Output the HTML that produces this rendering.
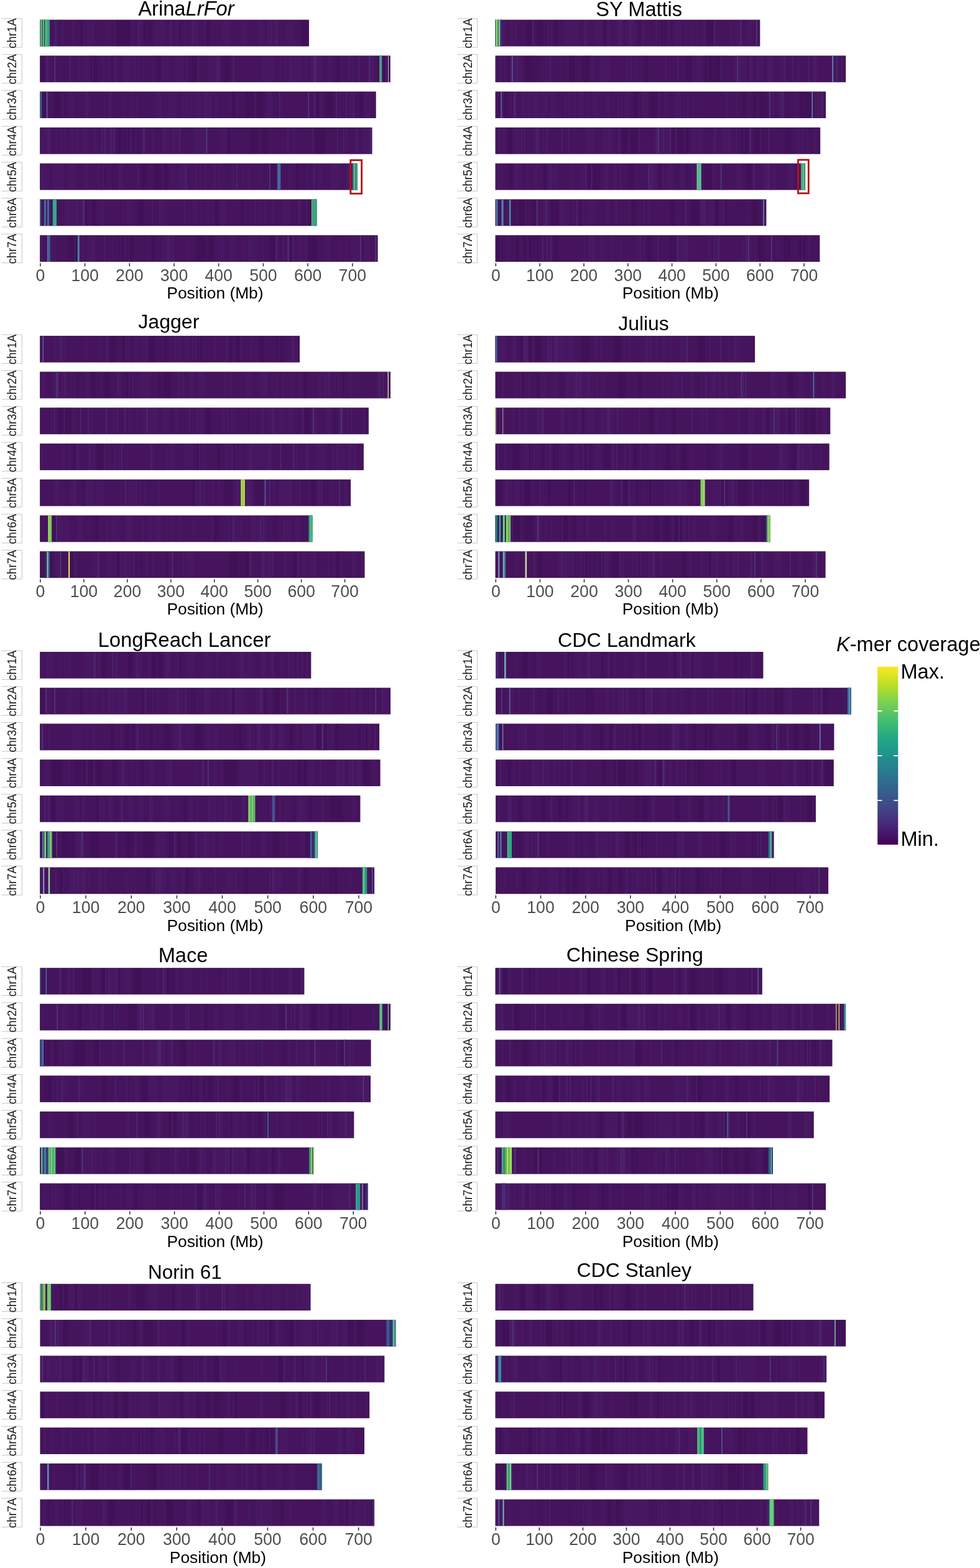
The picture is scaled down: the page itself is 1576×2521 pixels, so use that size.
<!DOCTYPE html>
<html lang="en">
<head>
<meta charset="utf-8">
<title>K-mer coverage across chromosomes</title>
<style>
html,body{margin:0;padding:0;background:#fff;}
body{width:1576px;height:2521px;overflow:hidden;}
svg{display:block;font-family:"Liberation Sans",sans-serif;}
.t{fill:#000;}
.ax{font-size:26.35px;fill:#000;text-anchor:middle;}
.tk{font-size:28.2px;fill:#4d4d4d;text-anchor:middle;}
.st{font-size:19.9px;fill:#1a1a1a;text-anchor:middle;}
.lg{font-size:32.6px;fill:#000;}
.sb{fill:none;stroke:#c4c4c4;stroke-width:1;}
.tm{stroke:#333;stroke-width:1.6;fill:none;}
</style>
</head>
<body>
<svg width="1576" height="2521" viewBox="0 0 1576 2521">
<defs>
<linearGradient id="vir" x1="0" y1="1" x2="0" y2="0">
<stop offset="0" stop-color="#440154"/><stop offset="0.1" stop-color="#482475"/><stop offset="0.2" stop-color="#414487"/>
<stop offset="0.3" stop-color="#355f8d"/><stop offset="0.4" stop-color="#2a788e"/><stop offset="0.5" stop-color="#21918c"/>
<stop offset="0.6" stop-color="#22a884"/><stop offset="0.7" stop-color="#44bf70"/><stop offset="0.8" stop-color="#7ad151"/>
<stop offset="0.9" stop-color="#bddf26"/><stop offset="1" stop-color="#fde725"/>
</linearGradient>
</defs>
<rect width="1576" height="2521" fill="#fff"/>

<g>
<text class="t" x="299.4" y="24.9" font-size="32.7" text-anchor="middle">Arina<tspan font-style="italic">LrFor</tspan></text>
<path class="sb" d="M2.6 29.8H35.2V76.2H2.6"/>
<text class="st" transform="translate(25.9 53.6) rotate(-90) scale(0.93 1)">chr1A</text>
<rect x="64.1" y="31.7" width="432.9" height="42.8" fill="#45145c"/>
<path d="M89.68 31.7h3.69v42.8h-3.69zM93.8 31.7h7.77v42.8h-7.77zM114.55 31.7h4.59v42.8h-4.59zM140.17 31.7h11.98v42.8h-11.98zM221.58 31.7h10.03v42.8h-10.03zM244.72 31.7h10.48v42.8h-10.48zM256 31.7h9.44v42.8h-9.44zM262.47 31.7h3.25v42.8h-3.25zM273.49 31.7h4.67v42.8h-4.67zM281.92 31.7h3.64v42.8h-3.64zM294.05 31.7h3.8v42.8h-3.8zM309.61 31.7h9.54v42.8h-9.54zM358.49 31.7h11.74v42.8h-11.74zM387.17 31.7h10.35v42.8h-10.35zM415.7 31.7h7.67v42.8h-7.67zM432.72 31.7h3.51v42.8h-3.51zM461.49 31.7h12.24v42.8h-12.24z" fill="#6a4aa0" fill-opacity="0.08"/>
<path d="M89.74 31.7h10.31v42.8h-10.31zM128.41 31.7h6.56v42.8h-6.56zM185.57 31.7h11.02v42.8h-11.02zM195.96 31.7h12.63v42.8h-12.63zM228.74 31.7h6.13v42.8h-6.13zM232.11 31.7h9.35v42.8h-9.35zM243.31 31.7h4.3v42.8h-4.3zM286.56 31.7h9.32v42.8h-9.32zM332.29 31.7h5.46v42.8h-5.46zM483.96 31.7h10.12v42.8h-10.12z" fill="#25003a" fill-opacity="0.1"/>
<path d="M64.7 31.7h1.06v42.8h-1.06zM66.36 31.7h1.32v42.8h-1.32zM76.23 31.7h1.65v42.8h-1.65zM90 31.7h1.14v42.8h-1.14zM91.38 31.7h1.76v42.8h-1.76zM99.24 31.7h2.05v42.8h-2.05zM134 31.7h1.99v42.8h-1.99zM134.5 31.7h1.25v42.8h-1.25zM140.5 31.7h1.18v42.8h-1.18zM171.26 31.7h1.16v42.8h-1.16zM184.28 31.7h2.04v42.8h-2.04zM212.2 31.7h1.12v42.8h-1.12zM214.18 31.7h1.3v42.8h-1.3zM221.24 31.7h1.12v42.8h-1.12zM222.5 31.7h1.31v42.8h-1.31zM236.33 31.7h1.47v42.8h-1.47zM272.81 31.7h1.56v42.8h-1.56zM273.43 31.7h1.28v42.8h-1.28zM286.3 31.7h1.83v42.8h-1.83zM291.62 31.7h2.14v42.8h-2.14zM328.56 31.7h2.05v42.8h-2.05zM435.59 31.7h2.17v42.8h-2.17zM440.61 31.7h1.94v42.8h-1.94z" fill="#6a52a8" fill-opacity="0.12"/>
<path d="M87.82 31.7h1.81v42.8h-1.81zM308.39 31.7h1.44v42.8h-1.44zM430.28 31.7h1.15v42.8h-1.15zM444.67 31.7h1.66v42.8h-1.66zM445.22 31.7h1.43v42.8h-1.43z" fill="#6f62b8" fill-opacity="0.18"/>
<rect x="64.1" y="31.7" width="1.5" height="42.8" fill="#3f9070"/>
<rect x="65.6" y="31.7" width="1.6" height="42.8" fill="#80d080"/>
<rect x="67.2" y="31.7" width="1.6" height="42.8" fill="#2f7a60"/>
<rect x="68.8" y="31.7" width="2.1" height="42.8" fill="#70b0a0"/>
<rect x="70.9" y="31.7" width="1.8" height="42.8" fill="#1f6a58"/>
<rect x="72.7" y="31.7" width="1.3" height="42.8" fill="#70c888"/>
<rect x="74" y="31.7" width="3.8" height="42.8" fill="#45b080"/>
<rect x="77.8" y="31.7" width="2.2" height="42.8" fill="#3a9a88"/>
<path class="sb" d="M2.6 87.54H35.2V133.94H2.6"/>
<text class="st" transform="translate(25.9 111.34) rotate(-90) scale(0.93 1)">chr2A</text>
<rect x="64.1" y="89.44" width="563.7" height="42.8" fill="#45145c"/>
<path d="M74.48 89.44h8.76v42.8h-8.76zM136.75 89.44h9.04v42.8h-9.04zM180.51 89.44h12.09v42.8h-12.09zM186.83 89.44h7.01v42.8h-7.01zM198.2 89.44h6.22v42.8h-6.22zM201.9 89.44h9.16v42.8h-9.16zM220.68 89.44h3.31v42.8h-3.31zM244.88 89.44h9.12v42.8h-9.12zM258.93 89.44h13.01v42.8h-13.01zM261.44 89.44h8.69v42.8h-8.69zM281.82 89.44h13.69v42.8h-13.69zM297.84 89.44h5.85v42.8h-5.85zM328.19 89.44h11.25v42.8h-11.25zM340.31 89.44h13.09v42.8h-13.09zM421.43 89.44h13.68v42.8h-13.68zM425.54 89.44h13.78v42.8h-13.78zM462.95 89.44h13.41v42.8h-13.41zM472.29 89.44h12v42.8h-12zM499.05 89.44h9.11v42.8h-9.11zM506.72 89.44h10.18v42.8h-10.18zM527.01 89.44h12.9v42.8h-12.9zM565.34 89.44h9.42v42.8h-9.42zM593.13 89.44h10.62v42.8h-10.62z" fill="#6a4aa0" fill-opacity="0.08"/>
<path d="M66.3 89.44h5.01v42.8h-5.01zM144.76 89.44h11.87v42.8h-11.87zM148.64 89.44h4.4v42.8h-4.4zM178.25 89.44h5.16v42.8h-5.16zM188.35 89.44h6.63v42.8h-6.63zM247.66 89.44h11.68v42.8h-11.68zM302.88 89.44h13.27v42.8h-13.27zM328.69 89.44h4.9v42.8h-4.9zM358.2 89.44h11.49v42.8h-11.49zM532.93 89.44h13.83v42.8h-13.83zM567.6 89.44h10.27v42.8h-10.27zM607.91 89.44h13.31v42.8h-13.31z" fill="#25003a" fill-opacity="0.1"/>
<path d="M74.75 89.44h1.53v42.8h-1.53zM75.53 89.44h1.87v42.8h-1.87zM126.05 89.44h1.29v42.8h-1.29zM132.9 89.44h1.16v42.8h-1.16zM137.14 89.44h1.32v42.8h-1.32zM164.42 89.44h1.6v42.8h-1.6zM174.47 89.44h1.41v42.8h-1.41zM177.92 89.44h1.06v42.8h-1.06zM199.75 89.44h1.09v42.8h-1.09zM205.27 89.44h1.02v42.8h-1.02zM213.73 89.44h1.13v42.8h-1.13zM216.26 89.44h1.93v42.8h-1.93zM306.9 89.44h1.19v42.8h-1.19zM318.31 89.44h1.83v42.8h-1.83zM348.2 89.44h1.74v42.8h-1.74zM349.31 89.44h1.93v42.8h-1.93zM351.95 89.44h1.75v42.8h-1.75zM373.64 89.44h1.88v42.8h-1.88zM451.12 89.44h1.07v42.8h-1.07zM457.54 89.44h1.68v42.8h-1.68zM466.71 89.44h1.19v42.8h-1.19zM490.93 89.44h1.37v42.8h-1.37zM549.15 89.44h1.08v42.8h-1.08zM576.31 89.44h1.91v42.8h-1.91zM591.59 89.44h1.09v42.8h-1.09zM592.83 89.44h2.05v42.8h-2.05zM592.9 89.44h1.57v42.8h-1.57zM599.37 89.44h1.26v42.8h-1.26z" fill="#6a52a8" fill-opacity="0.12"/>
<path d="M111.56 89.44h1.96v42.8h-1.96zM148.45 89.44h1.31v42.8h-1.31zM375.03 89.44h1.41v42.8h-1.41zM504.31 89.44h1.8v42.8h-1.8zM506.49 89.44h2.18v42.8h-2.18zM560.34 89.44h1.17v42.8h-1.17zM576.08 89.44h1.51v42.8h-1.51zM593.8 89.44h1.67v42.8h-1.67zM620.03 89.44h1.58v42.8h-1.58z" fill="#6f62b8" fill-opacity="0.18"/>
<rect x="87.5" y="89.44" width="1.5" height="42.8" fill="#503c7c"/>
<rect x="610" y="89.44" width="4.3" height="42.8" fill="#4f9a87"/>
<rect x="624" y="89.44" width="1.1" height="42.8" fill="#a8b8c8"/>
<path class="sb" d="M2.6 145.28H35.2V191.68H2.6"/>
<text class="st" transform="translate(25.9 169.08) rotate(-90) scale(0.93 1)">chr3A</text>
<rect x="64.1" y="147.18" width="540.6" height="42.8" fill="#45145c"/>
<path d="M76.18 147.18h3.46v42.8h-3.46zM112.09 147.18h5.91v42.8h-5.91zM135.61 147.18h3.34v42.8h-3.34zM137.75 147.18h11.93v42.8h-11.93zM147.99 147.18h8.05v42.8h-8.05zM151.4 147.18h5.81v42.8h-5.81zM193.56 147.18h6.1v42.8h-6.1zM249.4 147.18h7.45v42.8h-7.45zM254.59 147.18h6.41v42.8h-6.41zM269.74 147.18h12.67v42.8h-12.67zM271.81 147.18h12.18v42.8h-12.18zM292.55 147.18h12.01v42.8h-12.01zM317.28 147.18h7.2v42.8h-7.2zM330.36 147.18h11.23v42.8h-11.23zM334.33 147.18h5.21v42.8h-5.21zM377.41 147.18h5.56v42.8h-5.56zM431.62 147.18h10.51v42.8h-10.51zM512.47 147.18h4.15v42.8h-4.15zM561.68 147.18h8.22v42.8h-8.22zM584.83 147.18h10.57v42.8h-10.57z" fill="#6a4aa0" fill-opacity="0.08"/>
<path d="M65.86 147.18h8.38v42.8h-8.38zM87.33 147.18h10.08v42.8h-10.08zM102.02 147.18h4.43v42.8h-4.43zM142.83 147.18h13.83v42.8h-13.83zM194.04 147.18h9.02v42.8h-9.02zM372.78 147.18h12.09v42.8h-12.09zM395.2 147.18h12.81v42.8h-12.81zM396.43 147.18h9.91v42.8h-9.91zM412.17 147.18h11.26v42.8h-11.26zM437.57 147.18h12.16v42.8h-12.16zM508.33 147.18h8.55v42.8h-8.55zM524.05 147.18h12.25v42.8h-12.25zM578.37 147.18h5.9v42.8h-5.9z" fill="#25003a" fill-opacity="0.1"/>
<path d="M100.12 147.18h1.79v42.8h-1.79zM104.68 147.18h1.3v42.8h-1.3zM140.33 147.18h1.36v42.8h-1.36zM166.74 147.18h1.61v42.8h-1.61zM174.95 147.18h1.88v42.8h-1.88zM177.85 147.18h2.13v42.8h-2.13zM198.61 147.18h2.12v42.8h-2.12zM201.33 147.18h1.18v42.8h-1.18zM209.15 147.18h1.54v42.8h-1.54zM209.34 147.18h1.07v42.8h-1.07zM212.66 147.18h1.51v42.8h-1.51zM218.53 147.18h1.77v42.8h-1.77zM264.95 147.18h1.35v42.8h-1.35zM307.04 147.18h1.88v42.8h-1.88zM314.58 147.18h1.62v42.8h-1.62zM325.91 147.18h2.08v42.8h-2.08zM329.43 147.18h1v42.8h-1zM330.06 147.18h2.17v42.8h-2.17zM370.19 147.18h1.37v42.8h-1.37zM381.22 147.18h2.2v42.8h-2.2zM410.32 147.18h1.74v42.8h-1.74zM427.97 147.18h1.83v42.8h-1.83zM432.45 147.18h1.57v42.8h-1.57zM442.67 147.18h2.06v42.8h-2.06zM451.69 147.18h1.66v42.8h-1.66zM506.24 147.18h1.16v42.8h-1.16zM514.05 147.18h1.12v42.8h-1.12zM515.79 147.18h1.9v42.8h-1.9zM516.83 147.18h1.38v42.8h-1.38zM545.8 147.18h1.14v42.8h-1.14zM567.77 147.18h2.17v42.8h-2.17z" fill="#6a52a8" fill-opacity="0.12"/>
<path d="M346.77 147.18h1.17v42.8h-1.17zM447.84 147.18h2.11v42.8h-2.11zM505.75 147.18h1.55v42.8h-1.55zM539.85 147.18h2.15v42.8h-2.15zM555.88 147.18h1.76v42.8h-1.76z" fill="#6f62b8" fill-opacity="0.18"/>
<rect x="64.1" y="147.18" width="3.1" height="42.8" fill="#3e5a8e"/>
<rect x="75" y="147.18" width="1.2" height="42.8" fill="#6670a8"/>
<rect x="495.5" y="147.18" width="1.5" height="42.8" fill="#503c7c"/>
<path class="sb" d="M2.6 203.02H35.2V249.42H2.6"/>
<text class="st" transform="translate(25.9 226.82) rotate(-90) scale(0.93 1)">chr4A</text>
<rect x="64.1" y="204.92" width="534.4" height="42.8" fill="#45145c"/>
<path d="M69.59 204.92h9.61v42.8h-9.61zM101.4 204.92h4.23v42.8h-4.23zM112.16 204.92h6.76v42.8h-6.76zM121.75 204.92h5.73v42.8h-5.73zM130.46 204.92h13.19v42.8h-13.19zM149.71 204.92h4.84v42.8h-4.84zM166.05 204.92h4.54v42.8h-4.54zM176.81 204.92h12.49v42.8h-12.49zM223.37 204.92h10.1v42.8h-10.1zM262.19 204.92h8.77v42.8h-8.77zM267.84 204.92h9.41v42.8h-9.41zM275.44 204.92h5.73v42.8h-5.73zM280.05 204.92h11.25v42.8h-11.25zM310.93 204.92h12.85v42.8h-12.85zM312.06 204.92h12.72v42.8h-12.72zM323.29 204.92h12.97v42.8h-12.97zM354.39 204.92h8.03v42.8h-8.03zM358.42 204.92h6.31v42.8h-6.31zM583.69 204.92h12.97v42.8h-12.97z" fill="#6a4aa0" fill-opacity="0.08"/>
<path d="M81.23 204.92h3.24v42.8h-3.24zM185.69 204.92h11.61v42.8h-11.61zM199.56 204.92h13.74v42.8h-13.74zM211.38 204.92h3.68v42.8h-3.68zM221.21 204.92h6.78v42.8h-6.78zM272.15 204.92h3v42.8h-3zM330.91 204.92h4.38v42.8h-4.38zM365.18 204.92h5.84v42.8h-5.84zM400.46 204.92h5.77v42.8h-5.77zM402.96 204.92h10.94v42.8h-10.94zM422.64 204.92h8.75v42.8h-8.75zM506.18 204.92h13.49v42.8h-13.49zM510.92 204.92h12.08v42.8h-12.08zM568.82 204.92h8.07v42.8h-8.07z" fill="#25003a" fill-opacity="0.1"/>
<path d="M66.13 204.92h1.2v42.8h-1.2zM76.19 204.92h1.37v42.8h-1.37zM77.49 204.92h2.13v42.8h-2.13zM80.69 204.92h2.08v42.8h-2.08zM81.55 204.92h1.9v42.8h-1.9zM92.19 204.92h1.17v42.8h-1.17zM167.15 204.92h2.1v42.8h-2.1zM169.9 204.92h1.82v42.8h-1.82zM174.78 204.92h2.16v42.8h-2.16zM182.43 204.92h1.28v42.8h-1.28zM183.45 204.92h1.22v42.8h-1.22zM203.99 204.92h1.74v42.8h-1.74zM211.24 204.92h1.38v42.8h-1.38zM244.56 204.92h1.04v42.8h-1.04zM263.49 204.92h1.45v42.8h-1.45zM287.88 204.92h1.81v42.8h-1.81zM316.64 204.92h1.06v42.8h-1.06zM332.95 204.92h1.89v42.8h-1.89zM472.03 204.92h1.97v42.8h-1.97zM501.43 204.92h1.99v42.8h-1.99zM551.69 204.92h1.91v42.8h-1.91zM556.41 204.92h1.8v42.8h-1.8zM568.96 204.92h1.8v42.8h-1.8zM571.07 204.92h1.35v42.8h-1.35zM572.91 204.92h1.42v42.8h-1.42zM575.75 204.92h1.3v42.8h-1.3z" fill="#6a52a8" fill-opacity="0.12"/>
<path d="M97.91 204.92h1.04v42.8h-1.04zM163.29 204.92h1.4v42.8h-1.4zM177.87 204.92h1.47v42.8h-1.47zM209.47 204.92h1.41v42.8h-1.41zM230.19 204.92h2.16v42.8h-2.16zM462.23 204.92h1.31v42.8h-1.31zM542.36 204.92h1.47v42.8h-1.47zM573.44 204.92h1.57v42.8h-1.57zM594.81 204.92h1.88v42.8h-1.88z" fill="#6f62b8" fill-opacity="0.18"/>
<rect x="331.5" y="204.92" width="1.5" height="42.8" fill="#503c7c"/>
<path class="sb" d="M2.6 260.76H35.2V307.16H2.6"/>
<text class="st" transform="translate(25.9 284.56) rotate(-90) scale(0.93 1)">chr5A</text>
<rect x="64.1" y="262.66" width="511" height="42.8" fill="#45145c"/>
<path d="M69.86 262.66h5.24v42.8h-5.24zM84.2 262.66h13.06v42.8h-13.06zM96.81 262.66h5.72v42.8h-5.72zM112.99 262.66h3.92v42.8h-3.92zM135.34 262.66h7.06v42.8h-7.06zM156.77 262.66h10.46v42.8h-10.46zM189.25 262.66h5.19v42.8h-5.19zM190.56 262.66h7.25v42.8h-7.25zM287.67 262.66h10.81v42.8h-10.81zM287.97 262.66h12.53v42.8h-12.53zM367.42 262.66h11.5v42.8h-11.5zM374.97 262.66h9.56v42.8h-9.56zM490.14 262.66h4.33v42.8h-4.33zM511.77 262.66h4.69v42.8h-4.69zM530.54 262.66h8.43v42.8h-8.43zM530.66 262.66h9.42v42.8h-9.42zM536.43 262.66h11.56v42.8h-11.56zM556.31 262.66h12.72v42.8h-12.72zM560.38 262.66h10.19v42.8h-10.19z" fill="#6a4aa0" fill-opacity="0.08"/>
<path d="M160.15 262.66h4.31v42.8h-4.31zM164.16 262.66h3.87v42.8h-3.87zM180.35 262.66h8.58v42.8h-8.58zM227.61 262.66h9.08v42.8h-9.08zM246.65 262.66h6.52v42.8h-6.52zM251.24 262.66h9.24v42.8h-9.24zM263.88 262.66h6.59v42.8h-6.59zM366.93 262.66h5.8v42.8h-5.8zM376.37 262.66h7.59v42.8h-7.59zM432.73 262.66h11.83v42.8h-11.83zM475.93 262.66h8.22v42.8h-8.22zM487.4 262.66h11.23v42.8h-11.23z" fill="#25003a" fill-opacity="0.1"/>
<path d="M76.49 262.66h1.53v42.8h-1.53zM109.82 262.66h2.09v42.8h-2.09zM116.2 262.66h1.08v42.8h-1.08zM119.04 262.66h1.57v42.8h-1.57zM164.82 262.66h2.16v42.8h-2.16zM164.89 262.66h1.44v42.8h-1.44zM175.58 262.66h1.22v42.8h-1.22zM184.2 262.66h1.59v42.8h-1.59zM259.6 262.66h1.62v42.8h-1.62zM278.26 262.66h1.37v42.8h-1.37zM297.44 262.66h1.94v42.8h-1.94zM298.71 262.66h2.06v42.8h-2.06zM321.15 262.66h1.45v42.8h-1.45zM344.18 262.66h1.72v42.8h-1.72zM345.33 262.66h1.02v42.8h-1.02zM350.8 262.66h1.05v42.8h-1.05zM352.75 262.66h1.37v42.8h-1.37zM389.52 262.66h1.66v42.8h-1.66zM399.61 262.66h1.51v42.8h-1.51zM418.43 262.66h1.2v42.8h-1.2zM464.43 262.66h1.19v42.8h-1.19zM469.2 262.66h1.24v42.8h-1.24zM481.75 262.66h1.51v42.8h-1.51zM491.21 262.66h1.05v42.8h-1.05zM535.96 262.66h1.06v42.8h-1.06zM560.05 262.66h2.13v42.8h-2.13z" fill="#6a52a8" fill-opacity="0.12"/>
<path d="M67.59 262.66h1.24v42.8h-1.24zM221.06 262.66h1.34v42.8h-1.34zM314.21 262.66h1.13v42.8h-1.13zM329.69 262.66h1.34v42.8h-1.34zM379.68 262.66h2.09v42.8h-2.09zM433.35 262.66h1.3v42.8h-1.3zM494.98 262.66h1.49v42.8h-1.49zM504.07 262.66h1.5v42.8h-1.5z" fill="#6f62b8" fill-opacity="0.18"/>
<rect x="433" y="262.66" width="1.5" height="42.8" fill="#503c7c"/>
<rect x="446" y="262.66" width="5.3" height="42.8" fill="#3f6a9c"/>
<rect x="567.2" y="262.66" width="2" height="42.8" fill="#3a9088"/>
<rect x="569.2" y="262.66" width="1.8" height="42.8" fill="#70c080"/>
<rect x="571" y="262.66" width="1.5" height="42.8" fill="#2a8a78"/>
<rect x="572.5" y="262.66" width="2.6" height="42.8" fill="#45a880"/>
<path class="sb" d="M2.6 318.5H35.2V364.9H2.6"/>
<text class="st" transform="translate(25.9 342.3) rotate(-90) scale(0.93 1)">chr6A</text>
<rect x="64.1" y="320.4" width="445.4" height="42.8" fill="#45145c"/>
<path d="M79.05 320.4h3.02v42.8h-3.02zM87.8 320.4h8.63v42.8h-8.63zM104.24 320.4h7.74v42.8h-7.74zM114.02 320.4h11.63v42.8h-11.63zM126.33 320.4h11.97v42.8h-11.97zM154.15 320.4h13.12v42.8h-13.12zM203.48 320.4h8.57v42.8h-8.57zM256.05 320.4h11.41v42.8h-11.41zM313.23 320.4h13.9v42.8h-13.9zM353.44 320.4h9.44v42.8h-9.44zM413.53 320.4h7.34v42.8h-7.34zM453.54 320.4h10.48v42.8h-10.48zM459.16 320.4h4.75v42.8h-4.75zM480.81 320.4h7.16v42.8h-7.16z" fill="#6a4aa0" fill-opacity="0.08"/>
<path d="M81.91 320.4h8.61v42.8h-8.61zM85.07 320.4h11.18v42.8h-11.18zM135.1 320.4h5v42.8h-5zM148.06 320.4h11.96v42.8h-11.96zM219.08 320.4h3.72v42.8h-3.72zM220.75 320.4h10v42.8h-10zM317.17 320.4h9.11v42.8h-9.11zM345.12 320.4h5.79v42.8h-5.79zM387.93 320.4h3.9v42.8h-3.9zM411.45 320.4h4.82v42.8h-4.82zM482.14 320.4h8.41v42.8h-8.41zM495.39 320.4h12.43v42.8h-12.43zM502.24 320.4h4.15v42.8h-4.15z" fill="#25003a" fill-opacity="0.1"/>
<path d="M69.69 320.4h1.32v42.8h-1.32zM71.34 320.4h2.06v42.8h-2.06zM74.47 320.4h1.78v42.8h-1.78zM107.06 320.4h1.18v42.8h-1.18zM111.25 320.4h1.27v42.8h-1.27zM111.72 320.4h1.43v42.8h-1.43zM123 320.4h2.07v42.8h-2.07zM197.63 320.4h1.37v42.8h-1.37zM213.35 320.4h1.05v42.8h-1.05zM219.7 320.4h1.67v42.8h-1.67zM244.36 320.4h1.64v42.8h-1.64zM255.93 320.4h1.74v42.8h-1.74zM296.11 320.4h1.95v42.8h-1.95zM309.97 320.4h1.32v42.8h-1.32zM323.21 320.4h1.27v42.8h-1.27zM334.08 320.4h1.24v42.8h-1.24zM341.1 320.4h1.25v42.8h-1.25zM393.08 320.4h1.56v42.8h-1.56zM409.9 320.4h1.07v42.8h-1.07zM410.59 320.4h2.05v42.8h-2.05zM410.94 320.4h2.07v42.8h-2.07zM424.63 320.4h1.77v42.8h-1.77zM438.72 320.4h1.83v42.8h-1.83zM439.01 320.4h1.01v42.8h-1.01zM464.94 320.4h1.3v42.8h-1.3zM479.64 320.4h1.53v42.8h-1.53zM479.73 320.4h1.16v42.8h-1.16zM481.18 320.4h1.66v42.8h-1.66zM491.8 320.4h1.77v42.8h-1.77z" fill="#6a52a8" fill-opacity="0.12"/>
<rect x="64.1" y="320.4" width="2.1" height="42.8" fill="#3e5a8e"/>
<rect x="71" y="320.4" width="3" height="42.8" fill="#3f6a9c"/>
<rect x="76" y="320.4" width="3" height="42.8" fill="#3f6a9c"/>
<rect x="83.6" y="320.4" width="1.4" height="42.8" fill="#2a3a70"/>
<rect x="85" y="320.4" width="6" height="42.8" fill="#3aa787"/>
<rect x="501" y="320.4" width="1.3" height="42.8" fill="#8fd070"/>
<rect x="502.3" y="320.4" width="7.2" height="42.8" fill="#35a585"/>
<rect x="133.8" y="320.4" width="1.5" height="42.8" fill="#503c7c"/>
<path class="sb" d="M2.6 376.24H35.2V422.64H2.6"/>
<text class="st" transform="translate(25.9 400.04) rotate(-90) scale(0.93 1)">chr7A</text>
<rect x="64.1" y="378.14" width="543.5" height="42.8" fill="#45145c"/>
<path d="M64.8 378.14h4.87v42.8h-4.87zM79.59 378.14h4.56v42.8h-4.56zM80.63 378.14h9.8v42.8h-9.8zM99.11 378.14h11.1v42.8h-11.1zM124.37 378.14h5.26v42.8h-5.26zM140.8 378.14h13.02v42.8h-13.02zM202.79 378.14h3.23v42.8h-3.23zM235.87 378.14h5.25v42.8h-5.25zM260.12 378.14h10.87v42.8h-10.87zM330.42 378.14h5.03v42.8h-5.03zM350.66 378.14h10.75v42.8h-10.75zM367.82 378.14h10.97v42.8h-10.97zM399.18 378.14h5.33v42.8h-5.33zM399.71 378.14h12.08v42.8h-12.08zM478.21 378.14h7.8v42.8h-7.8zM521.01 378.14h10.67v42.8h-10.67zM565.01 378.14h13.06v42.8h-13.06zM565.11 378.14h4.17v42.8h-4.17zM584.44 378.14h11.38v42.8h-11.38z" fill="#6a4aa0" fill-opacity="0.08"/>
<path d="M99.1 378.14h12.8v42.8h-12.8zM112.36 378.14h12.48v42.8h-12.48zM116.89 378.14h4.1v42.8h-4.1zM192.51 378.14h6.61v42.8h-6.61zM202.56 378.14h12.15v42.8h-12.15zM238.09 378.14h11.21v42.8h-11.21zM312.8 378.14h13.77v42.8h-13.77zM327.09 378.14h8.4v42.8h-8.4zM331.03 378.14h13.6v42.8h-13.6zM401.88 378.14h10.62v42.8h-10.62zM433.77 378.14h9.94v42.8h-9.94zM464.23 378.14h5.6v42.8h-5.6zM495.42 378.14h12.32v42.8h-12.32zM502.72 378.14h7v42.8h-7z" fill="#25003a" fill-opacity="0.1"/>
<path d="M124.06 378.14h1.6v42.8h-1.6zM132.77 378.14h1.7v42.8h-1.7zM149.04 378.14h1.19v42.8h-1.19zM180.79 378.14h1.34v42.8h-1.34zM193.19 378.14h2.06v42.8h-2.06zM199.82 378.14h1.76v42.8h-1.76zM241.35 378.14h1.42v42.8h-1.42zM274.79 378.14h1.25v42.8h-1.25zM302.12 378.14h1.2v42.8h-1.2zM314.05 378.14h1.28v42.8h-1.28zM347.16 378.14h1.39v42.8h-1.39zM391.41 378.14h1.17v42.8h-1.17zM400.84 378.14h1.55v42.8h-1.55zM404.03 378.14h1.94v42.8h-1.94zM404.58 378.14h1.38v42.8h-1.38zM406.65 378.14h1.6v42.8h-1.6zM409.92 378.14h1.24v42.8h-1.24zM411.47 378.14h1.82v42.8h-1.82zM422.46 378.14h2.01v42.8h-2.01zM460.98 378.14h1.95v42.8h-1.95zM469.72 378.14h1.69v42.8h-1.69zM471.66 378.14h1.91v42.8h-1.91zM487.86 378.14h1.5v42.8h-1.5zM491.18 378.14h1.1v42.8h-1.1zM492.55 378.14h1.48v42.8h-1.48zM545.6 378.14h1.1v42.8h-1.1zM555.48 378.14h1.89v42.8h-1.89z" fill="#6a52a8" fill-opacity="0.12"/>
<path d="M119.64 378.14h1.87v42.8h-1.87zM167.02 378.14h1.39v42.8h-1.39zM207.06 378.14h1.25v42.8h-1.25zM269.77 378.14h1.6v42.8h-1.6zM272.62 378.14h1.12v42.8h-1.12zM278.09 378.14h1.48v42.8h-1.48zM443.04 378.14h1.93v42.8h-1.93zM445.11 378.14h1.36v42.8h-1.36zM455.48 378.14h1.27v42.8h-1.27z" fill="#6f62b8" fill-opacity="0.18"/>
<rect x="76.2" y="378.14" width="1.2" height="42.8" fill="#6a9ab8"/>
<rect x="77.4" y="378.14" width="3.2" height="42.8" fill="#41679a"/>
<rect x="125" y="378.14" width="2.7" height="42.8" fill="#4a88a8"/>
<rect x="463" y="378.14" width="1.5" height="42.8" fill="#503c7c"/>
<rect x="579" y="378.14" width="1.5" height="42.8" fill="#503c7c"/>
<rect x="603.5" y="378.14" width="1.5" height="42.8" fill="#503c7c"/>
<text class="tk" transform="translate(64.9 451.84) scale(0.945 1)">0</text>
<text class="tk" transform="translate(136.6 451.84) scale(0.945 1)">100</text>
<text class="tk" transform="translate(208.3 451.84) scale(0.945 1)">200</text>
<text class="tk" transform="translate(280 451.84) scale(0.945 1)">300</text>
<text class="tk" transform="translate(351.7 451.84) scale(0.945 1)">400</text>
<text class="tk" transform="translate(423.4 451.84) scale(0.945 1)">500</text>
<text class="tk" transform="translate(495.1 451.84) scale(0.945 1)">600</text>
<text class="tk" transform="translate(566.8 451.84) scale(0.945 1)">700</text>
<path class="tm" d="M64.9 423.14v5M136.6 423.14v5M208.3 423.14v5M280 423.14v5M351.7 423.14v5M423.4 423.14v5M495.1 423.14v5M566.8 423.14v5"/>
<text class="ax" x="345.95" y="480.24">Position (Mb)</text>
<rect x="563.8" y="257.5" width="17.8" height="53.8" fill="none" stroke="#b31218" stroke-width="2.8"/>
</g>
<g>
<text class="t" x="1027.75" y="26.4" font-size="32.6" text-anchor="middle">SY Mattis</text>
<path class="sb" d="M735.6 29.8H767.6V76.2H735.6"/>
<text class="st" transform="translate(758.9 53.6) rotate(-90) scale(0.93 1)">chr1A</text>
<rect x="796.5" y="31.7" width="425.8" height="42.8" fill="#45145c"/>
<path d="M802.07 31.7h7.4v42.8h-7.4zM820.22 31.7h6.91v42.8h-6.91zM907.06 31.7h12.36v42.8h-12.36zM919.43 31.7h8.15v42.8h-8.15zM923.3 31.7h5.69v42.8h-5.69zM958.77 31.7h11.82v42.8h-11.82zM975.47 31.7h5.79v42.8h-5.79zM991.59 31.7h9.98v42.8h-9.98zM1010.65 31.7h13.35v42.8h-13.35zM1013.9 31.7h13.34v42.8h-13.34zM1084.27 31.7h5.31v42.8h-5.31zM1088.49 31.7h7.63v42.8h-7.63zM1101.65 31.7h3.03v42.8h-3.03zM1119.91 31.7h10.2v42.8h-10.2zM1147.86 31.7h4.38v42.8h-4.38zM1182.88 31.7h10.43v42.8h-10.43zM1201.63 31.7h5.49v42.8h-5.49zM1203.32 31.7h8.39v42.8h-8.39z" fill="#6a4aa0" fill-opacity="0.08"/>
<path d="M847.22 31.7h11.39v42.8h-11.39zM863.54 31.7h8.98v42.8h-8.98zM890.73 31.7h5.92v42.8h-5.92zM967.64 31.7h8.74v42.8h-8.74zM1021.83 31.7h9.32v42.8h-9.32zM1063.18 31.7h8.63v42.8h-8.63zM1123.75 31.7h4.42v42.8h-4.42zM1136.91 31.7h10.03v42.8h-10.03z" fill="#25003a" fill-opacity="0.1"/>
<path d="M803.34 31.7h1.76v42.8h-1.76zM809.07 31.7h1.76v42.8h-1.76zM811.33 31.7h2.08v42.8h-2.08zM828.87 31.7h2.15v42.8h-2.15zM856.01 31.7h1.28v42.8h-1.28zM857.47 31.7h1.12v42.8h-1.12zM880.45 31.7h2.01v42.8h-2.01zM886.11 31.7h1.92v42.8h-1.92zM943.5 31.7h1.93v42.8h-1.93zM955.53 31.7h2.01v42.8h-2.01zM994.92 31.7h1.07v42.8h-1.07zM997.9 31.7h1.44v42.8h-1.44zM1007.83 31.7h1.59v42.8h-1.59zM1012.8 31.7h2.18v42.8h-2.18zM1031.65 31.7h2.06v42.8h-2.06zM1035.1 31.7h1.56v42.8h-1.56zM1054.18 31.7h2.07v42.8h-2.07zM1066.76 31.7h1.51v42.8h-1.51zM1074.25 31.7h2.14v42.8h-2.14zM1110.95 31.7h1.64v42.8h-1.64zM1131.65 31.7h2.08v42.8h-2.08zM1175.12 31.7h1.8v42.8h-1.8zM1191 31.7h1.82v42.8h-1.82z" fill="#6a52a8" fill-opacity="0.12"/>
<path d="M799.79 31.7h2.04v42.8h-2.04zM856.37 31.7h1.94v42.8h-1.94zM940.25 31.7h1.75v42.8h-1.75zM1147.81 31.7h1.07v42.8h-1.07zM1190.19 31.7h1.43v42.8h-1.43z" fill="#6f62b8" fill-opacity="0.18"/>
<rect x="796.5" y="31.7" width="1.4" height="42.8" fill="#3a9060"/>
<rect x="797.9" y="31.7" width="2.3" height="42.8" fill="#a0d870"/>
<rect x="800.2" y="31.7" width="1.7" height="42.8" fill="#2a8a68"/>
<rect x="801.9" y="31.7" width="2.3" height="42.8" fill="#88c890"/>
<rect x="804.2" y="31.7" width="1.3" height="42.8" fill="#3f5a90"/>
<rect x="805.5" y="31.7" width="1.3" height="42.8" fill="#45307a"/>
<rect x="1216" y="31.7" width="1.5" height="42.8" fill="#503c7c"/>
<path class="sb" d="M735.6 87.54H767.6V133.94H735.6"/>
<text class="st" transform="translate(758.9 111.34) rotate(-90) scale(0.93 1)">chr2A</text>
<rect x="796.5" y="89.44" width="563.7" height="42.8" fill="#45145c"/>
<path d="M802.8 89.44h10.89v42.8h-10.89zM824.07 89.44h9v42.8h-9zM826.56 89.44h13.27v42.8h-13.27zM881.24 89.44h5.34v42.8h-5.34zM947.34 89.44h8.54v42.8h-8.54zM965 89.44h5.84v42.8h-5.84zM973.14 89.44h6.64v42.8h-6.64zM1013.51 89.44h3.16v42.8h-3.16zM1157.57 89.44h13.05v42.8h-13.05zM1179.85 89.44h3.05v42.8h-3.05zM1182.17 89.44h9.89v42.8h-9.89zM1189.26 89.44h9.91v42.8h-9.91zM1198.79 89.44h12.41v42.8h-12.41zM1205.85 89.44h5.66v42.8h-5.66zM1220.29 89.44h8.04v42.8h-8.04zM1230.4 89.44h12.05v42.8h-12.05zM1257.94 89.44h6.22v42.8h-6.22zM1305.76 89.44h9.33v42.8h-9.33zM1336.31 89.44h13.31v42.8h-13.31z" fill="#6a4aa0" fill-opacity="0.08"/>
<path d="M806.44 89.44h4.42v42.8h-4.42zM817.16 89.44h4.99v42.8h-4.99zM844.98 89.44h13.63v42.8h-13.63zM853.25 89.44h7.54v42.8h-7.54zM863.09 89.44h3.43v42.8h-3.43zM902.99 89.44h3.07v42.8h-3.07zM914.06 89.44h10.49v42.8h-10.49zM936.34 89.44h13.26v42.8h-13.26zM1036.47 89.44h6.5v42.8h-6.5zM1104.57 89.44h7.65v42.8h-7.65zM1133.38 89.44h13.01v42.8h-13.01zM1148.35 89.44h9.45v42.8h-9.45zM1156.49 89.44h13.72v42.8h-13.72zM1161.04 89.44h9.7v42.8h-9.7zM1201.39 89.44h3.44v42.8h-3.44zM1230.07 89.44h3.55v42.8h-3.55z" fill="#25003a" fill-opacity="0.1"/>
<path d="M797.95 89.44h1.34v42.8h-1.34zM856.56 89.44h1.45v42.8h-1.45zM878.28 89.44h1.81v42.8h-1.81zM884.56 89.44h1.94v42.8h-1.94zM903.11 89.44h1.71v42.8h-1.71zM912.92 89.44h1.56v42.8h-1.56zM970.12 89.44h1.72v42.8h-1.72zM1008.18 89.44h2.07v42.8h-2.07zM1013.48 89.44h1.5v42.8h-1.5zM1022.81 89.44h1.68v42.8h-1.68zM1069.67 89.44h2.03v42.8h-2.03zM1088.56 89.44h1.41v42.8h-1.41zM1089.57 89.44h2.06v42.8h-2.06zM1107.94 89.44h1.1v42.8h-1.1zM1115.26 89.44h1.58v42.8h-1.58zM1119.7 89.44h1.44v42.8h-1.44zM1137.72 89.44h1.28v42.8h-1.28zM1158.95 89.44h1.44v42.8h-1.44zM1190.64 89.44h1.22v42.8h-1.22zM1206.46 89.44h1.37v42.8h-1.37zM1236.83 89.44h2.13v42.8h-2.13zM1240.96 89.44h1.9v42.8h-1.9zM1249.97 89.44h1.11v42.8h-1.11zM1255.46 89.44h1.78v42.8h-1.78zM1261.06 89.44h1.84v42.8h-1.84zM1283.26 89.44h1.97v42.8h-1.97zM1309.5 89.44h1.82v42.8h-1.82z" fill="#6a52a8" fill-opacity="0.12"/>
<path d="M820.71 89.44h2.06v42.8h-2.06zM822.04 89.44h1.18v42.8h-1.18zM831.04 89.44h1.35v42.8h-1.35zM1122.39 89.44h1.28v42.8h-1.28zM1126.22 89.44h1.51v42.8h-1.51zM1218.2 89.44h1.24v42.8h-1.24zM1274.83 89.44h1.33v42.8h-1.33zM1299.7 89.44h1.72v42.8h-1.72zM1345.32 89.44h1.73v42.8h-1.73zM1353.27 89.44h1.04v42.8h-1.04z" fill="#6f62b8" fill-opacity="0.18"/>
<rect x="823.2" y="89.44" width="1.8" height="42.8" fill="#564c9c"/>
<rect x="1338.5" y="89.44" width="1.5" height="42.8" fill="#5a9ab8"/>
<rect x="1185.5" y="89.44" width="1.5" height="42.8" fill="#503c7c"/>
<path class="sb" d="M735.6 145.28H767.6V191.68H735.6"/>
<text class="st" transform="translate(758.9 169.08) rotate(-90) scale(0.93 1)">chr3A</text>
<rect x="796.5" y="147.18" width="531.6" height="42.8" fill="#45145c"/>
<path d="M816.41 147.18h5.79v42.8h-5.79zM840.55 147.18h4.99v42.8h-4.99zM851.35 147.18h11.34v42.8h-11.34zM861.77 147.18h5.83v42.8h-5.83zM869.01 147.18h12.78v42.8h-12.78zM884.58 147.18h6.68v42.8h-6.68zM913.32 147.18h4.57v42.8h-4.57zM922.11 147.18h4.85v42.8h-4.85zM929.74 147.18h13.55v42.8h-13.55zM931.64 147.18h3.42v42.8h-3.42zM934.77 147.18h12.58v42.8h-12.58zM952.22 147.18h10.45v42.8h-10.45zM1003.95 147.18h9.58v42.8h-9.58zM1031.56 147.18h7.32v42.8h-7.32zM1032.48 147.18h9.91v42.8h-9.91zM1084.67 147.18h10.85v42.8h-10.85zM1251.4 147.18h9.13v42.8h-9.13zM1268 147.18h13.42v42.8h-13.42zM1270.75 147.18h6.5v42.8h-6.5zM1310.19 147.18h13.62v42.8h-13.62zM1310.39 147.18h10.11v42.8h-10.11z" fill="#6a4aa0" fill-opacity="0.08"/>
<path d="M803.07 147.18h10.45v42.8h-10.45zM815.46 147.18h5.15v42.8h-5.15zM939.34 147.18h4.71v42.8h-4.71zM1018.01 147.18h11.57v42.8h-11.57zM1044.6 147.18h12.05v42.8h-12.05zM1194.36 147.18h4.59v42.8h-4.59zM1211.77 147.18h3.52v42.8h-3.52zM1222.42 147.18h11.44v42.8h-11.44zM1265.67 147.18h12.93v42.8h-12.93zM1286.46 147.18h4.07v42.8h-4.07zM1287.93 147.18h5.43v42.8h-5.43zM1295.32 147.18h10.05v42.8h-10.05z" fill="#25003a" fill-opacity="0.1"/>
<path d="M827.38 147.18h2.08v42.8h-2.08zM838.96 147.18h1.24v42.8h-1.24zM848.56 147.18h2.11v42.8h-2.11zM860.89 147.18h1.62v42.8h-1.62zM893.55 147.18h1.27v42.8h-1.27zM908.66 147.18h1.8v42.8h-1.8zM933.44 147.18h1.34v42.8h-1.34zM977.21 147.18h1.97v42.8h-1.97zM993.5 147.18h1.2v42.8h-1.2zM998.66 147.18h1.85v42.8h-1.85zM1059.04 147.18h1.73v42.8h-1.73zM1068.55 147.18h1.59v42.8h-1.59zM1072.3 147.18h1.01v42.8h-1.01zM1099.43 147.18h1.26v42.8h-1.26zM1105.15 147.18h1.97v42.8h-1.97zM1114.43 147.18h1.02v42.8h-1.02zM1121.19 147.18h1.25v42.8h-1.25zM1167.09 147.18h1.12v42.8h-1.12zM1168.68 147.18h1.63v42.8h-1.63zM1184.99 147.18h1.08v42.8h-1.08zM1204.86 147.18h1.22v42.8h-1.22zM1229.52 147.18h1.3v42.8h-1.3zM1237.24 147.18h1.22v42.8h-1.22zM1237.75 147.18h1v42.8h-1zM1254.51 147.18h1.98v42.8h-1.98zM1258.32 147.18h1.57v42.8h-1.57zM1314.94 147.18h1.35v42.8h-1.35z" fill="#6a52a8" fill-opacity="0.12"/>
<path d="M805.17 147.18h1.59v42.8h-1.59zM807.94 147.18h1.64v42.8h-1.64zM826.28 147.18h1.87v42.8h-1.87zM827.04 147.18h2.17v42.8h-2.17zM1027.41 147.18h1.22v42.8h-1.22zM1242.54 147.18h1.4v42.8h-1.4zM1259.17 147.18h1.07v42.8h-1.07zM1321.41 147.18h1.44v42.8h-1.44z" fill="#6f62b8" fill-opacity="0.18"/>
<rect x="805.5" y="147.18" width="1.3" height="42.8" fill="#6a78b0"/>
<rect x="1305.5" y="147.18" width="1.5" height="42.8" fill="#5a8ab8"/>
<rect x="1237.2" y="147.18" width="1.5" height="42.8" fill="#503c7c"/>
<path class="sb" d="M735.6 203.02H767.6V249.42H735.6"/>
<text class="st" transform="translate(758.9 226.82) rotate(-90) scale(0.93 1)">chr4A</text>
<rect x="796.5" y="204.92" width="522.7" height="42.8" fill="#45145c"/>
<path d="M807.21 204.92h8.55v42.8h-8.55zM823.83 204.92h12.32v42.8h-12.32zM832.09 204.92h8.84v42.8h-8.84zM858.2 204.92h10.12v42.8h-10.12zM859.55 204.92h6.08v42.8h-6.08zM864.59 204.92h4.36v42.8h-4.36zM942.92 204.92h13.46v42.8h-13.46zM945.04 204.92h7.47v42.8h-7.47zM969.55 204.92h11.55v42.8h-11.55zM1052.35 204.92h4.35v42.8h-4.35zM1058.11 204.92h13.52v42.8h-13.52zM1065.47 204.92h5.76v42.8h-5.76zM1071.19 204.92h8.13v42.8h-8.13zM1111.28 204.92h9.03v42.8h-9.03zM1122.37 204.92h7.64v42.8h-7.64zM1147.1 204.92h5.92v42.8h-5.92zM1162.32 204.92h12.56v42.8h-12.56zM1164.1 204.92h5.21v42.8h-5.21zM1272.23 204.92h13.54v42.8h-13.54z" fill="#6a4aa0" fill-opacity="0.08"/>
<path d="M814.03 204.92h12.73v42.8h-12.73zM999.82 204.92h8.78v42.8h-8.78zM1013.23 204.92h7.28v42.8h-7.28zM1021.27 204.92h6.69v42.8h-6.69zM1079.89 204.92h3.97v42.8h-3.97zM1089 204.92h9.71v42.8h-9.71zM1093.28 204.92h4.62v42.8h-4.62zM1103.17 204.92h4.51v42.8h-4.51zM1191.8 204.92h13.67v42.8h-13.67zM1211.44 204.92h9.97v42.8h-9.97zM1224.29 204.92h4.81v42.8h-4.81zM1262.79 204.92h11.85v42.8h-11.85zM1271.39 204.92h8.96v42.8h-8.96z" fill="#25003a" fill-opacity="0.1"/>
<path d="M802.56 204.92h2.09v42.8h-2.09zM848.47 204.92h1.63v42.8h-1.63zM872.44 204.92h1.36v42.8h-1.36zM877.32 204.92h1.89v42.8h-1.89zM879.42 204.92h1.93v42.8h-1.93zM903.15 204.92h2.15v42.8h-2.15zM923.05 204.92h1.37v42.8h-1.37zM983.09 204.92h1.47v42.8h-1.47zM994.36 204.92h1.73v42.8h-1.73zM996.28 204.92h1.61v42.8h-1.61zM1025.64 204.92h2.05v42.8h-2.05zM1025.85 204.92h1.47v42.8h-1.47zM1027.94 204.92h1.6v42.8h-1.6zM1066.02 204.92h1.62v42.8h-1.62zM1085.91 204.92h1.47v42.8h-1.47zM1086.69 204.92h1.29v42.8h-1.29zM1148.37 204.92h1.42v42.8h-1.42zM1173.1 204.92h1.55v42.8h-1.55zM1183.37 204.92h1.89v42.8h-1.89zM1195.68 204.92h1.01v42.8h-1.01zM1205.27 204.92h1.57v42.8h-1.57zM1223.76 204.92h2.02v42.8h-2.02zM1290.17 204.92h1.42v42.8h-1.42zM1297.72 204.92h1.6v42.8h-1.6zM1310.86 204.92h1.34v42.8h-1.34z" fill="#6a52a8" fill-opacity="0.12"/>
<path d="M842.72 204.92h1.7v42.8h-1.7zM863.13 204.92h2.1v42.8h-2.1zM914.21 204.92h1.13v42.8h-1.13zM980.62 204.92h1.01v42.8h-1.01zM1055.63 204.92h1.68v42.8h-1.68zM1076.9 204.92h1.93v42.8h-1.93zM1204.67 204.92h1.5v42.8h-1.5zM1206.53 204.92h1.39v42.8h-1.39zM1235.83 204.92h1.39v42.8h-1.39z" fill="#6f62b8" fill-opacity="0.18"/>
<rect x="1058" y="204.92" width="1.5" height="42.8" fill="#503c7c"/>
<path class="sb" d="M735.6 260.76H767.6V307.16H735.6"/>
<text class="st" transform="translate(758.9 284.56) rotate(-90) scale(0.93 1)">chr5A</text>
<rect x="796.5" y="262.66" width="498.6" height="42.8" fill="#45145c"/>
<path d="M798.41 262.66h10.6v42.8h-10.6zM826.73 262.66h11.87v42.8h-11.87zM845.99 262.66h4.17v42.8h-4.17zM879.8 262.66h6.89v42.8h-6.89zM888.68 262.66h8.55v42.8h-8.55zM939.69 262.66h4.72v42.8h-4.72zM1017.71 262.66h6.84v42.8h-6.84zM1042.16 262.66h5.16v42.8h-5.16zM1045.88 262.66h12.09v42.8h-12.09zM1072.22 262.66h7.41v42.8h-7.41zM1074.91 262.66h13.97v42.8h-13.97zM1091.23 262.66h9.93v42.8h-9.93zM1105 262.66h13.93v42.8h-13.93zM1115.17 262.66h5.93v42.8h-5.93zM1183.29 262.66h7.53v42.8h-7.53zM1226.99 262.66h13.89v42.8h-13.89zM1237.32 262.66h3.6v42.8h-3.6zM1243.46 262.66h4.09v42.8h-4.09zM1265.16 262.66h12.68v42.8h-12.68z" fill="#6a4aa0" fill-opacity="0.08"/>
<path d="M818.18 262.66h5.74v42.8h-5.74zM873.99 262.66h4.34v42.8h-4.34zM944.28 262.66h11.97v42.8h-11.97zM949.55 262.66h12.4v42.8h-12.4zM953.54 262.66h4.88v42.8h-4.88zM953.75 262.66h11.48v42.8h-11.48zM1009.75 262.66h13.56v42.8h-13.56zM1057.23 262.66h6.78v42.8h-6.78zM1081.59 262.66h12.26v42.8h-12.26zM1103.03 262.66h7.84v42.8h-7.84zM1131.62 262.66h12.84v42.8h-12.84zM1199.72 262.66h8.75v42.8h-8.75z" fill="#25003a" fill-opacity="0.1"/>
<path d="M829.47 262.66h1.48v42.8h-1.48zM829.71 262.66h1.36v42.8h-1.36zM859.6 262.66h1.27v42.8h-1.27zM861.96 262.66h1.54v42.8h-1.54zM919.18 262.66h1.44v42.8h-1.44zM934.28 262.66h1.16v42.8h-1.16zM937.76 262.66h1.23v42.8h-1.23zM941.02 262.66h2.17v42.8h-2.17zM951.13 262.66h1.68v42.8h-1.68zM971.08 262.66h1.99v42.8h-1.99zM972.19 262.66h1.19v42.8h-1.19zM974.9 262.66h1.21v42.8h-1.21zM976.27 262.66h1.67v42.8h-1.67zM987.74 262.66h1.93v42.8h-1.93zM990.46 262.66h1.29v42.8h-1.29zM1047.12 262.66h2.14v42.8h-2.14zM1061.99 262.66h1.14v42.8h-1.14zM1066.12 262.66h1.62v42.8h-1.62zM1125.87 262.66h1.39v42.8h-1.39zM1126.01 262.66h1.82v42.8h-1.82zM1126.85 262.66h1.04v42.8h-1.04zM1147.4 262.66h1.19v42.8h-1.19zM1190.22 262.66h1.58v42.8h-1.58zM1211.39 262.66h1.32v42.8h-1.32zM1230.01 262.66h1.26v42.8h-1.26zM1243.47 262.66h1.31v42.8h-1.31zM1272.51 262.66h1.45v42.8h-1.45z" fill="#6a52a8" fill-opacity="0.12"/>
<path d="M884.9 262.66h1.1v42.8h-1.1zM950.45 262.66h1.27v42.8h-1.27zM997.18 262.66h1.34v42.8h-1.34zM1042.52 262.66h2.15v42.8h-2.15zM1211.87 262.66h1.53v42.8h-1.53zM1234.56 262.66h1.93v42.8h-1.93z" fill="#6f62b8" fill-opacity="0.18"/>
<rect x="1120.7" y="262.66" width="6.7" height="42.8" fill="#55b88a"/>
<rect x="1120.7" y="262.66" width="1.2" height="42.8" fill="#78cc98"/>
<rect x="1126.2" y="262.66" width="1.2" height="42.8" fill="#78cc98"/>
<rect x="1287.5" y="262.66" width="1.2" height="42.8" fill="#3a5a80"/>
<rect x="1288.7" y="262.66" width="1.8" height="42.8" fill="#6cc88a"/>
<rect x="1290.5" y="262.66" width="1.5" height="42.8" fill="#4fb47c"/>
<rect x="1292" y="262.66" width="1.5" height="42.8" fill="#6cc88a"/>
<rect x="1293.5" y="262.66" width="1.6" height="42.8" fill="#3f9a72"/>
<rect x="1159" y="262.66" width="1.5" height="42.8" fill="#503c7c"/>
<path class="sb" d="M735.6 318.5H767.6V364.9H735.6"/>
<text class="st" transform="translate(758.9 342.3) rotate(-90) scale(0.93 1)">chr6A</text>
<rect x="796.5" y="320.4" width="435.9" height="42.8" fill="#45145c"/>
<path d="M813.8 320.4h3.44v42.8h-3.44zM873.88 320.4h9.92v42.8h-9.92zM902.2 320.4h3.52v42.8h-3.52zM903.1 320.4h8.98v42.8h-8.98zM904.76 320.4h10.88v42.8h-10.88zM927.04 320.4h5.18v42.8h-5.18zM944.97 320.4h10.53v42.8h-10.53zM973.08 320.4h6.94v42.8h-6.94zM1125.27 320.4h4.4v42.8h-4.4zM1125.51 320.4h12.18v42.8h-12.18zM1139.07 320.4h10.73v42.8h-10.73zM1158.25 320.4h4.98v42.8h-4.98zM1160.73 320.4h5.73v42.8h-5.73z" fill="#6a4aa0" fill-opacity="0.08"/>
<path d="M819.74 320.4h7.98v42.8h-7.98zM833.08 320.4h11.24v42.8h-11.24zM835.15 320.4h6.09v42.8h-6.09zM855.15 320.4h6.42v42.8h-6.42zM885.64 320.4h11.71v42.8h-11.71zM930.96 320.4h3.43v42.8h-3.43zM1015.68 320.4h7.71v42.8h-7.71zM1078.82 320.4h7.54v42.8h-7.54zM1106.9 320.4h13.04v42.8h-13.04zM1116.88 320.4h7.33v42.8h-7.33zM1149.06 320.4h11.12v42.8h-11.12zM1165.86 320.4h3.47v42.8h-3.47zM1194.85 320.4h7.66v42.8h-7.66zM1210.33 320.4h9.01v42.8h-9.01z" fill="#25003a" fill-opacity="0.1"/>
<path d="M823.16 320.4h1.25v42.8h-1.25zM844.14 320.4h1.68v42.8h-1.68zM869.86 320.4h1.44v42.8h-1.44zM877.52 320.4h1.36v42.8h-1.36zM879.26 320.4h1.52v42.8h-1.52zM900.02 320.4h1.8v42.8h-1.8zM903.66 320.4h1.3v42.8h-1.3zM922.5 320.4h1.14v42.8h-1.14zM937.74 320.4h1.14v42.8h-1.14zM956.76 320.4h1.38v42.8h-1.38zM1010.95 320.4h2.13v42.8h-2.13zM1034.35 320.4h1.98v42.8h-1.98zM1041.31 320.4h1.17v42.8h-1.17zM1042.94 320.4h1.05v42.8h-1.05zM1086.07 320.4h1.2v42.8h-1.2zM1101.27 320.4h1.24v42.8h-1.24zM1156.53 320.4h1.94v42.8h-1.94zM1157.37 320.4h1.44v42.8h-1.44zM1195.99 320.4h1.01v42.8h-1.01zM1198.16 320.4h2.01v42.8h-2.01zM1202.1 320.4h1.75v42.8h-1.75zM1227.47 320.4h1.01v42.8h-1.01z" fill="#6a52a8" fill-opacity="0.12"/>
<path d="M877 320.4h1.39v42.8h-1.39zM926.77 320.4h1.42v42.8h-1.42zM989.82 320.4h1.62v42.8h-1.62zM1102.45 320.4h1.98v42.8h-1.98zM1108.1 320.4h1.1v42.8h-1.1zM1129.01 320.4h1.55v42.8h-1.55zM1133 320.4h1.03v42.8h-1.03z" fill="#6f62b8" fill-opacity="0.18"/>
<rect x="797.8" y="320.4" width="2.5" height="42.8" fill="#4a80b0"/>
<rect x="806.5" y="320.4" width="3.1" height="42.8" fill="#4a88b8"/>
<rect x="818.9" y="320.4" width="2.5" height="42.8" fill="#4a90a8"/>
<rect x="1227.3" y="320.4" width="1.5" height="42.8" fill="#5a9ab8"/>
<rect x="863" y="320.4" width="1.5" height="42.8" fill="#503c7c"/>
<path class="sb" d="M735.6 376.24H767.6V422.64H735.6"/>
<text class="st" transform="translate(758.9 400.04) rotate(-90) scale(0.93 1)">chr7A</text>
<rect x="796.5" y="378.14" width="521.9" height="42.8" fill="#45145c"/>
<path d="M834.3 378.14h7.49v42.8h-7.49zM845.51 378.14h5.79v42.8h-5.79zM948.64 378.14h9.7v42.8h-9.7zM949.42 378.14h4.81v42.8h-4.81zM951.43 378.14h4.73v42.8h-4.73zM964.16 378.14h3.94v42.8h-3.94zM970.67 378.14h7.63v42.8h-7.63zM974.97 378.14h9.2v42.8h-9.2zM1024.36 378.14h3.44v42.8h-3.44zM1049.03 378.14h5.77v42.8h-5.77zM1086.29 378.14h8.83v42.8h-8.83zM1092.25 378.14h5.49v42.8h-5.49zM1095.48 378.14h7.09v42.8h-7.09zM1098.53 378.14h8.65v42.8h-8.65zM1137.76 378.14h6.12v42.8h-6.12zM1152.89 378.14h3.88v42.8h-3.88zM1197.43 378.14h12.41v42.8h-12.41zM1295.01 378.14h7.88v42.8h-7.88z" fill="#6a4aa0" fill-opacity="0.08"/>
<path d="M797.93 378.14h10.95v42.8h-10.95zM827.1 378.14h11.92v42.8h-11.92zM840.29 378.14h7.92v42.8h-7.92zM848.67 378.14h10.94v42.8h-10.94zM854.08 378.14h9.03v42.8h-9.03zM855.02 378.14h11.33v42.8h-11.33zM889.94 378.14h4.26v42.8h-4.26zM894.43 378.14h3.31v42.8h-3.31zM973.56 378.14h6.29v42.8h-6.29zM1040.91 378.14h13.48v42.8h-13.48zM1076.96 378.14h12.5v42.8h-12.5zM1219.1 378.14h10.33v42.8h-10.33zM1258.32 378.14h13.68v42.8h-13.68zM1285.28 378.14h13.72v42.8h-13.72z" fill="#25003a" fill-opacity="0.1"/>
<path d="M804.16 378.14h2.14v42.8h-2.14zM804.88 378.14h1.45v42.8h-1.45zM815.4 378.14h1.96v42.8h-1.96zM826.87 378.14h1.93v42.8h-1.93zM855.97 378.14h1.7v42.8h-1.7zM860.68 378.14h1.99v42.8h-1.99zM872.81 378.14h1.05v42.8h-1.05zM884.17 378.14h2.04v42.8h-2.04zM939.02 378.14h1.33v42.8h-1.33zM947.6 378.14h1.67v42.8h-1.67zM952.86 378.14h1.26v42.8h-1.26zM968.16 378.14h1.09v42.8h-1.09zM984.6 378.14h1.2v42.8h-1.2zM998.39 378.14h1.69v42.8h-1.69zM1098.1 378.14h1.01v42.8h-1.01zM1102.71 378.14h2.07v42.8h-2.07zM1110.88 378.14h1.05v42.8h-1.05zM1147.3 378.14h2.11v42.8h-2.11zM1149.61 378.14h1.98v42.8h-1.98zM1193.69 378.14h1.41v42.8h-1.41zM1199.39 378.14h1.68v42.8h-1.68zM1213.17 378.14h1.13v42.8h-1.13zM1213.96 378.14h1.66v42.8h-1.66zM1250.47 378.14h1.47v42.8h-1.47zM1258.54 378.14h1.51v42.8h-1.51zM1289.04 378.14h1.88v42.8h-1.88z" fill="#6a52a8" fill-opacity="0.12"/>
<path d="M871.93 378.14h1.46v42.8h-1.46zM879.2 378.14h1.57v42.8h-1.57zM885.96 378.14h1.47v42.8h-1.47zM1029.17 378.14h1.23v42.8h-1.23zM1035.83 378.14h1.02v42.8h-1.02zM1057.78 378.14h1.18v42.8h-1.18zM1089.09 378.14h2.05v42.8h-2.05zM1155.04 378.14h1.65v42.8h-1.65z" fill="#6f62b8" fill-opacity="0.18"/>
<rect x="1203" y="378.14" width="1.5" height="42.8" fill="#503c7c"/>
<rect x="1240" y="378.14" width="1.5" height="42.8" fill="#503c7c"/>
<text class="tk" transform="translate(797.3 451.84) scale(0.945 1)">0</text>
<text class="tk" transform="translate(868.13 451.84) scale(0.945 1)">100</text>
<text class="tk" transform="translate(938.96 451.84) scale(0.945 1)">200</text>
<text class="tk" transform="translate(1009.79 451.84) scale(0.945 1)">300</text>
<text class="tk" transform="translate(1080.62 451.84) scale(0.945 1)">400</text>
<text class="tk" transform="translate(1151.45 451.84) scale(0.945 1)">500</text>
<text class="tk" transform="translate(1222.28 451.84) scale(0.945 1)">600</text>
<text class="tk" transform="translate(1293.11 451.84) scale(0.945 1)">700</text>
<path class="tm" d="M797.3 423.14v5M868.13 423.14v5M938.96 423.14v5M1009.79 423.14v5M1080.62 423.14v5M1151.45 423.14v5M1222.28 423.14v5M1293.11 423.14v5"/>
<text class="ax" x="1078.35" y="480.24">Position (Mb)</text>
<rect x="1283.5" y="257" width="16.8" height="53.8" fill="none" stroke="#b31218" stroke-width="2.8"/>
</g>
<g>
<text class="t" x="271.3" y="527.8" font-size="32.1" text-anchor="middle">Jagger</text>
<path class="sb" d="M2.6 538H35.2V584.4H2.6"/>
<text class="st" transform="translate(25.9 561.8) rotate(-90) scale(0.93 1)">chr1A</text>
<rect x="64.1" y="539.9" width="417.9" height="42.8" fill="#45145c"/>
<path d="M91.5 539.9h4.86v42.8h-4.86zM96.79 539.9h9.42v42.8h-9.42zM170.17 539.9h6.03v42.8h-6.03zM208.1 539.9h5.58v42.8h-5.58zM214.54 539.9h8.3v42.8h-8.3zM228.92 539.9h5.4v42.8h-5.4zM230.07 539.9h9.06v42.8h-9.06zM297.28 539.9h7.9v42.8h-7.9zM298.52 539.9h5.88v42.8h-5.88zM324.09 539.9h8.6v42.8h-8.6zM363.12 539.9h6.39v42.8h-6.39zM425.4 539.9h3.08v42.8h-3.08zM465.31 539.9h13.53v42.8h-13.53zM467.49 539.9h9.39v42.8h-9.39z" fill="#6a4aa0" fill-opacity="0.08"/>
<path d="M174.83 539.9h4.81v42.8h-4.81zM179.8 539.9h6.99v42.8h-6.99zM197 539.9h6.71v42.8h-6.71zM201.85 539.9h13.31v42.8h-13.31zM238.14 539.9h11.52v42.8h-11.52zM264.76 539.9h3.75v42.8h-3.75zM321.38 539.9h11.52v42.8h-11.52zM367 539.9h5.16v42.8h-5.16zM378.25 539.9h6.34v42.8h-6.34zM379.2 539.9h9.17v42.8h-9.17zM416.87 539.9h9.63v42.8h-9.63zM444.53 539.9h12.6v42.8h-12.6z" fill="#25003a" fill-opacity="0.1"/>
<path d="M68.36 539.9h1.16v42.8h-1.16zM76.22 539.9h1.11v42.8h-1.11zM87.83 539.9h2.19v42.8h-2.19zM123.9 539.9h1.19v42.8h-1.19zM138.36 539.9h1.18v42.8h-1.18zM159.22 539.9h2.19v42.8h-2.19zM171.31 539.9h1.72v42.8h-1.72zM171.6 539.9h1.89v42.8h-1.89zM201.21 539.9h1.87v42.8h-1.87zM203.48 539.9h1.75v42.8h-1.75zM206.13 539.9h2.05v42.8h-2.05zM236.87 539.9h1.07v42.8h-1.07zM273.28 539.9h1.07v42.8h-1.07zM308.97 539.9h1.65v42.8h-1.65zM314.32 539.9h1.79v42.8h-1.79zM346.65 539.9h1.49v42.8h-1.49zM375.95 539.9h1.39v42.8h-1.39zM385.97 539.9h1.79v42.8h-1.79zM386.62 539.9h1.92v42.8h-1.92zM403.06 539.9h1.11v42.8h-1.11zM447.72 539.9h1.77v42.8h-1.77zM449.41 539.9h1.02v42.8h-1.02zM455.24 539.9h1.22v42.8h-1.22zM470.19 539.9h1.93v42.8h-1.93z" fill="#6a52a8" fill-opacity="0.12"/>
<path d="M97.53 539.9h1.72v42.8h-1.72zM282.08 539.9h1.33v42.8h-1.33zM287.79 539.9h1.23v42.8h-1.23z" fill="#6f62b8" fill-opacity="0.18"/>
<rect x="68.6" y="539.9" width="1.5" height="42.8" fill="#5a60a0"/>
<path class="sb" d="M2.6 595.74H35.2V642.14H2.6"/>
<text class="st" transform="translate(25.9 619.54) rotate(-90) scale(0.93 1)">chr2A</text>
<rect x="64.1" y="597.64" width="563.9" height="42.8" fill="#45145c"/>
<path d="M85.06 597.64h10.58v42.8h-10.58zM97.18 597.64h12.5v42.8h-12.5zM126.51 597.64h8.51v42.8h-8.51zM130.5 597.64h12.66v42.8h-12.66zM153.37 597.64h13.14v42.8h-13.14zM188.24 597.64h9.9v42.8h-9.9zM220.03 597.64h12.05v42.8h-12.05zM227.77 597.64h13.94v42.8h-13.94zM303.79 597.64h4.49v42.8h-4.49zM304.47 597.64h5.55v42.8h-5.55zM306.16 597.64h5.89v42.8h-5.89zM318.12 597.64h11.81v42.8h-11.81zM394.8 597.64h10.51v42.8h-10.51zM417.41 597.64h8.49v42.8h-8.49zM425.67 597.64h3.72v42.8h-3.72zM553.67 597.64h9.37v42.8h-9.37zM559.09 597.64h8.34v42.8h-8.34zM574.38 597.64h8.46v42.8h-8.46zM609.41 597.64h4.23v42.8h-4.23zM618.54 597.64h6.28v42.8h-6.28zM619.61 597.64h3.22v42.8h-3.22z" fill="#6a4aa0" fill-opacity="0.08"/>
<path d="M123.5 597.64h12.94v42.8h-12.94zM145.96 597.64h10.54v42.8h-10.54zM147.17 597.64h13.03v42.8h-13.03zM151.02 597.64h9.26v42.8h-9.26zM158.57 597.64h4.07v42.8h-4.07zM164.62 597.64h12.5v42.8h-12.5zM195.61 597.64h3.36v42.8h-3.36zM198.09 597.64h11.56v42.8h-11.56zM211.46 597.64h12.56v42.8h-12.56zM254.21 597.64h3.99v42.8h-3.99zM262.73 597.64h12.72v42.8h-12.72zM488.22 597.64h5.24v42.8h-5.24zM551.84 597.64h10.88v42.8h-10.88zM575.5 597.64h7.51v42.8h-7.51z" fill="#25003a" fill-opacity="0.1"/>
<path d="M67.54 597.64h2.2v42.8h-2.2zM70.55 597.64h1.44v42.8h-1.44zM88.86 597.64h2.04v42.8h-2.04zM92.37 597.64h2.09v42.8h-2.09zM103.3 597.64h1.32v42.8h-1.32zM114 597.64h1.54v42.8h-1.54zM188.78 597.64h1.57v42.8h-1.57zM199.78 597.64h1.45v42.8h-1.45zM205.86 597.64h1.18v42.8h-1.18zM207.41 597.64h2.11v42.8h-2.11zM217.74 597.64h1.88v42.8h-1.88zM285.38 597.64h1.85v42.8h-1.85zM288.61 597.64h1.86v42.8h-1.86zM293.67 597.64h1.61v42.8h-1.61zM294.77 597.64h1.46v42.8h-1.46zM361.12 597.64h2.11v42.8h-2.11zM369.34 597.64h1.75v42.8h-1.75zM369.83 597.64h1.78v42.8h-1.78zM427.46 597.64h1.39v42.8h-1.39zM444.62 597.64h1.74v42.8h-1.74zM454.3 597.64h2.2v42.8h-2.2zM469.64 597.64h1.57v42.8h-1.57zM481.7 597.64h1.76v42.8h-1.76zM512.7 597.64h1.57v42.8h-1.57zM515.58 597.64h1.43v42.8h-1.43zM521.11 597.64h1.63v42.8h-1.63zM523.29 597.64h2v42.8h-2zM526.25 597.64h1.21v42.8h-1.21zM538.2 597.64h1.14v42.8h-1.14zM543.4 597.64h1.9v42.8h-1.9zM610.18 597.64h1.38v42.8h-1.38zM610.8 597.64h1.5v42.8h-1.5zM622.84 597.64h1.71v42.8h-1.71z" fill="#6a52a8" fill-opacity="0.12"/>
<path d="M213.27 597.64h1.74v42.8h-1.74zM528.9 597.64h1.77v42.8h-1.77zM607.99 597.64h1.26v42.8h-1.26zM615.78 597.64h1.83v42.8h-1.83z" fill="#6f62b8" fill-opacity="0.18"/>
<rect x="91" y="597.64" width="1.5" height="42.8" fill="#503c7c"/>
<rect x="623.6" y="597.64" width="1.4" height="42.8" fill="#e8d890"/>
<path class="sb" d="M2.6 653.48H35.2V699.88H2.6"/>
<text class="st" transform="translate(25.9 677.28) rotate(-90) scale(0.93 1)">chr3A</text>
<rect x="64.1" y="655.38" width="528.8" height="42.8" fill="#45145c"/>
<path d="M187.68 655.38h8.73v42.8h-8.73zM227.79 655.38h5.89v42.8h-5.89zM234.91 655.38h10.32v42.8h-10.32zM239.36 655.38h4.6v42.8h-4.6zM246.22 655.38h11.92v42.8h-11.92zM256.97 655.38h9.8v42.8h-9.8zM260.43 655.38h11.32v42.8h-11.32zM263.07 655.38h6.74v42.8h-6.74zM280.67 655.38h10.6v42.8h-10.6zM314.18 655.38h10.82v42.8h-10.82zM362.83 655.38h5.21v42.8h-5.21zM375.62 655.38h3.28v42.8h-3.28zM420.62 655.38h4.65v42.8h-4.65zM421.26 655.38h3.45v42.8h-3.45zM430.81 655.38h13.69v42.8h-13.69zM440.31 655.38h4.96v42.8h-4.96zM447.97 655.38h10.37v42.8h-10.37zM462.39 655.38h11.46v42.8h-11.46zM501.28 655.38h8.08v42.8h-8.08zM527.61 655.38h8.21v42.8h-8.21zM544.48 655.38h9.37v42.8h-9.37zM583.88 655.38h3.07v42.8h-3.07z" fill="#6a4aa0" fill-opacity="0.08"/>
<path d="M92.68 655.38h9.21v42.8h-9.21zM104.47 655.38h5.43v42.8h-5.43zM110.4 655.38h4.12v42.8h-4.12zM190.39 655.38h6.56v42.8h-6.56zM255.37 655.38h7.87v42.8h-7.87zM277.26 655.38h6.25v42.8h-6.25zM285.65 655.38h5.22v42.8h-5.22zM330.43 655.38h8.4v42.8h-8.4zM397.94 655.38h4v42.8h-4zM484.63 655.38h13.98v42.8h-13.98zM533.09 655.38h8.46v42.8h-8.46z" fill="#25003a" fill-opacity="0.1"/>
<path d="M81.94 655.38h1.47v42.8h-1.47zM91.52 655.38h1.67v42.8h-1.67zM91.52 655.38h1.5v42.8h-1.5zM102.42 655.38h2.04v42.8h-2.04zM117.71 655.38h1.25v42.8h-1.25zM146.04 655.38h1.82v42.8h-1.82zM170.96 655.38h1.31v42.8h-1.31zM182.1 655.38h1.77v42.8h-1.77zM187.09 655.38h1.35v42.8h-1.35zM208.6 655.38h1.39v42.8h-1.39zM219.71 655.38h1.81v42.8h-1.81zM247.78 655.38h1.35v42.8h-1.35zM261.28 655.38h1.64v42.8h-1.64zM279.76 655.38h1.64v42.8h-1.64zM309.22 655.38h1.11v42.8h-1.11zM326.58 655.38h1.96v42.8h-1.96zM356.77 655.38h2.03v42.8h-2.03zM359.7 655.38h1.38v42.8h-1.38zM371.79 655.38h1.59v42.8h-1.59zM401.04 655.38h1.52v42.8h-1.52zM421.9 655.38h1.52v42.8h-1.52zM526.69 655.38h1.53v42.8h-1.53zM550.32 655.38h1.22v42.8h-1.22zM558.37 655.38h2.2v42.8h-2.2zM564.62 655.38h1.94v42.8h-1.94z" fill="#6a52a8" fill-opacity="0.12"/>
<path d="M86.56 655.38h1.83v42.8h-1.83zM128.82 655.38h1.99v42.8h-1.99zM141.25 655.38h2.01v42.8h-2.01zM169.91 655.38h1.96v42.8h-1.96zM200.09 655.38h1.79v42.8h-1.79zM235.13 655.38h2.09v42.8h-2.09zM303.77 655.38h1.71v42.8h-1.71zM438.67 655.38h1.35v42.8h-1.35zM485.56 655.38h1.18v42.8h-1.18zM486.24 655.38h2.04v42.8h-2.04z" fill="#6f62b8" fill-opacity="0.18"/>
<rect x="503" y="655.38" width="1.5" height="42.8" fill="#503c7c"/>
<rect x="548" y="655.38" width="1.5" height="42.8" fill="#503c7c"/>
<path class="sb" d="M2.6 711.22H35.2V757.62H2.6"/>
<text class="st" transform="translate(25.9 735.02) rotate(-90) scale(0.93 1)">chr4A</text>
<rect x="64.1" y="713.12" width="520.8" height="42.8" fill="#45145c"/>
<path d="M99.82 713.12h6.28v42.8h-6.28zM109.37 713.12h8.95v42.8h-8.95zM142.4 713.12h11.25v42.8h-11.25zM183.73 713.12h9.36v42.8h-9.36zM267.6 713.12h3.34v42.8h-3.34zM272.27 713.12h5.17v42.8h-5.17zM295.27 713.12h6.66v42.8h-6.66zM299.99 713.12h9.55v42.8h-9.55zM305.73 713.12h4.29v42.8h-4.29zM320.36 713.12h4.29v42.8h-4.29zM323.53 713.12h8.89v42.8h-8.89zM362.54 713.12h4.45v42.8h-4.45zM397.23 713.12h13.39v42.8h-13.39zM404.74 713.12h7.12v42.8h-7.12zM416.52 713.12h9.27v42.8h-9.27zM426.02 713.12h11.62v42.8h-11.62zM506.87 713.12h8.33v42.8h-8.33zM508.27 713.12h12.27v42.8h-12.27zM520.34 713.12h8.52v42.8h-8.52zM522.34 713.12h6.21v42.8h-6.21zM540.49 713.12h8.46v42.8h-8.46zM540.55 713.12h5.5v42.8h-5.5zM549.87 713.12h4.87v42.8h-4.87zM558.62 713.12h9.59v42.8h-9.59z" fill="#6a4aa0" fill-opacity="0.08"/>
<path d="M112.63 713.12h4.64v42.8h-4.64zM113.89 713.12h8.65v42.8h-8.65zM155.25 713.12h11.17v42.8h-11.17zM187.98 713.12h4.4v42.8h-4.4zM311.93 713.12h13.38v42.8h-13.38zM349.12 713.12h4.05v42.8h-4.05zM372.73 713.12h5.7v42.8h-5.7zM523.86 713.12h5.98v42.8h-5.98z" fill="#25003a" fill-opacity="0.1"/>
<path d="M66.93 713.12h1.95v42.8h-1.95zM142.94 713.12h1.81v42.8h-1.81zM167.27 713.12h1.28v42.8h-1.28zM167.39 713.12h1.17v42.8h-1.17zM167.71 713.12h1.76v42.8h-1.76zM175.36 713.12h1.4v42.8h-1.4zM191.6 713.12h1.11v42.8h-1.11zM205.17 713.12h1.11v42.8h-1.11zM245.46 713.12h1.86v42.8h-1.86zM277.87 713.12h2.13v42.8h-2.13zM313.03 713.12h1.95v42.8h-1.95zM370.32 713.12h1.96v42.8h-1.96zM378.04 713.12h1.5v42.8h-1.5zM385.25 713.12h2.01v42.8h-2.01zM385.32 713.12h1.05v42.8h-1.05zM412.83 713.12h2.16v42.8h-2.16zM432.57 713.12h1.82v42.8h-1.82zM471.9 713.12h2.01v42.8h-2.01zM475.6 713.12h1.94v42.8h-1.94zM492.08 713.12h2.13v42.8h-2.13zM534.87 713.12h1.94v42.8h-1.94zM541.82 713.12h1.55v42.8h-1.55zM562.79 713.12h1.36v42.8h-1.36z" fill="#6a52a8" fill-opacity="0.12"/>
<path d="M121.98 713.12h1.02v42.8h-1.02zM124.57 713.12h2.14v42.8h-2.14zM195.1 713.12h1.94v42.8h-1.94zM241.73 713.12h1.98v42.8h-1.98zM320.03 713.12h1.28v42.8h-1.28zM372.97 713.12h1.41v42.8h-1.41zM403.04 713.12h1.1v42.8h-1.1zM450.28 713.12h2.09v42.8h-2.09zM470.79 713.12h1.99v42.8h-1.99zM494.25 713.12h1.16v42.8h-1.16zM570.55 713.12h1.4v42.8h-1.4z" fill="#6f62b8" fill-opacity="0.18"/>
<path class="sb" d="M2.6 768.96H35.2V815.36H2.6"/>
<text class="st" transform="translate(25.9 792.76) rotate(-90) scale(0.93 1)">chr5A</text>
<rect x="64.1" y="770.86" width="499.9" height="42.8" fill="#45145c"/>
<path d="M87 770.86h9.34v42.8h-9.34zM113.85 770.86h6.88v42.8h-6.88zM134.5 770.86h12.81v42.8h-12.81zM143.22 770.86h12.14v42.8h-12.14zM144.04 770.86h6.05v42.8h-6.05zM153.92 770.86h12.05v42.8h-12.05zM206.34 770.86h11.39v42.8h-11.39zM240.35 770.86h13.53v42.8h-13.53zM248.25 770.86h9.95v42.8h-9.95zM314.57 770.86h12.48v42.8h-12.48zM373.65 770.86h3.83v42.8h-3.83zM377.59 770.86h11.22v42.8h-11.22zM394.26 770.86h11.85v42.8h-11.85zM397.47 770.86h12.18v42.8h-12.18zM402.55 770.86h4.33v42.8h-4.33zM430.67 770.86h11.02v42.8h-11.02zM451.26 770.86h12.08v42.8h-12.08zM462.24 770.86h8v42.8h-8zM508.13 770.86h10.44v42.8h-10.44zM545.27 770.86h7v42.8h-7zM549.8 770.86h8.57v42.8h-8.57z" fill="#6a4aa0" fill-opacity="0.08"/>
<path d="M131.68 770.86h6.58v42.8h-6.58zM151.23 770.86h3v42.8h-3zM240.08 770.86h13.54v42.8h-13.54zM310.22 770.86h7.34v42.8h-7.34zM361.36 770.86h12.79v42.8h-12.79zM389.34 770.86h7.86v42.8h-7.86zM409.23 770.86h13.59v42.8h-13.59zM433.61 770.86h7.93v42.8h-7.93zM499.1 770.86h13.21v42.8h-13.21zM545.62 770.86h7.63v42.8h-7.63z" fill="#25003a" fill-opacity="0.1"/>
<path d="M91.22 770.86h1.37v42.8h-1.37zM99.37 770.86h1.29v42.8h-1.29zM119.9 770.86h1.97v42.8h-1.97zM140.26 770.86h1.38v42.8h-1.38zM193.72 770.86h1.76v42.8h-1.76zM194.12 770.86h1.13v42.8h-1.13zM201.47 770.86h1.9v42.8h-1.9zM224.3 770.86h1.24v42.8h-1.24zM233.2 770.86h1.16v42.8h-1.16zM327.58 770.86h2.1v42.8h-2.1zM342.48 770.86h1.56v42.8h-1.56zM351.84 770.86h1.8v42.8h-1.8zM381.18 770.86h2v42.8h-2zM401.6 770.86h1.9v42.8h-1.9zM432.08 770.86h1.19v42.8h-1.19zM433.43 770.86h2.13v42.8h-2.13zM439.47 770.86h1.81v42.8h-1.81zM449.64 770.86h1.83v42.8h-1.83zM465.39 770.86h1.47v42.8h-1.47zM476.15 770.86h1.05v42.8h-1.05zM481.25 770.86h1.95v42.8h-1.95zM498.39 770.86h1.22v42.8h-1.22zM511.15 770.86h2.08v42.8h-2.08zM516.86 770.86h1.24v42.8h-1.24zM532.19 770.86h1.42v42.8h-1.42zM543.93 770.86h1.46v42.8h-1.46zM545.47 770.86h1.77v42.8h-1.77z" fill="#6a52a8" fill-opacity="0.12"/>
<path d="M200.74 770.86h1.69v42.8h-1.69zM218.58 770.86h1.22v42.8h-1.22zM314.36 770.86h1.5v42.8h-1.5zM321.43 770.86h1.17v42.8h-1.17zM397.48 770.86h1.63v42.8h-1.63zM545.59 770.86h1.46v42.8h-1.46z" fill="#6f62b8" fill-opacity="0.18"/>
<rect x="387.3" y="770.86" width="6.6" height="42.8" fill="#b8dd40"/>
<rect x="389.3" y="770.86" width="2.5" height="42.8" fill="#98c848"/>
<rect x="425.5" y="770.86" width="2" height="42.8" fill="#4a5a98"/>
<path class="sb" d="M2.6 826.7H35.2V873.1H2.6"/>
<text class="st" transform="translate(25.9 850.5) rotate(-90) scale(0.93 1)">chr6A</text>
<rect x="64.1" y="828.6" width="438.5" height="42.8" fill="#45145c"/>
<path d="M94.41 828.6h13.85v42.8h-13.85zM123.57 828.6h9.92v42.8h-9.92zM161.07 828.6h5.34v42.8h-5.34zM182.04 828.6h9.74v42.8h-9.74zM202.7 828.6h12.22v42.8h-12.22zM207.03 828.6h6.74v42.8h-6.74zM238.71 828.6h5.09v42.8h-5.09zM246.36 828.6h8.55v42.8h-8.55zM257.91 828.6h3.65v42.8h-3.65zM258.56 828.6h10.79v42.8h-10.79zM284.86 828.6h7.4v42.8h-7.4zM365.94 828.6h6.96v42.8h-6.96zM374.61 828.6h9.93v42.8h-9.93zM383.05 828.6h5.14v42.8h-5.14zM402.7 828.6h3.34v42.8h-3.34zM407.75 828.6h5.4v42.8h-5.4zM408.83 828.6h12.23v42.8h-12.23zM417.59 828.6h9.64v42.8h-9.64zM474.26 828.6h11.85v42.8h-11.85z" fill="#6a4aa0" fill-opacity="0.08"/>
<path d="M81 828.6h11.88v42.8h-11.88zM149.25 828.6h7.82v42.8h-7.82zM161.58 828.6h4.22v42.8h-4.22zM261.14 828.6h4.47v42.8h-4.47zM340.81 828.6h12.03v42.8h-12.03zM369.72 828.6h4.44v42.8h-4.44zM439.8 828.6h5.49v42.8h-5.49zM481.39 828.6h10.44v42.8h-10.44z" fill="#25003a" fill-opacity="0.1"/>
<path d="M70.22 828.6h1.16v42.8h-1.16zM83.9 828.6h1.37v42.8h-1.37zM91.93 828.6h1.86v42.8h-1.86zM94.05 828.6h1.53v42.8h-1.53zM109.13 828.6h1.55v42.8h-1.55zM109.96 828.6h1.46v42.8h-1.46zM151.83 828.6h1.15v42.8h-1.15zM174.51 828.6h1.25v42.8h-1.25zM179.55 828.6h1.76v42.8h-1.76zM180.47 828.6h1.24v42.8h-1.24zM205.72 828.6h1.09v42.8h-1.09zM229.73 828.6h1.7v42.8h-1.7zM254.73 828.6h2.18v42.8h-2.18zM275.58 828.6h2.06v42.8h-2.06zM310.46 828.6h1.13v42.8h-1.13zM341.93 828.6h1.7v42.8h-1.7zM403.82 828.6h1.18v42.8h-1.18zM406.92 828.6h2v42.8h-2zM422.89 828.6h1.57v42.8h-1.57zM441.53 828.6h1.02v42.8h-1.02zM452.61 828.6h1.05v42.8h-1.05zM461.48 828.6h2.19v42.8h-2.19zM465.11 828.6h2.14v42.8h-2.14zM488.5 828.6h1.84v42.8h-1.84z" fill="#6a52a8" fill-opacity="0.12"/>
<path d="M170.79 828.6h1.25v42.8h-1.25zM340.44 828.6h1.2v42.8h-1.2zM373.83 828.6h2.09v42.8h-2.09zM418.61 828.6h1.46v42.8h-1.46zM456.62 828.6h1.43v42.8h-1.43z" fill="#6f62b8" fill-opacity="0.18"/>
<rect x="77.5" y="828.6" width="5.6" height="42.8" fill="#78cc60"/>
<rect x="77.5" y="828.6" width="1.3" height="42.8" fill="#c0e050"/>
<rect x="496.3" y="828.6" width="1.5" height="42.8" fill="#3a8a90"/>
<rect x="497.8" y="828.6" width="4.8" height="42.8" fill="#45b880"/>
<rect x="90" y="828.6" width="1.5" height="42.8" fill="#503c7c"/>
<path class="sb" d="M2.6 884.44H35.2V930.84H2.6"/>
<text class="st" transform="translate(25.9 908.24) rotate(-90) scale(0.93 1)">chr7A</text>
<rect x="64.1" y="886.34" width="522.4" height="42.8" fill="#45145c"/>
<path d="M67.65 886.34h11.46v42.8h-11.46zM83.54 886.34h11.83v42.8h-11.83zM92.22 886.34h3.85v42.8h-3.85zM147.22 886.34h11.88v42.8h-11.88zM170.2 886.34h10.15v42.8h-10.15zM198.02 886.34h13.11v42.8h-13.11zM269.01 886.34h6.2v42.8h-6.2zM297.89 886.34h11.93v42.8h-11.93zM298.14 886.34h8.72v42.8h-8.72zM308.28 886.34h3.59v42.8h-3.59zM418.6 886.34h10.14v42.8h-10.14zM422.9 886.34h4.25v42.8h-4.25zM425.26 886.34h13.7v42.8h-13.7zM429.53 886.34h10.4v42.8h-10.4zM457.2 886.34h3.2v42.8h-3.2zM485.69 886.34h9.11v42.8h-9.11zM496.79 886.34h12.35v42.8h-12.35zM534.83 886.34h4.56v42.8h-4.56zM545.04 886.34h5.64v42.8h-5.64zM570.09 886.34h4.21v42.8h-4.21z" fill="#6a4aa0" fill-opacity="0.08"/>
<path d="M65.25 886.34h13.08v42.8h-13.08zM76.41 886.34h11.19v42.8h-11.19zM112.58 886.34h6.88v42.8h-6.88zM112.78 886.34h3.42v42.8h-3.42zM187.86 886.34h3.69v42.8h-3.69zM220.11 886.34h7.04v42.8h-7.04zM266.88 886.34h5.52v42.8h-5.52zM368.86 886.34h9.82v42.8h-9.82zM378.09 886.34h4.63v42.8h-4.63zM387.6 886.34h12.06v42.8h-12.06zM471.93 886.34h4.16v42.8h-4.16zM540.45 886.34h10.39v42.8h-10.39z" fill="#25003a" fill-opacity="0.1"/>
<path d="M72.16 886.34h1.08v42.8h-1.08zM123.31 886.34h1.17v42.8h-1.17zM156.13 886.34h2.19v42.8h-2.19zM157.01 886.34h1.92v42.8h-1.92zM193.69 886.34h1.9v42.8h-1.9zM194.49 886.34h1.33v42.8h-1.33zM200 886.34h1.02v42.8h-1.02zM222.5 886.34h1.83v42.8h-1.83zM235.3 886.34h2.11v42.8h-2.11zM245.83 886.34h1.36v42.8h-1.36zM277.27 886.34h1.36v42.8h-1.36zM390.64 886.34h1.38v42.8h-1.38zM402.41 886.34h1.64v42.8h-1.64zM405.58 886.34h1.71v42.8h-1.71zM421.6 886.34h2.16v42.8h-2.16zM423.44 886.34h1.82v42.8h-1.82zM424.25 886.34h1.03v42.8h-1.03zM431.88 886.34h1.53v42.8h-1.53zM436.84 886.34h2v42.8h-2zM506.23 886.34h1.82v42.8h-1.82zM526.83 886.34h1.93v42.8h-1.93zM548.99 886.34h1.78v42.8h-1.78zM566.13 886.34h1.31v42.8h-1.31zM566.5 886.34h1.64v42.8h-1.64zM567.25 886.34h1.83v42.8h-1.83zM581.02 886.34h2v42.8h-2z" fill="#6a52a8" fill-opacity="0.12"/>
<path d="M119.1 886.34h1.64v42.8h-1.64zM157.98 886.34h2.05v42.8h-2.05zM184.69 886.34h1.03v42.8h-1.03zM214.08 886.34h1.25v42.8h-1.25zM276.21 886.34h2.13v42.8h-2.13zM295.02 886.34h1.11v42.8h-1.11zM401.64 886.34h1.73v42.8h-1.73zM478.43 886.34h1.88v42.8h-1.88z" fill="#6f62b8" fill-opacity="0.18"/>
<rect x="74.8" y="886.34" width="4.8" height="42.8" fill="#3a7a90"/>
<rect x="75.8" y="886.34" width="1.2" height="42.8" fill="#90d0b0"/>
<rect x="110" y="886.34" width="2.2" height="42.8" fill="#d4e060"/>
<rect x="96.6" y="886.34" width="1.5" height="42.8" fill="#503c7c"/>
<text class="tk" transform="translate(64.9 960.04) scale(0.945 1)">0</text>
<text class="tk" transform="translate(134.85 960.04) scale(0.945 1)">100</text>
<text class="tk" transform="translate(204.8 960.04) scale(0.945 1)">200</text>
<text class="tk" transform="translate(274.75 960.04) scale(0.945 1)">300</text>
<text class="tk" transform="translate(344.7 960.04) scale(0.945 1)">400</text>
<text class="tk" transform="translate(414.65 960.04) scale(0.945 1)">500</text>
<text class="tk" transform="translate(484.6 960.04) scale(0.945 1)">600</text>
<text class="tk" transform="translate(554.55 960.04) scale(0.945 1)">700</text>
<path class="tm" d="M64.9 931.34v5M134.85 931.34v5M204.8 931.34v5M274.75 931.34v5M344.7 931.34v5M414.65 931.34v5M484.6 931.34v5M554.55 931.34v5"/>
<text class="ax" x="346.05" y="988.44">Position (Mb)</text>
</g>
<g>
<text class="t" x="1035" y="531.2" font-size="31.9" text-anchor="middle">Julius</text>
<path class="sb" d="M735.6 538H767.6V584.4H735.6"/>
<text class="st" transform="translate(758.9 561.8) rotate(-90) scale(0.93 1)">chr1A</text>
<rect x="796.5" y="539.9" width="417.6" height="42.8" fill="#45145c"/>
<path d="M800.54 539.9h6.05v42.8h-6.05zM808.61 539.9h5.58v42.8h-5.58zM823.21 539.9h5.46v42.8h-5.46zM824.57 539.9h4.3v42.8h-4.3zM842.08 539.9h8.75v42.8h-8.75zM845.21 539.9h4.03v42.8h-4.03zM887.48 539.9h11.41v42.8h-11.41zM891.73 539.9h4.91v42.8h-4.91zM898.65 539.9h11.67v42.8h-11.67zM912.28 539.9h11.76v42.8h-11.76zM954.86 539.9h5.41v42.8h-5.41zM1064.17 539.9h7.21v42.8h-7.21zM1066.37 539.9h9.46v42.8h-9.46zM1093.22 539.9h7v42.8h-7zM1094.89 539.9h7.89v42.8h-7.89zM1139.82 539.9h3.34v42.8h-3.34zM1179.98 539.9h8.16v42.8h-8.16z" fill="#6a4aa0" fill-opacity="0.08"/>
<path d="M836.61 539.9h4.58v42.8h-4.58zM849.21 539.9h12.38v42.8h-12.38zM860.45 539.9h12.95v42.8h-12.95zM888.53 539.9h3.79v42.8h-3.79zM934.93 539.9h13.26v42.8h-13.26zM986.61 539.9h4.27v42.8h-4.27zM988.78 539.9h10.06v42.8h-10.06zM1071.27 539.9h3.56v42.8h-3.56zM1121.82 539.9h12.41v42.8h-12.41z" fill="#25003a" fill-opacity="0.1"/>
<path d="M806.52 539.9h1.8v42.8h-1.8zM827.87 539.9h1.88v42.8h-1.88zM855.31 539.9h1.53v42.8h-1.53zM871.69 539.9h1.58v42.8h-1.58zM882.26 539.9h1.38v42.8h-1.38zM885.05 539.9h2.04v42.8h-2.04zM887.15 539.9h1.1v42.8h-1.1zM893.61 539.9h2.14v42.8h-2.14zM896.48 539.9h1.63v42.8h-1.63zM965.98 539.9h1.39v42.8h-1.39zM1004.24 539.9h1.28v42.8h-1.28zM1010.49 539.9h1.78v42.8h-1.78zM1054.44 539.9h2.19v42.8h-2.19zM1078.91 539.9h1.48v42.8h-1.48zM1104.32 539.9h1.56v42.8h-1.56zM1171.77 539.9h1.44v42.8h-1.44zM1180.76 539.9h1.32v42.8h-1.32zM1190.54 539.9h1.61v42.8h-1.61z" fill="#6a52a8" fill-opacity="0.12"/>
<path d="M842.62 539.9h2.03v42.8h-2.03zM846.7 539.9h1.43v42.8h-1.43zM857.16 539.9h1.78v42.8h-1.78zM880.71 539.9h2v42.8h-2zM890.92 539.9h1.55v42.8h-1.55zM1038.9 539.9h1.9v42.8h-1.9zM1045.35 539.9h1.27v42.8h-1.27zM1103.86 539.9h2.13v42.8h-2.13zM1158.07 539.9h1.68v42.8h-1.68z" fill="#6f62b8" fill-opacity="0.18"/>
<rect x="796.5" y="539.9" width="2.7" height="42.8" fill="#3a4a88"/>
<rect x="798.3" y="539.9" width="1" height="42.8" fill="#5a80b0"/>
<path class="sb" d="M735.6 595.74H767.6V642.14H735.6"/>
<text class="st" transform="translate(758.9 619.54) rotate(-90) scale(0.93 1)">chr2A</text>
<rect x="796.5" y="597.64" width="563.7" height="42.8" fill="#45145c"/>
<path d="M866.95 597.64h11.44v42.8h-11.44zM873.14 597.64h4.64v42.8h-4.64zM889.99 597.64h5.58v42.8h-5.58zM894.01 597.64h7.81v42.8h-7.81zM910.47 597.64h13.54v42.8h-13.54zM925.08 597.64h11.64v42.8h-11.64zM928.47 597.64h5.81v42.8h-5.81zM939.35 597.64h9.68v42.8h-9.68zM945.03 597.64h5.36v42.8h-5.36zM958.84 597.64h3.19v42.8h-3.19zM1023.61 597.64h4.5v42.8h-4.5zM1080.34 597.64h10.19v42.8h-10.19zM1141.43 597.64h11.15v42.8h-11.15zM1163.74 597.64h5.68v42.8h-5.68zM1172.41 597.64h8.76v42.8h-8.76zM1191.17 597.64h9.18v42.8h-9.18zM1238.92 597.64h10.39v42.8h-10.39zM1259.3 597.64h4.78v42.8h-4.78zM1275.3 597.64h13.64v42.8h-13.64zM1287.91 597.64h9.4v42.8h-9.4zM1291.66 597.64h13.58v42.8h-13.58zM1308.9 597.64h3.57v42.8h-3.57zM1321.9 597.64h5.96v42.8h-5.96z" fill="#6a4aa0" fill-opacity="0.08"/>
<path d="M838.96 597.64h5.12v42.8h-5.12zM863.77 597.64h5.64v42.8h-5.64zM896.28 597.64h10.12v42.8h-10.12zM897.14 597.64h9.27v42.8h-9.27zM993.67 597.64h9.35v42.8h-9.35zM995.26 597.64h11.09v42.8h-11.09zM1023.75 597.64h7.98v42.8h-7.98zM1122.53 597.64h3.86v42.8h-3.86zM1173.08 597.64h8.23v42.8h-8.23zM1267.49 597.64h8.82v42.8h-8.82zM1272.56 597.64h10.28v42.8h-10.28zM1292.52 597.64h11.81v42.8h-11.81z" fill="#25003a" fill-opacity="0.1"/>
<path d="M807.83 597.64h2.18v42.8h-2.18zM828.21 597.64h1.87v42.8h-1.87zM836.32 597.64h1.33v42.8h-1.33zM844.14 597.64h1.07v42.8h-1.07zM849.83 597.64h1.96v42.8h-1.96zM924.08 597.64h1.19v42.8h-1.19zM925.66 597.64h1.86v42.8h-1.86zM926.67 597.64h1.95v42.8h-1.95zM932.14 597.64h1.76v42.8h-1.76zM945.85 597.64h1.28v42.8h-1.28zM965.71 597.64h1.92v42.8h-1.92zM970.65 597.64h1.95v42.8h-1.95zM1065.73 597.64h1.5v42.8h-1.5zM1073.04 597.64h1.41v42.8h-1.41zM1090.18 597.64h1.4v42.8h-1.4zM1096.2 597.64h1.51v42.8h-1.51zM1097.42 597.64h1.02v42.8h-1.02zM1111.14 597.64h2.11v42.8h-2.11zM1113.93 597.64h1.8v42.8h-1.8zM1124.05 597.64h1.23v42.8h-1.23zM1127.11 597.64h2.05v42.8h-2.05zM1147.46 597.64h1.11v42.8h-1.11zM1156.15 597.64h1.35v42.8h-1.35zM1157.02 597.64h2v42.8h-2zM1168.89 597.64h1.37v42.8h-1.37zM1176.67 597.64h1.02v42.8h-1.02zM1185.92 597.64h1.18v42.8h-1.18zM1187.73 597.64h1.21v42.8h-1.21zM1203.85 597.64h1.04v42.8h-1.04zM1241.47 597.64h1.32v42.8h-1.32zM1302.89 597.64h1.74v42.8h-1.74zM1337.2 597.64h1.44v42.8h-1.44zM1338.97 597.64h1.85v42.8h-1.85zM1340.74 597.64h2.12v42.8h-2.12z" fill="#6a52a8" fill-opacity="0.12"/>
<path d="M1134.06 597.64h1.99v42.8h-1.99zM1194.39 597.64h1.23v42.8h-1.23zM1198.62 597.64h1.99v42.8h-1.99z" fill="#6f62b8" fill-opacity="0.18"/>
<rect x="1191.4" y="597.64" width="1.5" height="42.8" fill="#503c7c"/>
<rect x="1307.6" y="597.64" width="1.6" height="42.8" fill="#4a78b0"/>
<path class="sb" d="M735.6 653.48H767.6V699.88H735.6"/>
<text class="st" transform="translate(758.9 677.28) rotate(-90) scale(0.93 1)">chr3A</text>
<rect x="796.5" y="655.38" width="538.8" height="42.8" fill="#45145c"/>
<path d="M822.75 655.38h3.98v42.8h-3.98zM833.95 655.38h4.17v42.8h-4.17zM834.27 655.38h4.17v42.8h-4.17zM842.01 655.38h7.81v42.8h-7.81zM852.02 655.38h9.81v42.8h-9.81zM857.93 655.38h13.69v42.8h-13.69zM862.09 655.38h6.72v42.8h-6.72zM864.91 655.38h11.07v42.8h-11.07zM901.43 655.38h8.08v42.8h-8.08zM928.41 655.38h6.73v42.8h-6.73zM943.82 655.38h10v42.8h-10zM965.6 655.38h12.4v42.8h-12.4zM966.24 655.38h5.44v42.8h-5.44zM976.73 655.38h11.19v42.8h-11.19zM1072.9 655.38h8.57v42.8h-8.57zM1125.17 655.38h8.12v42.8h-8.12zM1203.2 655.38h10.84v42.8h-10.84zM1204.91 655.38h4.91v42.8h-4.91zM1205.52 655.38h6.17v42.8h-6.17zM1238 655.38h8.85v42.8h-8.85zM1274.08 655.38h13.79v42.8h-13.79zM1311.76 655.38h4.03v42.8h-4.03zM1322.13 655.38h8.16v42.8h-8.16z" fill="#6a4aa0" fill-opacity="0.08"/>
<path d="M852.7 655.38h13.54v42.8h-13.54zM930.5 655.38h8.32v42.8h-8.32zM1044.29 655.38h6.18v42.8h-6.18zM1075.91 655.38h10.88v42.8h-10.88zM1198.15 655.38h3.75v42.8h-3.75zM1232.97 655.38h7.6v42.8h-7.6zM1267.03 655.38h11.15v42.8h-11.15zM1288.93 655.38h7.92v42.8h-7.92zM1294.14 655.38h4.66v42.8h-4.66zM1303.96 655.38h8.2v42.8h-8.2z" fill="#25003a" fill-opacity="0.1"/>
<path d="M802.58 655.38h1.69v42.8h-1.69zM810.94 655.38h1.39v42.8h-1.39zM834.91 655.38h1.27v42.8h-1.27zM903.35 655.38h1.89v42.8h-1.89zM916.25 655.38h1.43v42.8h-1.43zM930.75 655.38h1.41v42.8h-1.41zM932.68 655.38h1.98v42.8h-1.98zM978.96 655.38h1.55v42.8h-1.55zM993.27 655.38h1.32v42.8h-1.32zM999.88 655.38h1.42v42.8h-1.42zM1027.09 655.38h1.86v42.8h-1.86zM1056.52 655.38h1.62v42.8h-1.62zM1114.15 655.38h1.04v42.8h-1.04zM1153.56 655.38h2.06v42.8h-2.06zM1159.77 655.38h1.89v42.8h-1.89zM1186.96 655.38h2.19v42.8h-2.19zM1236.88 655.38h1.63v42.8h-1.63zM1247.37 655.38h1.46v42.8h-1.46zM1263.12 655.38h1.94v42.8h-1.94zM1264.05 655.38h1.06v42.8h-1.06zM1265.81 655.38h1.37v42.8h-1.37zM1272.62 655.38h1.76v42.8h-1.76zM1279.43 655.38h1.56v42.8h-1.56zM1284.99 655.38h1.27v42.8h-1.27z" fill="#6a52a8" fill-opacity="0.12"/>
<path d="M863.92 655.38h1.84v42.8h-1.84zM871.52 655.38h2.05v42.8h-2.05zM977.37 655.38h1.65v42.8h-1.65zM991.85 655.38h1.43v42.8h-1.43zM1112.29 655.38h1.13v42.8h-1.13zM1136.18 655.38h1.37v42.8h-1.37zM1227.34 655.38h1.48v42.8h-1.48zM1249.64 655.38h1.41v42.8h-1.41zM1252.14 655.38h1.39v42.8h-1.39zM1279.14 655.38h1.73v42.8h-1.73zM1290.36 655.38h1.29v42.8h-1.29z" fill="#6f62b8" fill-opacity="0.18"/>
<rect x="796.5" y="655.38" width="1.3" height="42.8" fill="#a0d860"/>
<rect x="808" y="655.38" width="1.2" height="42.8" fill="#9a98a8"/>
<rect x="1244.2" y="655.38" width="1.5" height="42.8" fill="#503c7c"/>
<path class="sb" d="M735.6 711.22H767.6V757.62H735.6"/>
<text class="st" transform="translate(758.9 735.02) rotate(-90) scale(0.93 1)">chr4A</text>
<rect x="796.5" y="713.12" width="537.2" height="42.8" fill="#45145c"/>
<path d="M841.69 713.12h5.4v42.8h-5.4zM842.2 713.12h7.87v42.8h-7.87zM882.27 713.12h5.19v42.8h-5.19zM902.4 713.12h12.95v42.8h-12.95zM905.18 713.12h13.16v42.8h-13.16zM921.18 713.12h11.23v42.8h-11.23zM943.16 713.12h5.85v42.8h-5.85zM956.4 713.12h9.8v42.8h-9.8zM1023.33 713.12h13.92v42.8h-13.92zM1044.02 713.12h8.65v42.8h-8.65zM1064.28 713.12h6.47v42.8h-6.47zM1087.51 713.12h5.05v42.8h-5.05zM1152.55 713.12h11.77v42.8h-11.77zM1203.18 713.12h6.7v42.8h-6.7zM1253.18 713.12h11.35v42.8h-11.35zM1280.89 713.12h5.02v42.8h-5.02zM1285.92 713.12h10.81v42.8h-10.81zM1296.17 713.12h8.35v42.8h-8.35z" fill="#6a4aa0" fill-opacity="0.08"/>
<path d="M824.04 713.12h13.18v42.8h-13.18zM871.97 713.12h10.35v42.8h-10.35zM872.37 713.12h9.16v42.8h-9.16zM889.23 713.12h8.68v42.8h-8.68zM911.56 713.12h11.82v42.8h-11.82zM939.96 713.12h10.82v42.8h-10.82zM971.18 713.12h6.32v42.8h-6.32zM978.22 713.12h3.06v42.8h-3.06zM1019.18 713.12h11.84v42.8h-11.84zM1029.13 713.12h8.28v42.8h-8.28zM1064 713.12h13.5v42.8h-13.5zM1090.07 713.12h14v42.8h-14zM1134.47 713.12h8.06v42.8h-8.06zM1190.79 713.12h10.93v42.8h-10.93zM1271.6 713.12h8.53v42.8h-8.53z" fill="#25003a" fill-opacity="0.1"/>
<path d="M811.29 713.12h1.96v42.8h-1.96zM836.21 713.12h1.2v42.8h-1.2zM863.48 713.12h1.07v42.8h-1.07zM875.47 713.12h1.97v42.8h-1.97zM882.59 713.12h1.99v42.8h-1.99zM893.8 713.12h1.19v42.8h-1.19zM900.37 713.12h1.03v42.8h-1.03zM936.23 713.12h1.94v42.8h-1.94zM938.19 713.12h1.07v42.8h-1.07zM944.44 713.12h1.65v42.8h-1.65zM983.86 713.12h2.07v42.8h-2.07zM985.21 713.12h1.51v42.8h-1.51zM986.4 713.12h1.87v42.8h-1.87zM1004.03 713.12h1.4v42.8h-1.4zM1011.52 713.12h2.1v42.8h-2.1zM1012.43 713.12h2.16v42.8h-2.16zM1028.81 713.12h2.11v42.8h-2.11zM1062.01 713.12h1.58v42.8h-1.58zM1090.41 713.12h2.13v42.8h-2.13zM1093.42 713.12h1.36v42.8h-1.36zM1113.68 713.12h1.24v42.8h-1.24zM1133.7 713.12h1.85v42.8h-1.85zM1138.37 713.12h2.12v42.8h-2.12zM1158.98 713.12h1.71v42.8h-1.71zM1252.39 713.12h1.44v42.8h-1.44zM1255.76 713.12h1.9v42.8h-1.9zM1264.09 713.12h1.11v42.8h-1.11zM1289.82 713.12h1.66v42.8h-1.66zM1304.23 713.12h1.88v42.8h-1.88zM1319.08 713.12h1.72v42.8h-1.72z" fill="#6a52a8" fill-opacity="0.12"/>
<path d="M800.43 713.12h1.69v42.8h-1.69zM858.75 713.12h1.22v42.8h-1.22zM878.45 713.12h1.47v42.8h-1.47zM991.03 713.12h1.47v42.8h-1.47zM1283.42 713.12h1.86v42.8h-1.86z" fill="#6f62b8" fill-opacity="0.18"/>
<path class="sb" d="M735.6 768.96H767.6V815.36H735.6"/>
<text class="st" transform="translate(758.9 792.76) rotate(-90) scale(0.93 1)">chr5A</text>
<rect x="796.5" y="770.86" width="504.7" height="42.8" fill="#45145c"/>
<path d="M813.08 770.86h10.49v42.8h-10.49zM825.59 770.86h11.11v42.8h-11.11zM872.58 770.86h4.98v42.8h-4.98zM934.98 770.86h4.13v42.8h-4.13zM984.13 770.86h6.48v42.8h-6.48zM1009.79 770.86h13.77v42.8h-13.77zM1072.22 770.86h13.06v42.8h-13.06zM1080.31 770.86h11.7v42.8h-11.7zM1084.91 770.86h12.98v42.8h-12.98zM1092.2 770.86h12.7v42.8h-12.7zM1129.25 770.86h7.56v42.8h-7.56zM1142.91 770.86h13.94v42.8h-13.94zM1173.91 770.86h6.5v42.8h-6.5zM1177.07 770.86h4.64v42.8h-4.64zM1275.75 770.86h10.4v42.8h-10.4z" fill="#6a4aa0" fill-opacity="0.08"/>
<path d="M799.28 770.86h8.66v42.8h-8.66zM839.39 770.86h13.27v42.8h-13.27zM874.93 770.86h9.72v42.8h-9.72zM912.57 770.86h5.79v42.8h-5.79zM933.04 770.86h8.38v42.8h-8.38zM988.07 770.86h4.93v42.8h-4.93zM998.31 770.86h11.01v42.8h-11.01zM1013.92 770.86h12.58v42.8h-12.58zM1043.74 770.86h4.07v42.8h-4.07zM1160.84 770.86h5.82v42.8h-5.82zM1186.07 770.86h12.94v42.8h-12.94zM1198.85 770.86h3.05v42.8h-3.05zM1252.79 770.86h13.51v42.8h-13.51zM1262.34 770.86h3.91v42.8h-3.91zM1265.67 770.86h7.36v42.8h-7.36zM1284.63 770.86h12.03v42.8h-12.03z" fill="#25003a" fill-opacity="0.1"/>
<path d="M811.4 770.86h1.38v42.8h-1.38zM814.26 770.86h2.07v42.8h-2.07zM856.56 770.86h1.57v42.8h-1.57zM867.38 770.86h2.18v42.8h-2.18zM877.5 770.86h2.11v42.8h-2.11zM981.7 770.86h1.32v42.8h-1.32zM990.11 770.86h2.16v42.8h-2.16zM1000.4 770.86h1.66v42.8h-1.66zM1011.02 770.86h2.2v42.8h-2.2zM1033.33 770.86h1.16v42.8h-1.16zM1048.31 770.86h1.22v42.8h-1.22zM1068.29 770.86h2.19v42.8h-2.19zM1092.74 770.86h1.91v42.8h-1.91zM1117.05 770.86h1.16v42.8h-1.16zM1125.76 770.86h1.26v42.8h-1.26zM1138.49 770.86h1.17v42.8h-1.17zM1157.88 770.86h1.56v42.8h-1.56zM1170.76 770.86h1.82v42.8h-1.82zM1177.58 770.86h1.97v42.8h-1.97zM1183.77 770.86h2.17v42.8h-2.17zM1206.41 770.86h1.16v42.8h-1.16zM1206.42 770.86h1.3v42.8h-1.3zM1226.18 770.86h1.64v42.8h-1.64zM1252.43 770.86h1.27v42.8h-1.27zM1264.28 770.86h1.2v42.8h-1.2zM1265.53 770.86h1.41v42.8h-1.41z" fill="#6a52a8" fill-opacity="0.12"/>
<path d="M840.63 770.86h1.57v42.8h-1.57zM922.53 770.86h1.94v42.8h-1.94zM981.44 770.86h2.06v42.8h-2.06zM998.3 770.86h2.04v42.8h-2.04zM1210.22 770.86h1.56v42.8h-1.56zM1256.23 770.86h1.12v42.8h-1.12zM1259.05 770.86h1.44v42.8h-1.44z" fill="#6f62b8" fill-opacity="0.18"/>
<rect x="1126.6" y="770.86" width="7.1" height="42.8" fill="#80d060"/>
<rect x="1131.5" y="770.86" width="1" height="42.8" fill="#d8e050"/>
<rect x="1164.3" y="770.86" width="1.5" height="42.8" fill="#503c7c"/>
<path class="sb" d="M735.6 826.7H767.6V873.1H735.6"/>
<text class="st" transform="translate(758.9 850.5) rotate(-90) scale(0.93 1)">chr6A</text>
<rect x="796.5" y="828.6" width="442.2" height="42.8" fill="#45145c"/>
<path d="M797.27 828.6h10.85v42.8h-10.85zM800.33 828.6h9.25v42.8h-9.25zM800.82 828.6h3.71v42.8h-3.71zM861.03 828.6h5.97v42.8h-5.97zM865.72 828.6h4.56v42.8h-4.56zM885.51 828.6h3.14v42.8h-3.14zM1018.23 828.6h5.26v42.8h-5.26zM1059.74 828.6h6.96v42.8h-6.96zM1114.1 828.6h4.77v42.8h-4.77zM1143.06 828.6h9.47v42.8h-9.47zM1180.62 828.6h5.94v42.8h-5.94zM1188.26 828.6h6.95v42.8h-6.95zM1217.51 828.6h6.56v42.8h-6.56zM1217.57 828.6h7.69v42.8h-7.69z" fill="#6a4aa0" fill-opacity="0.08"/>
<path d="M825.53 828.6h10.67v42.8h-10.67zM840.22 828.6h12.16v42.8h-12.16zM843.84 828.6h13.79v42.8h-13.79zM901.16 828.6h13.66v42.8h-13.66zM920.95 828.6h4.36v42.8h-4.36zM1049.56 828.6h12.93v42.8h-12.93zM1063.44 828.6h13.93v42.8h-13.93zM1084.19 828.6h12.21v42.8h-12.21zM1170.18 828.6h8.98v42.8h-8.98zM1207.09 828.6h9.19v42.8h-9.19zM1208.36 828.6h10.28v42.8h-10.28zM1209.69 828.6h6.99v42.8h-6.99zM1222.13 828.6h13.19v42.8h-13.19z" fill="#25003a" fill-opacity="0.1"/>
<path d="M816.98 828.6h1.2v42.8h-1.2zM822.66 828.6h1.75v42.8h-1.75zM837.73 828.6h1.29v42.8h-1.29zM842.06 828.6h1.4v42.8h-1.4zM865.47 828.6h1.52v42.8h-1.52zM876.51 828.6h1.72v42.8h-1.72zM914.08 828.6h1.4v42.8h-1.4zM931.36 828.6h1.19v42.8h-1.19zM942.95 828.6h1.1v42.8h-1.1zM944.54 828.6h1.47v42.8h-1.47zM972.26 828.6h1.27v42.8h-1.27zM973.31 828.6h1.27v42.8h-1.27zM983.03 828.6h1.07v42.8h-1.07zM983.13 828.6h1.78v42.8h-1.78zM987.39 828.6h1.8v42.8h-1.8zM1018.05 828.6h1.12v42.8h-1.12zM1021.34 828.6h1.86v42.8h-1.86zM1036.02 828.6h1.5v42.8h-1.5zM1049.52 828.6h1.6v42.8h-1.6zM1081.6 828.6h2.02v42.8h-2.02zM1091.7 828.6h1.23v42.8h-1.23zM1107.1 828.6h2.09v42.8h-2.09zM1194.23 828.6h1.11v42.8h-1.11zM1208.73 828.6h1.61v42.8h-1.61z" fill="#6a52a8" fill-opacity="0.12"/>
<path d="M903.27 828.6h1.91v42.8h-1.91zM1018.19 828.6h1.54v42.8h-1.54zM1091.76 828.6h1.27v42.8h-1.27zM1099.54 828.6h1.11v42.8h-1.11zM1232.42 828.6h1.65v42.8h-1.65z" fill="#6f62b8" fill-opacity="0.18"/>
<rect x="796.5" y="828.6" width="3.4" height="42.8" fill="#2a7a78"/>
<rect x="799.9" y="828.6" width="3" height="42.8" fill="#2a2a60"/>
<rect x="802.9" y="828.6" width="2.3" height="42.8" fill="#6a98a8"/>
<rect x="805.2" y="828.6" width="3.6" height="42.8" fill="#1f2a5a"/>
<rect x="808.8" y="828.6" width="3" height="42.8" fill="#88cc88"/>
<rect x="811.8" y="828.6" width="2.3" height="42.8" fill="#1a4a40"/>
<rect x="814.1" y="828.6" width="2" height="42.8" fill="#b0e070"/>
<rect x="816.1" y="828.6" width="3.3" height="42.8" fill="#60c060"/>
<rect x="819.4" y="828.6" width="1.7" height="42.8" fill="#90d080"/>
<rect x="1231.6" y="828.6" width="2.1" height="42.8" fill="#3a4a8a"/>
<rect x="1233.7" y="828.6" width="5" height="42.8" fill="#80d060"/>
<rect x="864.2" y="828.6" width="1.5" height="42.8" fill="#503c7c"/>
<path class="sb" d="M735.6 884.44H767.6V930.84H735.6"/>
<text class="st" transform="translate(758.9 908.24) rotate(-90) scale(0.93 1)">chr7A</text>
<rect x="796.5" y="886.34" width="531.1" height="42.8" fill="#45145c"/>
<path d="M828.46 886.34h6v42.8h-6zM899.07 886.34h9.22v42.8h-9.22zM907.23 886.34h11.04v42.8h-11.04zM948.66 886.34h7.13v42.8h-7.13zM957.1 886.34h6.94v42.8h-6.94zM966.17 886.34h4.24v42.8h-4.24zM972.88 886.34h8.31v42.8h-8.31zM1042.32 886.34h11.96v42.8h-11.96zM1060.54 886.34h6.05v42.8h-6.05zM1103.74 886.34h8.62v42.8h-8.62zM1126.7 886.34h12.51v42.8h-12.51zM1144.18 886.34h7.61v42.8h-7.61zM1148.31 886.34h7.19v42.8h-7.19zM1168.19 886.34h12.59v42.8h-12.59zM1173.68 886.34h9.41v42.8h-9.41zM1177.7 886.34h11.3v42.8h-11.3zM1202.92 886.34h10.74v42.8h-10.74zM1222.4 886.34h10.8v42.8h-10.8zM1245.88 886.34h11.65v42.8h-11.65zM1282.78 886.34h5.74v42.8h-5.74zM1310.09 886.34h6.05v42.8h-6.05z" fill="#6a4aa0" fill-opacity="0.08"/>
<path d="M844.8 886.34h3.04v42.8h-3.04zM862.92 886.34h8.32v42.8h-8.32zM940.53 886.34h8.85v42.8h-8.85zM948.08 886.34h11.9v42.8h-11.9zM961.11 886.34h13.96v42.8h-13.96zM983.09 886.34h3.47v42.8h-3.47zM987.36 886.34h10.65v42.8h-10.65zM1097.38 886.34h10.67v42.8h-10.67zM1127.24 886.34h10.44v42.8h-10.44zM1129.78 886.34h13.66v42.8h-13.66zM1173.88 886.34h3.5v42.8h-3.5zM1208.72 886.34h5.57v42.8h-5.57z" fill="#25003a" fill-opacity="0.1"/>
<path d="M861.66 886.34h1.61v42.8h-1.61zM909.32 886.34h1.55v42.8h-1.55zM920.21 886.34h2.09v42.8h-2.09zM931.88 886.34h1.71v42.8h-1.71zM934.53 886.34h1.13v42.8h-1.13zM939.66 886.34h1.44v42.8h-1.44zM967.15 886.34h1.69v42.8h-1.69zM975.17 886.34h1.28v42.8h-1.28zM994.88 886.34h1.93v42.8h-1.93zM996.31 886.34h1.7v42.8h-1.7zM997.5 886.34h1.47v42.8h-1.47zM998.2 886.34h1.07v42.8h-1.07zM1001.63 886.34h1.66v42.8h-1.66zM1017.18 886.34h1.37v42.8h-1.37zM1022.59 886.34h2.07v42.8h-2.07zM1028.95 886.34h2.04v42.8h-2.04zM1029.08 886.34h2.08v42.8h-2.08zM1126.95 886.34h1.82v42.8h-1.82zM1137.7 886.34h1.39v42.8h-1.39zM1153.78 886.34h1.02v42.8h-1.02zM1186.3 886.34h1.95v42.8h-1.95zM1199.44 886.34h1.45v42.8h-1.45zM1225.04 886.34h1.96v42.8h-1.96zM1249.97 886.34h1.29v42.8h-1.29zM1305.95 886.34h1.04v42.8h-1.04zM1312.08 886.34h1.38v42.8h-1.38zM1321.87 886.34h1.53v42.8h-1.53z" fill="#6a52a8" fill-opacity="0.12"/>
<path d="M858.25 886.34h2.08v42.8h-2.08zM902.85 886.34h1.35v42.8h-1.35zM945.59 886.34h1.19v42.8h-1.19zM972.06 886.34h2.02v42.8h-2.02zM1050.07 886.34h1.93v42.8h-1.93zM1208.02 886.34h1.75v42.8h-1.75zM1269.98 886.34h1.85v42.8h-1.85zM1307.61 886.34h1.8v42.8h-1.8z" fill="#6f62b8" fill-opacity="0.18"/>
<rect x="801.2" y="886.34" width="2" height="42.8" fill="#7a9ac8"/>
<rect x="808.8" y="886.34" width="2" height="42.8" fill="#80c0c0"/>
<rect x="810.8" y="886.34" width="2.3" height="42.8" fill="#3a8090"/>
<rect x="844.5" y="886.34" width="2.7" height="42.8" fill="#c0d8a0"/>
<rect x="1213.4" y="886.34" width="1.5" height="42.8" fill="#503c7c"/>
<rect x="1312" y="886.34" width="1.5" height="42.8" fill="#503c7c"/>
<text class="tk" transform="translate(797.3 960.04) scale(0.945 1)">0</text>
<text class="tk" transform="translate(868.4 960.04) scale(0.945 1)">100</text>
<text class="tk" transform="translate(939.5 960.04) scale(0.945 1)">200</text>
<text class="tk" transform="translate(1010.6 960.04) scale(0.945 1)">300</text>
<text class="tk" transform="translate(1081.7 960.04) scale(0.945 1)">400</text>
<text class="tk" transform="translate(1152.8 960.04) scale(0.945 1)">500</text>
<text class="tk" transform="translate(1223.9 960.04) scale(0.945 1)">600</text>
<text class="tk" transform="translate(1295 960.04) scale(0.945 1)">700</text>
<path class="tm" d="M797.3 931.34v5M868.4 931.34v5M939.5 931.34v5M1010.6 931.34v5M1081.7 931.34v5M1152.8 931.34v5M1223.9 931.34v5M1295 931.34v5"/>
<text class="ax" x="1078.35" y="988.44">Position (Mb)</text>
</g>
<g>
<text class="t" x="296.4" y="1040.1" font-size="32.9" text-anchor="middle">LongReach Lancer</text>
<path class="sb" d="M2.6 1046.1H35.2V1092.5H2.6"/>
<text class="st" transform="translate(25.9 1069.9) rotate(-90) scale(0.93 1)">chr1A</text>
<rect x="64.1" y="1048" width="436.2" height="42.8" fill="#45145c"/>
<path d="M76.33 1048h11.07v42.8h-11.07zM103.42 1048h4.03v42.8h-4.03zM137.3 1048h9.74v42.8h-9.74zM215.63 1048h12.65v42.8h-12.65zM236.66 1048h6.97v42.8h-6.97zM266.14 1048h8.47v42.8h-8.47zM281.66 1048h7.76v42.8h-7.76zM284.34 1048h4.86v42.8h-4.86zM300.74 1048h6.45v42.8h-6.45zM304.33 1048h9.76v42.8h-9.76zM327.93 1048h8.32v42.8h-8.32zM341.49 1048h5.85v42.8h-5.85zM347.24 1048h10.29v42.8h-10.29zM347.67 1048h4.26v42.8h-4.26zM355.78 1048h6.4v42.8h-6.4zM385.66 1048h9.23v42.8h-9.23zM396.67 1048h9.78v42.8h-9.78zM420.3 1048h8.03v42.8h-8.03zM433.65 1048h7.09v42.8h-7.09zM477.01 1048h3.93v42.8h-3.93z" fill="#6a4aa0" fill-opacity="0.08"/>
<path d="M163.88 1048h7.46v42.8h-7.46zM205.2 1048h6.6v42.8h-6.6zM243.37 1048h6.72v42.8h-6.72zM254.72 1048h5.44v42.8h-5.44zM283.69 1048h10.72v42.8h-10.72zM342.39 1048h4.9v42.8h-4.9zM352.47 1048h13.57v42.8h-13.57z" fill="#25003a" fill-opacity="0.1"/>
<path d="M75.89 1048h1.41v42.8h-1.41zM95.92 1048h1.08v42.8h-1.08zM110.76 1048h1.78v42.8h-1.78zM133.91 1048h1.14v42.8h-1.14zM150.32 1048h1.94v42.8h-1.94zM219.21 1048h2.05v42.8h-2.05zM265.68 1048h1.84v42.8h-1.84zM268.95 1048h2.1v42.8h-2.1zM285.75 1048h1.44v42.8h-1.44zM292.15 1048h1.49v42.8h-1.49zM362.85 1048h2v42.8h-2zM366.18 1048h1.3v42.8h-1.3zM381.79 1048h1.97v42.8h-1.97zM382.21 1048h1.42v42.8h-1.42zM391.77 1048h1.03v42.8h-1.03zM423.89 1048h1.21v42.8h-1.21zM438.24 1048h1.73v42.8h-1.73zM451.14 1048h1.02v42.8h-1.02zM466.16 1048h1.11v42.8h-1.11zM493.34 1048h2.04v42.8h-2.04z" fill="#6a52a8" fill-opacity="0.12"/>
<path d="M149.9 1048h1.55v42.8h-1.55zM152.55 1048h2.03v42.8h-2.03zM158.88 1048h1.27v42.8h-1.27zM180.55 1048h1.87v42.8h-1.87zM186.31 1048h1.95v42.8h-1.95zM387.76 1048h1.34v42.8h-1.34zM463.8 1048h1.33v42.8h-1.33zM470.07 1048h1.04v42.8h-1.04zM485.16 1048h1.54v42.8h-1.54z" fill="#6f62b8" fill-opacity="0.18"/>
<path class="sb" d="M2.6 1103.84H35.2V1150.24H2.6"/>
<text class="st" transform="translate(25.9 1127.64) rotate(-90) scale(0.93 1)">chr2A</text>
<rect x="64.1" y="1105.74" width="563.9" height="42.8" fill="#45145c"/>
<path d="M112.26 1105.74h5.78v42.8h-5.78zM120.39 1105.74h5.08v42.8h-5.08zM146.9 1105.74h8.61v42.8h-8.61zM173.81 1105.74h13.23v42.8h-13.23zM189.16 1105.74h4.25v42.8h-4.25zM190.31 1105.74h11v42.8h-11zM203.3 1105.74h3.56v42.8h-3.56zM231.61 1105.74h5.75v42.8h-5.75zM269.91 1105.74h10.13v42.8h-10.13zM278.03 1105.74h12.53v42.8h-12.53zM280.21 1105.74h13.24v42.8h-13.24zM326.73 1105.74h12.14v42.8h-12.14zM362.9 1105.74h8.23v42.8h-8.23zM378.97 1105.74h11.44v42.8h-11.44zM386.26 1105.74h7.15v42.8h-7.15zM386.85 1105.74h5.01v42.8h-5.01zM411.1 1105.74h9.62v42.8h-9.62zM418.68 1105.74h6.04v42.8h-6.04zM488.35 1105.74h3.4v42.8h-3.4zM500.34 1105.74h5.39v42.8h-5.39zM516.64 1105.74h6.89v42.8h-6.89zM527.73 1105.74h5.79v42.8h-5.79zM528.83 1105.74h8.54v42.8h-8.54zM595.02 1105.74h3.8v42.8h-3.8zM614.1 1105.74h11.58v42.8h-11.58z" fill="#6a4aa0" fill-opacity="0.08"/>
<path d="M65.16 1105.74h7.81v42.8h-7.81zM124.36 1105.74h6.62v42.8h-6.62zM225.42 1105.74h11.55v42.8h-11.55zM307.14 1105.74h7.85v42.8h-7.85zM372.05 1105.74h4.69v42.8h-4.69zM424.49 1105.74h3.72v42.8h-3.72zM438.55 1105.74h7.8v42.8h-7.8zM438.61 1105.74h11.65v42.8h-11.65zM503.14 1105.74h7.09v42.8h-7.09zM533.72 1105.74h4.11v42.8h-4.11z" fill="#25003a" fill-opacity="0.1"/>
<path d="M75.45 1105.74h1.86v42.8h-1.86zM78.71 1105.74h2.12v42.8h-2.12zM109.39 1105.74h2.04v42.8h-2.04zM125.83 1105.74h2.11v42.8h-2.11zM126.11 1105.74h1.33v42.8h-1.33zM138.12 1105.74h1.56v42.8h-1.56zM165.48 1105.74h1.44v42.8h-1.44zM173.86 1105.74h1.11v42.8h-1.11zM189.56 1105.74h1.18v42.8h-1.18zM202.16 1105.74h1.69v42.8h-1.69zM225.59 1105.74h1.8v42.8h-1.8zM245.03 1105.74h2.16v42.8h-2.16zM253.56 1105.74h1.72v42.8h-1.72zM285.14 1105.74h2v42.8h-2zM297.5 1105.74h1.6v42.8h-1.6zM298.2 1105.74h1.67v42.8h-1.67zM309.01 1105.74h1.46v42.8h-1.46zM312.74 1105.74h1.03v42.8h-1.03zM330.51 1105.74h1.15v42.8h-1.15zM356.27 1105.74h1.18v42.8h-1.18zM378.66 1105.74h1.79v42.8h-1.79zM433.12 1105.74h1.77v42.8h-1.77zM463.24 1105.74h1.7v42.8h-1.7zM473.22 1105.74h1.86v42.8h-1.86zM475.32 1105.74h1.14v42.8h-1.14zM481.6 1105.74h1.06v42.8h-1.06zM492.83 1105.74h1.53v42.8h-1.53zM525.86 1105.74h1.16v42.8h-1.16zM555.2 1105.74h1.54v42.8h-1.54zM564.99 1105.74h1.49v42.8h-1.49zM567.83 1105.74h2.13v42.8h-2.13zM578.6 1105.74h1.53v42.8h-1.53zM613.24 1105.74h2.06v42.8h-2.06z" fill="#6a52a8" fill-opacity="0.12"/>
<path d="M199.93 1105.74h1.3v42.8h-1.3zM233.04 1105.74h1.63v42.8h-1.63zM371.11 1105.74h1.37v42.8h-1.37zM419.27 1105.74h1.75v42.8h-1.75z" fill="#6f62b8" fill-opacity="0.18"/>
<rect x="73" y="1105.74" width="1.5" height="42.8" fill="#503c7c"/>
<rect x="87.3" y="1105.74" width="1.5" height="42.8" fill="#503c7c"/>
<rect x="461.4" y="1105.74" width="1.5" height="42.8" fill="#503c7c"/>
<rect x="603.6" y="1105.74" width="1.5" height="42.8" fill="#503c7c"/>
<path class="sb" d="M2.6 1161.58H35.2V1207.98H2.6"/>
<text class="st" transform="translate(25.9 1185.38) rotate(-90) scale(0.93 1)">chr3A</text>
<rect x="64.1" y="1163.48" width="546" height="42.8" fill="#45145c"/>
<path d="M117.68 1163.48h12.5v42.8h-12.5zM120.08 1163.48h10.27v42.8h-10.27zM126.22 1163.48h5.52v42.8h-5.52zM148.34 1163.48h4.87v42.8h-4.87zM215.68 1163.48h7.81v42.8h-7.81zM246.07 1163.48h5.33v42.8h-5.33zM281.52 1163.48h13.39v42.8h-13.39zM332.39 1163.48h6.06v42.8h-6.06zM340.74 1163.48h9.26v42.8h-9.26zM396.95 1163.48h5.85v42.8h-5.85zM411.87 1163.48h11.14v42.8h-11.14zM432.41 1163.48h10.14v42.8h-10.14zM447.94 1163.48h8.09v42.8h-8.09zM450.8 1163.48h8.54v42.8h-8.54zM452.23 1163.48h4.7v42.8h-4.7zM489.36 1163.48h5.94v42.8h-5.94zM497.99 1163.48h10.12v42.8h-10.12zM498.39 1163.48h3.94v42.8h-3.94zM532.12 1163.48h3.87v42.8h-3.87zM544.72 1163.48h7.53v42.8h-7.53zM583.45 1163.48h5.1v42.8h-5.1z" fill="#6a4aa0" fill-opacity="0.08"/>
<path d="M173.5 1163.48h9.73v42.8h-9.73zM201.08 1163.48h13.38v42.8h-13.38zM212.42 1163.48h6.29v42.8h-6.29zM239.73 1163.48h12.33v42.8h-12.33zM262.9 1163.48h6.44v42.8h-6.44zM265.76 1163.48h7.67v42.8h-7.67zM311.83 1163.48h13.92v42.8h-13.92zM378.69 1163.48h10.63v42.8h-10.63zM465.43 1163.48h5.65v42.8h-5.65zM508.02 1163.48h13.32v42.8h-13.32zM514.91 1163.48h12.27v42.8h-12.27zM539.12 1163.48h13.79v42.8h-13.79zM577.95 1163.48h13.44v42.8h-13.44z" fill="#25003a" fill-opacity="0.1"/>
<path d="M77.81 1163.48h1.3v42.8h-1.3zM115.61 1163.48h1.01v42.8h-1.01zM138.42 1163.48h1.15v42.8h-1.15zM174.55 1163.48h2.2v42.8h-2.2zM193.8 1163.48h1.7v42.8h-1.7zM209.05 1163.48h1.65v42.8h-1.65zM210.02 1163.48h1.36v42.8h-1.36zM240.12 1163.48h1.61v42.8h-1.61zM245.87 1163.48h1.12v42.8h-1.12zM279.29 1163.48h1.59v42.8h-1.59zM301.53 1163.48h1.01v42.8h-1.01zM310.75 1163.48h1.09v42.8h-1.09zM380.71 1163.48h1.85v42.8h-1.85zM405.77 1163.48h1.94v42.8h-1.94zM415.13 1163.48h2.12v42.8h-2.12zM449.75 1163.48h1.23v42.8h-1.23zM477.42 1163.48h1.55v42.8h-1.55zM486.89 1163.48h2.12v42.8h-2.12zM495.63 1163.48h1.53v42.8h-1.53zM504.33 1163.48h1.85v42.8h-1.85zM505.68 1163.48h2.11v42.8h-2.11zM506.26 1163.48h1.66v42.8h-1.66zM518.93 1163.48h2.16v42.8h-2.16zM519.24 1163.48h1.51v42.8h-1.51zM525.87 1163.48h1.15v42.8h-1.15zM526.45 1163.48h1.5v42.8h-1.5zM533.26 1163.48h1.02v42.8h-1.02zM568.98 1163.48h1.39v42.8h-1.39zM587.04 1163.48h1v42.8h-1zM593.06 1163.48h1.21v42.8h-1.21z" fill="#6a52a8" fill-opacity="0.12"/>
<path d="M220.5 1163.48h1.3v42.8h-1.3zM288.52 1163.48h1.58v42.8h-1.58zM401.61 1163.48h1.13v42.8h-1.13zM436.32 1163.48h1.3v42.8h-1.3zM580.7 1163.48h1.4v42.8h-1.4zM602.42 1163.48h1.45v42.8h-1.45z" fill="#6f62b8" fill-opacity="0.18"/>
<rect x="67.6" y="1163.48" width="1.5" height="42.8" fill="#503c7c"/>
<rect x="517.8" y="1163.48" width="1.5" height="42.8" fill="#503c7c"/>
<path class="sb" d="M2.6 1219.32H35.2V1265.72H2.6"/>
<text class="st" transform="translate(25.9 1243.12) rotate(-90) scale(0.93 1)">chr4A</text>
<rect x="64.1" y="1221.22" width="547.5" height="42.8" fill="#45145c"/>
<path d="M70.84 1221.22h9.38v42.8h-9.38zM191.64 1221.22h11.8v42.8h-11.8zM211.45 1221.22h3.2v42.8h-3.2zM239.16 1221.22h9.66v42.8h-9.66zM243.29 1221.22h3.71v42.8h-3.71zM266.36 1221.22h8.97v42.8h-8.97zM268 1221.22h9.35v42.8h-9.35zM314.41 1221.22h3.32v42.8h-3.32zM343.67 1221.22h5.72v42.8h-5.72zM384.54 1221.22h11.8v42.8h-11.8zM394.63 1221.22h11.37v42.8h-11.37zM400.29 1221.22h5.88v42.8h-5.88zM406.12 1221.22h8.26v42.8h-8.26zM446.09 1221.22h5.49v42.8h-5.49zM498.5 1221.22h6.81v42.8h-6.81zM538.19 1221.22h6.52v42.8h-6.52zM543.36 1221.22h12.09v42.8h-12.09zM564.04 1221.22h8.97v42.8h-8.97zM572.37 1221.22h10.75v42.8h-10.75z" fill="#6a4aa0" fill-opacity="0.08"/>
<path d="M80.65 1221.22h11.69v42.8h-11.69zM88.64 1221.22h11.34v42.8h-11.34zM119.28 1221.22h7.45v42.8h-7.45zM129.64 1221.22h9.38v42.8h-9.38zM141.25 1221.22h8.58v42.8h-8.58zM151.27 1221.22h13.3v42.8h-13.3zM180.17 1221.22h12.03v42.8h-12.03zM212.66 1221.22h10.32v42.8h-10.32zM228.97 1221.22h4.47v42.8h-4.47zM359.99 1221.22h7.37v42.8h-7.37zM366.62 1221.22h13.05v42.8h-13.05zM480.19 1221.22h13.5v42.8h-13.5zM480.82 1221.22h9.14v42.8h-9.14zM532.62 1221.22h9.59v42.8h-9.59zM583.83 1221.22h10.99v42.8h-10.99z" fill="#25003a" fill-opacity="0.1"/>
<path d="M81.54 1221.22h1.54v42.8h-1.54zM110.06 1221.22h1.8v42.8h-1.8zM120.82 1221.22h1.31v42.8h-1.31zM130.97 1221.22h1.81v42.8h-1.81zM149.85 1221.22h1.92v42.8h-1.92zM151.51 1221.22h1.98v42.8h-1.98zM189.36 1221.22h1.97v42.8h-1.97zM196.51 1221.22h2.07v42.8h-2.07zM214.77 1221.22h1.68v42.8h-1.68zM221.4 1221.22h1.62v42.8h-1.62zM231.42 1221.22h1.92v42.8h-1.92zM274.59 1221.22h1.15v42.8h-1.15zM326.41 1221.22h1.77v42.8h-1.77zM326.51 1221.22h2.19v42.8h-2.19zM354.16 1221.22h1.94v42.8h-1.94zM411.75 1221.22h1.15v42.8h-1.15zM423.94 1221.22h2.11v42.8h-2.11zM467.58 1221.22h1.34v42.8h-1.34zM475.22 1221.22h1.09v42.8h-1.09zM485.25 1221.22h1.34v42.8h-1.34zM485.64 1221.22h1.92v42.8h-1.92zM494.6 1221.22h1.29v42.8h-1.29zM514.35 1221.22h2.04v42.8h-2.04zM534.51 1221.22h1.68v42.8h-1.68zM540.44 1221.22h1.8v42.8h-1.8zM544.2 1221.22h1.42v42.8h-1.42zM550.34 1221.22h2.01v42.8h-2.01zM566.07 1221.22h2v42.8h-2zM566.9 1221.22h1.17v42.8h-1.17zM576 1221.22h2.11v42.8h-2.11zM600.82 1221.22h2v42.8h-2z" fill="#6a52a8" fill-opacity="0.12"/>
<path d="M138.34 1221.22h1.65v42.8h-1.65zM218.55 1221.22h1.39v42.8h-1.39zM324.83 1221.22h2.11v42.8h-2.11zM437.36 1221.22h1.82v42.8h-1.82zM561.7 1221.22h1.56v42.8h-1.56z" fill="#6f62b8" fill-opacity="0.18"/>
<rect x="334" y="1221.22" width="1.5" height="42.8" fill="#503c7c"/>
<path class="sb" d="M2.6 1277.06H35.2V1323.46H2.6"/>
<text class="st" transform="translate(25.9 1300.86) rotate(-90) scale(0.93 1)">chr5A</text>
<rect x="64.1" y="1278.96" width="515.3" height="42.8" fill="#45145c"/>
<path d="M91.48 1278.96h5.28v42.8h-5.28zM98.17 1278.96h6.32v42.8h-6.32zM118.71 1278.96h7.02v42.8h-7.02zM158.88 1278.96h5.56v42.8h-5.56zM177.44 1278.96h10.2v42.8h-10.2zM205.2 1278.96h9.88v42.8h-9.88zM224.82 1278.96h5.75v42.8h-5.75zM262.47 1278.96h10.19v42.8h-10.19zM271.53 1278.96h13.81v42.8h-13.81zM274.83 1278.96h7.13v42.8h-7.13zM300.21 1278.96h11.28v42.8h-11.28zM333.96 1278.96h8.91v42.8h-8.91zM338.62 1278.96h9.5v42.8h-9.5zM359.56 1278.96h8.71v42.8h-8.71zM387.58 1278.96h8.86v42.8h-8.86zM461.81 1278.96h5.6v42.8h-5.6zM474.36 1278.96h6.82v42.8h-6.82zM485.23 1278.96h7.12v42.8h-7.12zM560.99 1278.96h7.91v42.8h-7.91zM564.18 1278.96h3.98v42.8h-3.98z" fill="#6a4aa0" fill-opacity="0.08"/>
<path d="M81.43 1278.96h8.36v42.8h-8.36zM151.3 1278.96h7.6v42.8h-7.6zM181.42 1278.96h6.68v42.8h-6.68zM271.89 1278.96h12.6v42.8h-12.6zM292.26 1278.96h11.97v42.8h-11.97zM405.6 1278.96h3.73v42.8h-3.73zM461.98 1278.96h6.8v42.8h-6.8zM472.25 1278.96h5.16v42.8h-5.16zM498.21 1278.96h3.28v42.8h-3.28zM531.08 1278.96h7.18v42.8h-7.18zM539.04 1278.96h12.79v42.8h-12.79zM560.92 1278.96h5.1v42.8h-5.1z" fill="#25003a" fill-opacity="0.1"/>
<path d="M71.33 1278.96h2.15v42.8h-2.15zM79.86 1278.96h2.05v42.8h-2.05zM125.92 1278.96h1.44v42.8h-1.44zM153.26 1278.96h1.69v42.8h-1.69zM166.39 1278.96h1.39v42.8h-1.39zM173.41 1278.96h1.33v42.8h-1.33zM176.36 1278.96h1.93v42.8h-1.93zM193.78 1278.96h1.12v42.8h-1.12zM197.54 1278.96h1v42.8h-1zM224.03 1278.96h1.24v42.8h-1.24zM243.43 1278.96h1.12v42.8h-1.12zM243.95 1278.96h1.87v42.8h-1.87zM315.33 1278.96h1.91v42.8h-1.91zM334.37 1278.96h1.37v42.8h-1.37zM352.42 1278.96h1.95v42.8h-1.95zM361.28 1278.96h1.3v42.8h-1.3zM371.1 1278.96h1.64v42.8h-1.64zM390.7 1278.96h1.92v42.8h-1.92zM407.35 1278.96h1.88v42.8h-1.88zM425.93 1278.96h1.28v42.8h-1.28zM432.89 1278.96h1.94v42.8h-1.94zM449.27 1278.96h1.34v42.8h-1.34zM450.1 1278.96h1.14v42.8h-1.14zM459.42 1278.96h1.47v42.8h-1.47zM466.87 1278.96h1.25v42.8h-1.25zM570.53 1278.96h1.45v42.8h-1.45z" fill="#6a52a8" fill-opacity="0.12"/>
<path d="M71.55 1278.96h1.37v42.8h-1.37zM76.83 1278.96h2.08v42.8h-2.08zM133.39 1278.96h1.4v42.8h-1.4zM195.28 1278.96h1.67v42.8h-1.67zM240.63 1278.96h1.87v42.8h-1.87zM292.83 1278.96h1.02v42.8h-1.02zM482.6 1278.96h1.69v42.8h-1.69zM518.11 1278.96h1.32v42.8h-1.32z" fill="#6f62b8" fill-opacity="0.18"/>
<rect x="399.2" y="1278.96" width="11.1" height="42.8" fill="#80d060"/>
<rect x="403" y="1278.96" width="1.3" height="42.8" fill="#3a9a80"/>
<rect x="407.5" y="1278.96" width="1.3" height="42.8" fill="#3a9a80"/>
<rect x="437.6" y="1278.96" width="4.7" height="42.8" fill="#48508e"/>
<path class="sb" d="M2.6 1334.8H35.2V1381.2H2.6"/>
<text class="st" transform="translate(25.9 1358.6) rotate(-90) scale(0.93 1)">chr6A</text>
<rect x="64.1" y="1336.7" width="447" height="42.8" fill="#45145c"/>
<path d="M75.15 1336.7h9v42.8h-9zM119.1 1336.7h12.47v42.8h-12.47zM185.7 1336.7h3.45v42.8h-3.45zM254.35 1336.7h13.16v42.8h-13.16zM297.78 1336.7h4.64v42.8h-4.64zM325.9 1336.7h11.24v42.8h-11.24zM328.28 1336.7h11v42.8h-11zM340.93 1336.7h5.12v42.8h-5.12zM394.04 1336.7h7.52v42.8h-7.52zM420.57 1336.7h8.19v42.8h-8.19z" fill="#6a4aa0" fill-opacity="0.08"/>
<path d="M78.69 1336.7h12.76v42.8h-12.76zM99.84 1336.7h13.52v42.8h-13.52zM106.02 1336.7h11.74v42.8h-11.74zM107.23 1336.7h9.69v42.8h-9.69zM108.47 1336.7h13.54v42.8h-13.54zM145.4 1336.7h13.81v42.8h-13.81zM202.5 1336.7h10.96v42.8h-10.96zM230.85 1336.7h13.27v42.8h-13.27zM239.32 1336.7h6.72v42.8h-6.72zM268.93 1336.7h11.41v42.8h-11.41zM283.44 1336.7h6.86v42.8h-6.86zM300.51 1336.7h5.62v42.8h-5.62zM305.23 1336.7h5.2v42.8h-5.2zM439.86 1336.7h4.29v42.8h-4.29zM444.85 1336.7h3.87v42.8h-3.87zM489.5 1336.7h6.78v42.8h-6.78zM492.13 1336.7h7.68v42.8h-7.68z" fill="#25003a" fill-opacity="0.1"/>
<path d="M83.37 1336.7h1.88v42.8h-1.88zM112.02 1336.7h1.25v42.8h-1.25zM184.68 1336.7h2.11v42.8h-2.11zM186.8 1336.7h1.98v42.8h-1.98zM210.77 1336.7h1.02v42.8h-1.02zM250.62 1336.7h1.15v42.8h-1.15zM251.03 1336.7h2.05v42.8h-2.05zM254.04 1336.7h1.15v42.8h-1.15zM269.07 1336.7h1.29v42.8h-1.29zM282.91 1336.7h1.59v42.8h-1.59zM323.58 1336.7h1.8v42.8h-1.8zM329.13 1336.7h1.67v42.8h-1.67zM352.43 1336.7h1.89v42.8h-1.89zM356.01 1336.7h1.78v42.8h-1.78zM388.77 1336.7h1.84v42.8h-1.84zM388.79 1336.7h1.36v42.8h-1.36zM400.95 1336.7h1.59v42.8h-1.59zM421.01 1336.7h1.61v42.8h-1.61zM460.06 1336.7h1.68v42.8h-1.68zM485.33 1336.7h1.5v42.8h-1.5zM498.83 1336.7h1.97v42.8h-1.97zM504.06 1336.7h1.62v42.8h-1.62zM507.13 1336.7h1.16v42.8h-1.16z" fill="#6a52a8" fill-opacity="0.12"/>
<path d="M89.95 1336.7h1.5v42.8h-1.5zM129.75 1336.7h1.25v42.8h-1.25zM217.65 1336.7h1.2v42.8h-1.2zM279.6 1336.7h2.1v42.8h-2.1zM314.47 1336.7h1.62v42.8h-1.62zM488.89 1336.7h1.13v42.8h-1.13z" fill="#6f62b8" fill-opacity="0.18"/>
<rect x="68.2" y="1336.7" width="2.1" height="42.8" fill="#5a90a8"/>
<rect x="70.3" y="1336.7" width="1" height="42.8" fill="#1a2a48"/>
<rect x="71.3" y="1336.7" width="2.7" height="42.8" fill="#8fd080"/>
<rect x="74" y="1336.7" width="1.5" height="42.8" fill="#15303a"/>
<rect x="75.5" y="1336.7" width="1" height="42.8" fill="#2a5a70"/>
<rect x="76.5" y="1336.7" width="3.1" height="42.8" fill="#4a9a98"/>
<rect x="79.6" y="1336.7" width="4.1" height="42.8" fill="#78c870"/>
<rect x="83.7" y="1336.7" width="0.8" height="42.8" fill="#2a2a50"/>
<rect x="498.9" y="1336.7" width="2.7" height="42.8" fill="#3f6a9c"/>
<rect x="501.6" y="1336.7" width="4.2" height="42.8" fill="#3a2a70"/>
<rect x="505.8" y="1336.7" width="5.3" height="42.8" fill="#3a9a88"/>
<rect x="508" y="1336.7" width="1.3" height="42.8" fill="#90d880"/>
<rect x="90.5" y="1336.7" width="1.5" height="42.8" fill="#503c7c"/>
<rect x="131.8" y="1336.7" width="1.5" height="42.8" fill="#503c7c"/>
<path class="sb" d="M2.6 1392.54H35.2V1438.94H2.6"/>
<text class="st" transform="translate(25.9 1416.34) rotate(-90) scale(0.93 1)">chr7A</text>
<rect x="64.1" y="1394.44" width="538" height="42.8" fill="#45145c"/>
<path d="M111.46 1394.44h13.69v42.8h-13.69zM116.76 1394.44h9.78v42.8h-9.78zM124.21 1394.44h12.44v42.8h-12.44zM128.25 1394.44h11.03v42.8h-11.03zM166.67 1394.44h4.82v42.8h-4.82zM198.9 1394.44h8.67v42.8h-8.67zM241.07 1394.44h5.35v42.8h-5.35zM244.97 1394.44h10.02v42.8h-10.02zM258.06 1394.44h9.51v42.8h-9.51zM272.4 1394.44h10.94v42.8h-10.94zM276.76 1394.44h11.36v42.8h-11.36zM290.63 1394.44h7.3v42.8h-7.3zM311.25 1394.44h11.76v42.8h-11.76zM311.53 1394.44h6.15v42.8h-6.15zM361.56 1394.44h7.76v42.8h-7.76zM363.19 1394.44h4.37v42.8h-4.37zM368.46 1394.44h6.77v42.8h-6.77zM438.97 1394.44h13.84v42.8h-13.84zM480.26 1394.44h6.03v42.8h-6.03zM495.32 1394.44h7.84v42.8h-7.84z" fill="#6a4aa0" fill-opacity="0.08"/>
<path d="M96.37 1394.44h4.6v42.8h-4.6zM196.47 1394.44h7.63v42.8h-7.63zM199.75 1394.44h5.65v42.8h-5.65zM235.86 1394.44h13.47v42.8h-13.47zM238.38 1394.44h10.92v42.8h-10.92zM283.18 1394.44h4.22v42.8h-4.22zM297.51 1394.44h5.88v42.8h-5.88zM392.85 1394.44h6.37v42.8h-6.37zM489.12 1394.44h5.57v42.8h-5.57zM496.28 1394.44h3.75v42.8h-3.75zM531.44 1394.44h3.17v42.8h-3.17zM536.45 1394.44h8.21v42.8h-8.21zM541.1 1394.44h3.64v42.8h-3.64z" fill="#25003a" fill-opacity="0.1"/>
<path d="M65.87 1394.44h1.65v42.8h-1.65zM101.52 1394.44h1.52v42.8h-1.52zM118.58 1394.44h1.36v42.8h-1.36zM125.36 1394.44h1.78v42.8h-1.78zM133.53 1394.44h1.94v42.8h-1.94zM141.24 1394.44h1.38v42.8h-1.38zM157.89 1394.44h1.13v42.8h-1.13zM197.74 1394.44h1.39v42.8h-1.39zM202.88 1394.44h1.2v42.8h-1.2zM210.03 1394.44h1.46v42.8h-1.46zM215.57 1394.44h1.82v42.8h-1.82zM244.76 1394.44h1.21v42.8h-1.21zM250.12 1394.44h1.34v42.8h-1.34zM251.9 1394.44h1.73v42.8h-1.73zM256.95 1394.44h2.06v42.8h-2.06zM319.63 1394.44h1.62v42.8h-1.62zM345.57 1394.44h2.17v42.8h-2.17zM346.6 1394.44h1.55v42.8h-1.55zM377.98 1394.44h1.99v42.8h-1.99zM401.86 1394.44h1.2v42.8h-1.2zM433.26 1394.44h2.02v42.8h-2.02zM505.44 1394.44h1.25v42.8h-1.25zM509.9 1394.44h1.05v42.8h-1.05zM518.69 1394.44h1.31v42.8h-1.31zM543.02 1394.44h1.87v42.8h-1.87zM557.93 1394.44h1.51v42.8h-1.51zM563 1394.44h1.52v42.8h-1.52zM588.18 1394.44h1.97v42.8h-1.97zM590.52 1394.44h1.29v42.8h-1.29zM592.34 1394.44h1.1v42.8h-1.1z" fill="#6a52a8" fill-opacity="0.12"/>
<path d="M89.23 1394.44h1.41v42.8h-1.41zM160.77 1394.44h1.61v42.8h-1.61zM255.36 1394.44h1.78v42.8h-1.78zM438.13 1394.44h1.95v42.8h-1.95zM479.21 1394.44h1.48v42.8h-1.48z" fill="#6f62b8" fill-opacity="0.18"/>
<rect x="69.2" y="1394.44" width="2.1" height="42.8" fill="#7aa0c0"/>
<rect x="77.7" y="1394.44" width="2.5" height="42.8" fill="#a0d0a0"/>
<rect x="582.5" y="1394.44" width="7.7" height="42.8" fill="#2a9a80"/>
<rect x="584.5" y="1394.44" width="1.5" height="42.8" fill="#90e070"/>
<rect x="598.3" y="1394.44" width="1.2" height="42.8" fill="#4a70a8"/>
<text class="tk" transform="translate(64.9 1468.14) scale(0.945 1)">0</text>
<text class="tk" transform="translate(138.05 1468.14) scale(0.945 1)">100</text>
<text class="tk" transform="translate(211.2 1468.14) scale(0.945 1)">200</text>
<text class="tk" transform="translate(284.35 1468.14) scale(0.945 1)">300</text>
<text class="tk" transform="translate(357.5 1468.14) scale(0.945 1)">400</text>
<text class="tk" transform="translate(430.65 1468.14) scale(0.945 1)">500</text>
<text class="tk" transform="translate(503.8 1468.14) scale(0.945 1)">600</text>
<text class="tk" transform="translate(576.95 1468.14) scale(0.945 1)">700</text>
<path class="tm" d="M64.9 1439.44v5M138.05 1439.44v5M211.2 1439.44v5M284.35 1439.44v5M357.5 1439.44v5M430.65 1439.44v5M503.8 1439.44v5M576.95 1439.44v5"/>
<text class="ax" x="346.05" y="1496.54">Position (Mb)</text>
</g>
<g>
<text class="t" x="1007.9" y="1039.7" font-size="32.2" text-anchor="middle">CDC Landmark</text>
<path class="sb" d="M735.6 1046.1H767.6V1092.5H735.6"/>
<text class="st" transform="translate(758.9 1069.9) rotate(-90) scale(0.93 1)">chr1A</text>
<rect x="797.1" y="1048" width="430.3" height="42.8" fill="#45145c"/>
<path d="M867.24 1048h4.47v42.8h-4.47zM905.89 1048h4.29v42.8h-4.29zM924.81 1048h11.81v42.8h-11.81zM931.6 1048h12.63v42.8h-12.63zM939.23 1048h11.93v42.8h-11.93zM953.03 1048h10.63v42.8h-10.63zM961.12 1048h4.4v42.8h-4.4zM969.97 1048h8.93v42.8h-8.93zM1018.4 1048h11.91v42.8h-11.91zM1077.57 1048h4.71v42.8h-4.71zM1090.71 1048h6.89v42.8h-6.89zM1114.68 1048h12.48v42.8h-12.48zM1128.98 1048h8.89v42.8h-8.89zM1130.4 1048h10.55v42.8h-10.55zM1151.16 1048h4.69v42.8h-4.69zM1189.24 1048h3.99v42.8h-3.99zM1207.04 1048h5.15v42.8h-5.15z" fill="#6a4aa0" fill-opacity="0.08"/>
<path d="M839.61 1048h8.92v42.8h-8.92zM858.74 1048h6.49v42.8h-6.49zM912.98 1048h6.99v42.8h-6.99zM937.7 1048h3.97v42.8h-3.97zM967.17 1048h9.07v42.8h-9.07zM1083.44 1048h4.53v42.8h-4.53zM1111.48 1048h8.65v42.8h-8.65zM1130.31 1048h11.75v42.8h-11.75zM1181.8 1048h12.51v42.8h-12.51z" fill="#25003a" fill-opacity="0.1"/>
<path d="M802.16 1048h1.06v42.8h-1.06zM807.62 1048h1.27v42.8h-1.27zM830.29 1048h1.15v42.8h-1.15zM850.56 1048h1.09v42.8h-1.09zM861.19 1048h2.02v42.8h-2.02zM862.84 1048h1.93v42.8h-1.93zM864.38 1048h1.92v42.8h-1.92zM909.33 1048h1.39v42.8h-1.39zM987.65 1048h1.67v42.8h-1.67zM1005.65 1048h1.88v42.8h-1.88zM1023.77 1048h1.07v42.8h-1.07zM1037.45 1048h1.81v42.8h-1.81zM1074.63 1048h2.19v42.8h-2.19zM1088.38 1048h1.94v42.8h-1.94zM1102.69 1048h2.08v42.8h-2.08zM1112.06 1048h1.36v42.8h-1.36zM1116.93 1048h2.08v42.8h-2.08zM1149.55 1048h1.86v42.8h-1.86zM1174.79 1048h1.44v42.8h-1.44zM1207.26 1048h2v42.8h-2zM1208.26 1048h1.63v42.8h-1.63z" fill="#6a52a8" fill-opacity="0.12"/>
<path d="M916.45 1048h1.57v42.8h-1.57zM945.88 1048h1.72v42.8h-1.72zM978.5 1048h1.15v42.8h-1.15zM1038.32 1048h1.54v42.8h-1.54zM1093.57 1048h1.97v42.8h-1.97zM1108.02 1048h2.15v42.8h-2.15zM1186.8 1048h1.09v42.8h-1.09z" fill="#6f62b8" fill-opacity="0.18"/>
<rect x="797.1" y="1048" width="1.5" height="42.8" fill="#453a80"/>
<rect x="799.5" y="1048" width="1.5" height="42.8" fill="#4d2a74"/>
<rect x="811" y="1048" width="2.7" height="42.8" fill="#6ab0a8"/>
<path class="sb" d="M735.6 1103.84H767.6V1150.24H735.6"/>
<text class="st" transform="translate(758.9 1127.64) rotate(-90) scale(0.93 1)">chr2A</text>
<rect x="797.1" y="1105.74" width="571.8" height="42.8" fill="#45145c"/>
<path d="M810.86 1105.74h12.45v42.8h-12.45zM819.78 1105.74h6.15v42.8h-6.15zM855.12 1105.74h13.3v42.8h-13.3zM896.12 1105.74h8.37v42.8h-8.37zM901.47 1105.74h7.83v42.8h-7.83zM992.59 1105.74h10.66v42.8h-10.66zM998.03 1105.74h3.07v42.8h-3.07zM1004.94 1105.74h5.8v42.8h-5.8zM1038.34 1105.74h9.51v42.8h-9.51zM1061.36 1105.74h10.86v42.8h-10.86zM1094.57 1105.74h13.19v42.8h-13.19zM1114.37 1105.74h5.9v42.8h-5.9zM1202.05 1105.74h4.02v42.8h-4.02zM1261.35 1105.74h9.48v42.8h-9.48zM1270.34 1105.74h10.37v42.8h-10.37zM1274.65 1105.74h9.15v42.8h-9.15zM1310.52 1105.74h6.72v42.8h-6.72zM1319.5 1105.74h4.05v42.8h-4.05zM1349.16 1105.74h11.11v42.8h-11.11z" fill="#6a4aa0" fill-opacity="0.08"/>
<path d="M811.56 1105.74h5.79v42.8h-5.79zM860.25 1105.74h9.57v42.8h-9.57zM879.4 1105.74h9.32v42.8h-9.32zM896.53 1105.74h6.36v42.8h-6.36zM901.7 1105.74h9.78v42.8h-9.78zM940.65 1105.74h12.65v42.8h-12.65zM1033.85 1105.74h3.2v42.8h-3.2zM1095.46 1105.74h13.99v42.8h-13.99zM1198.19 1105.74h5.6v42.8h-5.6zM1209.68 1105.74h8.97v42.8h-8.97zM1245.06 1105.74h8.05v42.8h-8.05zM1254.16 1105.74h5.81v42.8h-5.81zM1274.36 1105.74h12.67v42.8h-12.67zM1322.32 1105.74h9.35v42.8h-9.35zM1349.69 1105.74h8.7v42.8h-8.7zM1363.76 1105.74h3.86v42.8h-3.86z" fill="#25003a" fill-opacity="0.1"/>
<path d="M818.45 1105.74h1.09v42.8h-1.09zM834.7 1105.74h2.18v42.8h-2.18zM857.39 1105.74h2.1v42.8h-2.1zM896.84 1105.74h2.06v42.8h-2.06zM903.54 1105.74h1.51v42.8h-1.51zM913.26 1105.74h2.04v42.8h-2.04zM939.81 1105.74h1v42.8h-1zM947.29 1105.74h1.65v42.8h-1.65zM975.55 1105.74h1.76v42.8h-1.76zM977.45 1105.74h1.39v42.8h-1.39zM984.59 1105.74h1.67v42.8h-1.67zM1001.07 1105.74h2.15v42.8h-2.15zM1008.34 1105.74h1.8v42.8h-1.8zM1026.75 1105.74h1.19v42.8h-1.19zM1037.3 1105.74h1.63v42.8h-1.63zM1043.46 1105.74h1.02v42.8h-1.02zM1045.89 1105.74h2.13v42.8h-2.13zM1082.31 1105.74h2.06v42.8h-2.06zM1097.29 1105.74h1.03v42.8h-1.03zM1138.32 1105.74h1.91v42.8h-1.91zM1154.89 1105.74h1.12v42.8h-1.12zM1178.41 1105.74h2.12v42.8h-2.12zM1187.93 1105.74h1.57v42.8h-1.57zM1193.28 1105.74h1.09v42.8h-1.09zM1195.94 1105.74h1.88v42.8h-1.88zM1217.81 1105.74h1.76v42.8h-1.76zM1221.59 1105.74h1.57v42.8h-1.57zM1229.09 1105.74h1.73v42.8h-1.73zM1241.54 1105.74h1.13v42.8h-1.13zM1251.06 1105.74h1.39v42.8h-1.39zM1271 1105.74h1.04v42.8h-1.04zM1285.23 1105.74h1.24v42.8h-1.24zM1355.68 1105.74h1.71v42.8h-1.71zM1366.13 1105.74h1.83v42.8h-1.83z" fill="#6a52a8" fill-opacity="0.12"/>
<path d="M1047.74 1105.74h1.27v42.8h-1.27zM1144.71 1105.74h1.36v42.8h-1.36zM1307.82 1105.74h1.66v42.8h-1.66zM1320.17 1105.74h2.19v42.8h-2.19z" fill="#6f62b8" fill-opacity="0.18"/>
<rect x="806" y="1105.74" width="1.5" height="42.8" fill="#503c7c"/>
<rect x="819.3" y="1105.74" width="1.2" height="42.8" fill="#6a78a8"/>
<rect x="1362.8" y="1105.74" width="6.1" height="42.8" fill="#3a6a98"/>
<rect x="1365.5" y="1105.74" width="1.2" height="42.8" fill="#6ab0c0"/>
<path class="sb" d="M735.6 1161.58H767.6V1207.98H735.6"/>
<text class="st" transform="translate(758.9 1185.38) rotate(-90) scale(0.93 1)">chr3A</text>
<rect x="797.1" y="1163.48" width="544.3" height="42.8" fill="#45145c"/>
<path d="M838.2 1163.48h9.24v42.8h-9.24zM861.45 1163.48h11.71v42.8h-11.71zM863.43 1163.48h6.42v42.8h-6.42zM864.58 1163.48h11.72v42.8h-11.72zM918.66 1163.48h9.81v42.8h-9.81zM939.6 1163.48h4.89v42.8h-4.89zM941.53 1163.48h7.34v42.8h-7.34zM960.51 1163.48h3.65v42.8h-3.65zM972.56 1163.48h4.32v42.8h-4.32zM984.65 1163.48h6.75v42.8h-6.75zM1023.07 1163.48h3.05v42.8h-3.05zM1032.23 1163.48h3.66v42.8h-3.66zM1079.71 1163.48h13.13v42.8h-13.13zM1102.75 1163.48h11.11v42.8h-11.11zM1151.69 1163.48h5.45v42.8h-5.45zM1202.72 1163.48h3.9v42.8h-3.9zM1207.99 1163.48h8.72v42.8h-8.72zM1284.65 1163.48h8.3v42.8h-8.3z" fill="#6a4aa0" fill-opacity="0.08"/>
<path d="M797.43 1163.48h7.03v42.8h-7.03zM922.76 1163.48h8.68v42.8h-8.68zM961.49 1163.48h12.76v42.8h-12.76zM980.75 1163.48h6.57v42.8h-6.57zM1017.26 1163.48h13.81v42.8h-13.81zM1060.21 1163.48h13.97v42.8h-13.97zM1106.47 1163.48h11.82v42.8h-11.82zM1109.74 1163.48h10.01v42.8h-10.01zM1133.35 1163.48h12.51v42.8h-12.51zM1186.29 1163.48h5.27v42.8h-5.27zM1187.22 1163.48h10.89v42.8h-10.89zM1196.67 1163.48h7.55v42.8h-7.55zM1228.77 1163.48h10.98v42.8h-10.98zM1252.22 1163.48h4.02v42.8h-4.02zM1276.14 1163.48h13.76v42.8h-13.76zM1291.03 1163.48h11.52v42.8h-11.52z" fill="#25003a" fill-opacity="0.1"/>
<path d="M834.89 1163.48h1.45v42.8h-1.45zM845.1 1163.48h1.79v42.8h-1.79zM911.16 1163.48h1.9v42.8h-1.9zM914.77 1163.48h1.91v42.8h-1.91zM922.88 1163.48h1.53v42.8h-1.53zM924.13 1163.48h1.81v42.8h-1.81zM928.67 1163.48h1.2v42.8h-1.2zM938.35 1163.48h2.12v42.8h-2.12zM938.59 1163.48h1v42.8h-1zM948.28 1163.48h1.16v42.8h-1.16zM970.74 1163.48h1.14v42.8h-1.14zM1004.74 1163.48h1.31v42.8h-1.31zM1011.68 1163.48h2.14v42.8h-2.14zM1022.22 1163.48h1.39v42.8h-1.39zM1064.46 1163.48h1.89v42.8h-1.89zM1065.57 1163.48h1.02v42.8h-1.02zM1069.25 1163.48h1.15v42.8h-1.15zM1084.46 1163.48h1.71v42.8h-1.71zM1084.5 1163.48h1.71v42.8h-1.71zM1089.22 1163.48h1.92v42.8h-1.92zM1104.46 1163.48h1.11v42.8h-1.11zM1137.91 1163.48h1.81v42.8h-1.81zM1182.3 1163.48h1.27v42.8h-1.27zM1214.75 1163.48h1.09v42.8h-1.09zM1216.61 1163.48h1.1v42.8h-1.1zM1229.52 1163.48h1.12v42.8h-1.12zM1248.32 1163.48h1.98v42.8h-1.98zM1285.73 1163.48h1.28v42.8h-1.28z" fill="#6a52a8" fill-opacity="0.12"/>
<path d="M807.98 1163.48h1.39v42.8h-1.39zM906.14 1163.48h1.42v42.8h-1.42zM987.51 1163.48h1.09v42.8h-1.09zM1081.73 1163.48h1.76v42.8h-1.76zM1242.06 1163.48h1.25v42.8h-1.25zM1252.4 1163.48h1.65v42.8h-1.65zM1265.73 1163.48h2.01v42.8h-2.01zM1317.08 1163.48h1.77v42.8h-1.77z" fill="#6f62b8" fill-opacity="0.18"/>
<rect x="798.2" y="1163.48" width="4.1" height="42.8" fill="#4a78b0"/>
<rect x="808" y="1163.48" width="1.2" height="42.8" fill="#7a90c0"/>
<rect x="1318.3" y="1163.48" width="1.3" height="42.8" fill="#5a90c0"/>
<rect x="1248.4" y="1163.48" width="1.5" height="42.8" fill="#503c7c"/>
<path class="sb" d="M735.6 1219.32H767.6V1265.72H735.6"/>
<text class="st" transform="translate(758.9 1243.12) rotate(-90) scale(0.93 1)">chr4A</text>
<rect x="797.1" y="1221.22" width="543.7" height="42.8" fill="#45145c"/>
<path d="M853.64 1221.22h6.39v42.8h-6.39zM868.74 1221.22h7.27v42.8h-7.27zM878.14 1221.22h5.84v42.8h-5.84zM889.8 1221.22h3.78v42.8h-3.78zM908.27 1221.22h4.46v42.8h-4.46zM1034.2 1221.22h13.34v42.8h-13.34zM1047.99 1221.22h8.28v42.8h-8.28zM1051.17 1221.22h3.28v42.8h-3.28zM1065.58 1221.22h6.83v42.8h-6.83zM1108.43 1221.22h8.88v42.8h-8.88zM1156.99 1221.22h5.9v42.8h-5.9zM1219.73 1221.22h10.84v42.8h-10.84zM1223.15 1221.22h8.43v42.8h-8.43zM1258.36 1221.22h9.31v42.8h-9.31zM1274.43 1221.22h8.19v42.8h-8.19zM1277.71 1221.22h6.03v42.8h-6.03zM1290.69 1221.22h6.12v42.8h-6.12zM1315.68 1221.22h9.15v42.8h-9.15z" fill="#6a4aa0" fill-opacity="0.08"/>
<path d="M816.42 1221.22h6.68v42.8h-6.68zM885.7 1221.22h3.55v42.8h-3.55zM910.59 1221.22h4.27v42.8h-4.27zM968.57 1221.22h6.87v42.8h-6.87zM986.64 1221.22h12.79v42.8h-12.79zM996.13 1221.22h11.2v42.8h-11.2zM1003.77 1221.22h7.39v42.8h-7.39zM1020.79 1221.22h3.83v42.8h-3.83zM1058.94 1221.22h5.98v42.8h-5.98zM1105.54 1221.22h7.83v42.8h-7.83zM1114.44 1221.22h10.06v42.8h-10.06zM1123.24 1221.22h8.6v42.8h-8.6zM1175.88 1221.22h7.7v42.8h-7.7zM1292.86 1221.22h5.9v42.8h-5.9zM1326.33 1221.22h13.89v42.8h-13.89z" fill="#25003a" fill-opacity="0.1"/>
<path d="M803.15 1221.22h2.03v42.8h-2.03zM803.94 1221.22h2.18v42.8h-2.18zM823.41 1221.22h1.27v42.8h-1.27zM825.97 1221.22h1.13v42.8h-1.13zM834.86 1221.22h2.18v42.8h-2.18zM857.81 1221.22h2.04v42.8h-2.04zM861.62 1221.22h1.72v42.8h-1.72zM864.85 1221.22h2.04v42.8h-2.04zM872.52 1221.22h2.09v42.8h-2.09zM886.64 1221.22h2.05v42.8h-2.05zM898.2 1221.22h1.94v42.8h-1.94zM933.47 1221.22h1.13v42.8h-1.13zM936.47 1221.22h1.54v42.8h-1.54zM939.31 1221.22h2.17v42.8h-2.17zM1038.92 1221.22h1.7v42.8h-1.7zM1044.72 1221.22h1.13v42.8h-1.13zM1051.95 1221.22h1.55v42.8h-1.55zM1074.96 1221.22h1.16v42.8h-1.16zM1077.3 1221.22h1.93v42.8h-1.93zM1088.3 1221.22h1.86v42.8h-1.86zM1089.45 1221.22h1.62v42.8h-1.62zM1101.57 1221.22h2.08v42.8h-2.08zM1119.02 1221.22h2.14v42.8h-2.14zM1126.2 1221.22h1.01v42.8h-1.01zM1128.2 1221.22h1.16v42.8h-1.16zM1151.2 1221.22h1.27v42.8h-1.27zM1171.42 1221.22h2v42.8h-2zM1185.56 1221.22h1.43v42.8h-1.43zM1204.08 1221.22h1.11v42.8h-1.11zM1278 1221.22h2.16v42.8h-2.16z" fill="#6a52a8" fill-opacity="0.12"/>
<path d="M918.34 1221.22h2.11v42.8h-2.11zM990.69 1221.22h1.66v42.8h-1.66zM1008.09 1221.22h1.09v42.8h-1.09zM1053.23 1221.22h1.91v42.8h-1.91zM1305.32 1221.22h2v42.8h-2zM1321.47 1221.22h1.76v42.8h-1.76z" fill="#6f62b8" fill-opacity="0.18"/>
<rect x="1066.5" y="1221.22" width="1.5" height="42.8" fill="#503c7c"/>
<path class="sb" d="M735.6 1277.06H767.6V1323.46H735.6"/>
<text class="st" transform="translate(758.9 1300.86) rotate(-90) scale(0.93 1)">chr5A</text>
<rect x="797.1" y="1278.96" width="514.9" height="42.8" fill="#45145c"/>
<path d="M815.23 1278.96h8.5v42.8h-8.5zM841.05 1278.96h11.39v42.8h-11.39zM917.73 1278.96h9.39v42.8h-9.39zM927.33 1278.96h6.18v42.8h-6.18zM927.81 1278.96h5.39v42.8h-5.39zM939.5 1278.96h8.69v42.8h-8.69zM956.14 1278.96h8.58v42.8h-8.58zM977.15 1278.96h8.5v42.8h-8.5zM982.28 1278.96h12.41v42.8h-12.41zM1041.74 1278.96h13.3v42.8h-13.3zM1092.35 1278.96h10.49v42.8h-10.49zM1093.89 1278.96h4.99v42.8h-4.99zM1099.68 1278.96h12.19v42.8h-12.19zM1158.35 1278.96h8.21v42.8h-8.21zM1258.99 1278.96h4.37v42.8h-4.37zM1261.62 1278.96h9.1v42.8h-9.1z" fill="#6a4aa0" fill-opacity="0.08"/>
<path d="M833.35 1278.96h5.73v42.8h-5.73zM870.21 1278.96h6.76v42.8h-6.76zM897.58 1278.96h6.89v42.8h-6.89zM910.12 1278.96h8.86v42.8h-8.86zM983.3 1278.96h4.76v42.8h-4.76zM1021.43 1278.96h6.71v42.8h-6.71zM1032.07 1278.96h12.03v42.8h-12.03zM1033.9 1278.96h3.96v42.8h-3.96zM1037.94 1278.96h8.6v42.8h-8.6zM1086.27 1278.96h10.04v42.8h-10.04zM1097.99 1278.96h10.71v42.8h-10.71zM1121.31 1278.96h12.52v42.8h-12.52zM1157.55 1278.96h4.81v42.8h-4.81zM1235.2 1278.96h3.27v42.8h-3.27zM1250.56 1278.96h12.21v42.8h-12.21zM1296.18 1278.96h9.35v42.8h-9.35z" fill="#25003a" fill-opacity="0.1"/>
<path d="M801.42 1278.96h1.85v42.8h-1.85zM821.27 1278.96h1.56v42.8h-1.56zM851.43 1278.96h2.05v42.8h-2.05zM914.57 1278.96h1.86v42.8h-1.86zM930.15 1278.96h1.6v42.8h-1.6zM938.79 1278.96h1.55v42.8h-1.55zM954.09 1278.96h1.93v42.8h-1.93zM967.78 1278.96h1.22v42.8h-1.22zM982.88 1278.96h1.49v42.8h-1.49zM1049.4 1278.96h2.12v42.8h-2.12zM1080.57 1278.96h1.46v42.8h-1.46zM1107.41 1278.96h1.78v42.8h-1.78zM1132.22 1278.96h2.09v42.8h-2.09zM1134.7 1278.96h1.58v42.8h-1.58zM1137.02 1278.96h1.39v42.8h-1.39zM1138.16 1278.96h1.58v42.8h-1.58zM1148.53 1278.96h2.05v42.8h-2.05zM1149.34 1278.96h1.43v42.8h-1.43zM1154.17 1278.96h1.22v42.8h-1.22zM1158.33 1278.96h1.06v42.8h-1.06zM1161.31 1278.96h1.61v42.8h-1.61zM1225.21 1278.96h1.32v42.8h-1.32zM1227.54 1278.96h1.91v42.8h-1.91zM1234.06 1278.96h1.37v42.8h-1.37zM1243.07 1278.96h1.58v42.8h-1.58zM1243.18 1278.96h1.09v42.8h-1.09zM1248.26 1278.96h1.65v42.8h-1.65zM1259.79 1278.96h1.65v42.8h-1.65zM1260.94 1278.96h1.78v42.8h-1.78zM1286.23 1278.96h1.67v42.8h-1.67zM1295.6 1278.96h1.33v42.8h-1.33z" fill="#6a52a8" fill-opacity="0.12"/>
<path d="M817.81 1278.96h1.42v42.8h-1.42zM886.3 1278.96h1.84v42.8h-1.84zM942.45 1278.96h2.03v42.8h-2.03z" fill="#6f62b8" fill-opacity="0.18"/>
<rect x="1170.2" y="1278.96" width="3.2" height="42.8" fill="#4a4f90"/>
<path class="sb" d="M735.6 1334.8H767.6V1381.2H735.6"/>
<text class="st" transform="translate(758.9 1358.6) rotate(-90) scale(0.93 1)">chr6A</text>
<rect x="797.1" y="1336.7" width="447.5" height="42.8" fill="#45145c"/>
<path d="M824.47 1336.7h3.65v42.8h-3.65zM842.88 1336.7h8.66v42.8h-8.66zM859.08 1336.7h8.26v42.8h-8.26zM917.44 1336.7h13.53v42.8h-13.53zM939.05 1336.7h12.85v42.8h-12.85zM955.77 1336.7h11.39v42.8h-11.39zM967.22 1336.7h10.11v42.8h-10.11zM989.59 1336.7h9.94v42.8h-9.94zM1078.05 1336.7h5.15v42.8h-5.15zM1089.79 1336.7h9.92v42.8h-9.92zM1120.92 1336.7h9.17v42.8h-9.17zM1173.45 1336.7h7.27v42.8h-7.27zM1218.57 1336.7h3.85v42.8h-3.85zM1218.76 1336.7h12.92v42.8h-12.92z" fill="#6a4aa0" fill-opacity="0.08"/>
<path d="M819.97 1336.7h13.25v42.8h-13.25zM827.05 1336.7h12.42v42.8h-12.42zM830.75 1336.7h3.82v42.8h-3.82zM923.81 1336.7h11.6v42.8h-11.6zM940.54 1336.7h6.72v42.8h-6.72zM946.15 1336.7h10.37v42.8h-10.37zM1005.34 1336.7h7v42.8h-7zM1019.65 1336.7h3.82v42.8h-3.82zM1027.78 1336.7h9.69v42.8h-9.69zM1079.44 1336.7h11.57v42.8h-11.57zM1158.57 1336.7h9.02v42.8h-9.02zM1209.96 1336.7h11.7v42.8h-11.7zM1219.56 1336.7h11.36v42.8h-11.36z" fill="#25003a" fill-opacity="0.1"/>
<path d="M817.68 1336.7h2.06v42.8h-2.06zM847.59 1336.7h1.1v42.8h-1.1zM854.85 1336.7h1.25v42.8h-1.25zM879.04 1336.7h1.29v42.8h-1.29zM879.27 1336.7h1.22v42.8h-1.22zM882.2 1336.7h2.14v42.8h-2.14zM913.54 1336.7h1.18v42.8h-1.18zM930.97 1336.7h2.11v42.8h-2.11zM953.88 1336.7h1.66v42.8h-1.66zM980.65 1336.7h1.8v42.8h-1.8zM991.08 1336.7h1.91v42.8h-1.91zM1000.84 1336.7h1.35v42.8h-1.35zM1025.87 1336.7h1.45v42.8h-1.45zM1029.34 1336.7h1.48v42.8h-1.48zM1035.04 1336.7h1.38v42.8h-1.38zM1054.81 1336.7h1.82v42.8h-1.82zM1081.95 1336.7h1.45v42.8h-1.45zM1087.7 1336.7h1.86v42.8h-1.86zM1089.64 1336.7h1.73v42.8h-1.73zM1097.94 1336.7h1.97v42.8h-1.97zM1099 1336.7h1.05v42.8h-1.05zM1152.93 1336.7h1.61v42.8h-1.61zM1181.81 1336.7h1.93v42.8h-1.93zM1201.77 1336.7h1.41v42.8h-1.41zM1214.08 1336.7h1.07v42.8h-1.07z" fill="#6a52a8" fill-opacity="0.12"/>
<path d="M855.34 1336.7h1.03v42.8h-1.03zM959.96 1336.7h1.11v42.8h-1.11zM1217.4 1336.7h2.05v42.8h-2.05zM1223.01 1336.7h1.61v42.8h-1.61z" fill="#6f62b8" fill-opacity="0.18"/>
<rect x="800.3" y="1336.7" width="2" height="42.8" fill="#4a70a8"/>
<rect x="804.4" y="1336.7" width="2.1" height="42.8" fill="#5a80b0"/>
<rect x="815.8" y="1336.7" width="7.2" height="42.8" fill="#30a885"/>
<rect x="815.8" y="1336.7" width="1" height="42.8" fill="#58b898"/>
<rect x="1235.8" y="1336.7" width="5.8" height="42.8" fill="#2a7a88"/>
<rect x="1239" y="1336.7" width="1.3" height="42.8" fill="#80c8a0"/>
<rect x="864.8" y="1336.7" width="1.5" height="42.8" fill="#503c7c"/>
<path class="sb" d="M735.6 1392.54H767.6V1438.94H735.6"/>
<text class="st" transform="translate(758.9 1416.34) rotate(-90) scale(0.93 1)">chr7A</text>
<rect x="797.1" y="1394.44" width="535" height="42.8" fill="#45145c"/>
<path d="M808.71 1394.44h3.19v42.8h-3.19zM856.44 1394.44h8.47v42.8h-8.47zM882.34 1394.44h11.09v42.8h-11.09zM895.31 1394.44h5.23v42.8h-5.23zM902.4 1394.44h9.08v42.8h-9.08zM941.62 1394.44h9.03v42.8h-9.03zM968.35 1394.44h9.1v42.8h-9.1zM1001.15 1394.44h13.35v42.8h-13.35zM1012.17 1394.44h5.38v42.8h-5.38zM1021.06 1394.44h7.8v42.8h-7.8zM1063.63 1394.44h7.62v42.8h-7.62zM1071.08 1394.44h10.26v42.8h-10.26zM1099.82 1394.44h12.71v42.8h-12.71zM1102.08 1394.44h6.23v42.8h-6.23zM1196.42 1394.44h12.08v42.8h-12.08zM1241 1394.44h3.46v42.8h-3.46zM1295.31 1394.44h10.83v42.8h-10.83z" fill="#6a4aa0" fill-opacity="0.08"/>
<path d="M840.78 1394.44h3.35v42.8h-3.35zM896.02 1394.44h6.13v42.8h-6.13zM906.38 1394.44h12.14v42.8h-12.14zM912.24 1394.44h9.39v42.8h-9.39zM918.56 1394.44h11.83v42.8h-11.83zM973.49 1394.44h13.45v42.8h-13.45zM994.92 1394.44h12.25v42.8h-12.25zM1005.46 1394.44h10.51v42.8h-10.51zM1052 1394.44h13.54v42.8h-13.54zM1072.54 1394.44h8.35v42.8h-8.35zM1097.33 1394.44h12.57v42.8h-12.57zM1118.69 1394.44h10.19v42.8h-10.19zM1118.79 1394.44h12.61v42.8h-12.61zM1162.78 1394.44h4.91v42.8h-4.91zM1237.58 1394.44h10.47v42.8h-10.47zM1277.48 1394.44h5.88v42.8h-5.88z" fill="#25003a" fill-opacity="0.1"/>
<path d="M804.74 1394.44h1.04v42.8h-1.04zM830.88 1394.44h1.97v42.8h-1.97zM895.14 1394.44h2.04v42.8h-2.04zM896.44 1394.44h1.22v42.8h-1.22zM907.06 1394.44h1.08v42.8h-1.08zM917.3 1394.44h2.06v42.8h-2.06zM962.33 1394.44h1.66v42.8h-1.66zM976.37 1394.44h1.22v42.8h-1.22zM985.75 1394.44h1.65v42.8h-1.65zM1006.08 1394.44h2.04v42.8h-2.04zM1008.02 1394.44h1.55v42.8h-1.55zM1036.42 1394.44h1.87v42.8h-1.87zM1054.92 1394.44h1.27v42.8h-1.27zM1069.85 1394.44h1.33v42.8h-1.33zM1072.76 1394.44h2.02v42.8h-2.02zM1080.06 1394.44h1.57v42.8h-1.57zM1084.9 1394.44h1.61v42.8h-1.61zM1115.94 1394.44h1.28v42.8h-1.28zM1127.17 1394.44h1.33v42.8h-1.33zM1142.51 1394.44h1.62v42.8h-1.62zM1150.24 1394.44h1.43v42.8h-1.43zM1158.16 1394.44h1.9v42.8h-1.9zM1165.03 1394.44h1.49v42.8h-1.49zM1193.76 1394.44h1.67v42.8h-1.67zM1246.4 1394.44h1.12v42.8h-1.12zM1279.42 1394.44h1.37v42.8h-1.37zM1281.68 1394.44h1.74v42.8h-1.74zM1291.77 1394.44h1.83v42.8h-1.83zM1308.05 1394.44h1.65v42.8h-1.65zM1310.51 1394.44h1.01v42.8h-1.01z" fill="#6a52a8" fill-opacity="0.12"/>
<path d="M1046.56 1394.44h1.34v42.8h-1.34zM1052.95 1394.44h1.97v42.8h-1.97zM1084.78 1394.44h1.79v42.8h-1.79zM1084.95 1394.44h1.11v42.8h-1.11zM1091.98 1394.44h1.72v42.8h-1.72z" fill="#6f62b8" fill-opacity="0.18"/>
<rect x="1316.5" y="1394.44" width="1.5" height="42.8" fill="#503c7c"/>
<text class="tk" transform="translate(797.3 1468.14) scale(0.945 1)">0</text>
<text class="tk" transform="translate(869.5 1468.14) scale(0.945 1)">100</text>
<text class="tk" transform="translate(941.7 1468.14) scale(0.945 1)">200</text>
<text class="tk" transform="translate(1013.9 1468.14) scale(0.945 1)">300</text>
<text class="tk" transform="translate(1086.1 1468.14) scale(0.945 1)">400</text>
<text class="tk" transform="translate(1158.3 1468.14) scale(0.945 1)">500</text>
<text class="tk" transform="translate(1230.5 1468.14) scale(0.945 1)">600</text>
<text class="tk" transform="translate(1302.7 1468.14) scale(0.945 1)">700</text>
<path class="tm" d="M797.3 1439.44v5M869.5 1439.44v5M941.7 1439.44v5M1013.9 1439.44v5M1086.1 1439.44v5M1158.3 1439.44v5M1230.5 1439.44v5M1302.7 1439.44v5"/>
<text class="ax" x="1082.7" y="1496.54">Position (Mb)</text>
</g>
<g>
<text class="t" x="294.5" y="1547.1" font-size="32.6" text-anchor="middle">Mace</text>
<path class="sb" d="M2.6 1554.2H35.2V1600.6H2.6"/>
<text class="st" transform="translate(25.9 1578) rotate(-90) scale(0.93 1)">chr1A</text>
<rect x="64.1" y="1556.1" width="425.3" height="42.8" fill="#45145c"/>
<path d="M116.42 1556.1h3.08v42.8h-3.08zM146.86 1556.1h13.51v42.8h-13.51zM150.58 1556.1h5.85v42.8h-5.85zM172.27 1556.1h8.61v42.8h-8.61zM175.48 1556.1h11.09v42.8h-11.09zM199.05 1556.1h4.87v42.8h-4.87zM200.43 1556.1h10.86v42.8h-10.86zM262.62 1556.1h3.93v42.8h-3.93zM282.59 1556.1h4.24v42.8h-4.24zM297.13 1556.1h12.84v42.8h-12.84zM322.11 1556.1h5.16v42.8h-5.16zM330.81 1556.1h3.18v42.8h-3.18zM365.57 1556.1h7.47v42.8h-7.47zM376.56 1556.1h8.25v42.8h-8.25zM416.58 1556.1h4.85v42.8h-4.85zM421.04 1556.1h3.96v42.8h-3.96zM462.3 1556.1h7.03v42.8h-7.03z" fill="#6a4aa0" fill-opacity="0.08"/>
<path d="M130.91 1556.1h11.38v42.8h-11.38zM134.79 1556.1h12.28v42.8h-12.28zM163.13 1556.1h9.95v42.8h-9.95zM190.61 1556.1h4.54v42.8h-4.54zM214.06 1556.1h12.84v42.8h-12.84zM268.25 1556.1h11.12v42.8h-11.12zM301.32 1556.1h11.44v42.8h-11.44zM419.8 1556.1h6.44v42.8h-6.44zM457.96 1556.1h3.1v42.8h-3.1z" fill="#25003a" fill-opacity="0.1"/>
<path d="M111.24 1556.1h1.82v42.8h-1.82zM118.6 1556.1h1.41v42.8h-1.41zM193.11 1556.1h2.06v42.8h-2.06zM254.99 1556.1h1.05v42.8h-1.05zM262.37 1556.1h1.25v42.8h-1.25zM265.55 1556.1h1.29v42.8h-1.29zM275.5 1556.1h1.48v42.8h-1.48zM302.46 1556.1h1.89v42.8h-1.89zM306.86 1556.1h1.61v42.8h-1.61zM309.94 1556.1h1.94v42.8h-1.94zM359.1 1556.1h2.02v42.8h-2.02zM365.29 1556.1h1.23v42.8h-1.23zM375.19 1556.1h1.69v42.8h-1.69zM413.19 1556.1h1.31v42.8h-1.31zM437.01 1556.1h2.03v42.8h-2.03zM458.63 1556.1h1.31v42.8h-1.31zM466.53 1556.1h1.54v42.8h-1.54zM469.66 1556.1h1.3v42.8h-1.3z" fill="#6a52a8" fill-opacity="0.12"/>
<path d="M95.31 1556.1h1.75v42.8h-1.75zM96.69 1556.1h1.63v42.8h-1.63zM109.32 1556.1h1.32v42.8h-1.32zM169.46 1556.1h2v42.8h-2zM175.04 1556.1h1.26v42.8h-1.26zM186.85 1556.1h1.8v42.8h-1.8zM252.4 1556.1h1.01v42.8h-1.01zM261.33 1556.1h1.82v42.8h-1.82zM401.62 1556.1h1.96v42.8h-1.96zM484.54 1556.1h1.96v42.8h-1.96z" fill="#6f62b8" fill-opacity="0.18"/>
<rect x="64.1" y="1556.1" width="1.6" height="42.8" fill="#3a5a90"/>
<rect x="73.8" y="1556.1" width="1.2" height="42.8" fill="#5a80b8"/>
<path class="sb" d="M2.6 1611.94H35.2V1658.34H2.6"/>
<text class="st" transform="translate(25.9 1635.74) rotate(-90) scale(0.93 1)">chr2A</text>
<rect x="64.1" y="1613.84" width="563.9" height="42.8" fill="#45145c"/>
<path d="M98.74 1613.84h10.4v42.8h-10.4zM132.54 1613.84h4v42.8h-4zM132.98 1613.84h4.7v42.8h-4.7zM133.44 1613.84h13.11v42.8h-13.11zM182.74 1613.84h8.68v42.8h-8.68zM219.59 1613.84h12.79v42.8h-12.79zM231.13 1613.84h13.92v42.8h-13.92zM238.27 1613.84h11.74v42.8h-11.74zM299.08 1613.84h6.41v42.8h-6.41zM344.52 1613.84h5.75v42.8h-5.75zM358.69 1613.84h11.31v42.8h-11.31zM363.12 1613.84h8.01v42.8h-8.01zM391.98 1613.84h8.66v42.8h-8.66zM403.31 1613.84h5.96v42.8h-5.96zM403.51 1613.84h13.91v42.8h-13.91zM425.95 1613.84h4.04v42.8h-4.04zM436.33 1613.84h10.33v42.8h-10.33zM479.51 1613.84h13.07v42.8h-13.07zM521.36 1613.84h6.3v42.8h-6.3zM535.94 1613.84h8.57v42.8h-8.57zM549.49 1613.84h11.8v42.8h-11.8zM599.09 1613.84h3.51v42.8h-3.51z" fill="#6a4aa0" fill-opacity="0.08"/>
<path d="M126.98 1613.84h5.03v42.8h-5.03zM135.05 1613.84h12.78v42.8h-12.78zM181.88 1613.84h8.24v42.8h-8.24zM206.96 1613.84h13.73v42.8h-13.73zM328.04 1613.84h5.79v42.8h-5.79zM446.92 1613.84h9.94v42.8h-9.94zM499.72 1613.84h9.58v42.8h-9.58zM529.78 1613.84h11.85v42.8h-11.85zM540.1 1613.84h12.95v42.8h-12.95zM547.35 1613.84h8.73v42.8h-8.73zM552.7 1613.84h10.17v42.8h-10.17zM560.52 1613.84h3.67v42.8h-3.67zM617.58 1613.84h5v42.8h-5z" fill="#25003a" fill-opacity="0.1"/>
<path d="M68.48 1613.84h1.44v42.8h-1.44zM119.92 1613.84h1.97v42.8h-1.97zM120.2 1613.84h1.05v42.8h-1.05zM143.53 1613.84h1.19v42.8h-1.19zM151.49 1613.84h1.84v42.8h-1.84zM154.11 1613.84h2.11v42.8h-2.11zM164.12 1613.84h1.41v42.8h-1.41zM165.42 1613.84h1.9v42.8h-1.9zM229.4 1613.84h2.05v42.8h-2.05zM240.71 1613.84h1.31v42.8h-1.31zM244.09 1613.84h1.96v42.8h-1.96zM272.84 1613.84h1.88v42.8h-1.88zM297.68 1613.84h1.97v42.8h-1.97zM322.78 1613.84h1.7v42.8h-1.7zM326.68 1613.84h1.05v42.8h-1.05zM350.08 1613.84h1.25v42.8h-1.25zM372.32 1613.84h1.78v42.8h-1.78zM374.4 1613.84h1.05v42.8h-1.05zM397.01 1613.84h1.17v42.8h-1.17zM431.44 1613.84h1.16v42.8h-1.16zM446.07 1613.84h1.94v42.8h-1.94zM449.79 1613.84h1.3v42.8h-1.3zM467.78 1613.84h1.92v42.8h-1.92zM493.3 1613.84h1.61v42.8h-1.61zM494.38 1613.84h2.1v42.8h-2.1zM512.72 1613.84h1.65v42.8h-1.65zM535.65 1613.84h1.03v42.8h-1.03zM558.99 1613.84h1.83v42.8h-1.83z" fill="#6a52a8" fill-opacity="0.12"/>
<path d="M146.72 1613.84h1.84v42.8h-1.84zM162.38 1613.84h1.23v42.8h-1.23zM183.39 1613.84h1.34v42.8h-1.34zM224.89 1613.84h1.95v42.8h-1.95zM229.92 1613.84h1.59v42.8h-1.59zM275.08 1613.84h2.15v42.8h-2.15zM302.35 1613.84h1.34v42.8h-1.34zM473.37 1613.84h1.56v42.8h-1.56zM483.57 1613.84h2.17v42.8h-2.17z" fill="#6f62b8" fill-opacity="0.18"/>
<rect x="91.5" y="1613.84" width="1.5" height="42.8" fill="#503c7c"/>
<rect x="459.5" y="1613.84" width="1.5" height="42.8" fill="#503c7c"/>
<rect x="610" y="1613.84" width="4.8" height="42.8" fill="#60c080"/>
<rect x="610" y="1613.84" width="1" height="42.8" fill="#3a9a88"/>
<rect x="613.8" y="1613.84" width="1" height="42.8" fill="#3a9a88"/>
<rect x="623.8" y="1613.84" width="1.2" height="42.8" fill="#90d080"/>
<path class="sb" d="M2.6 1669.68H35.2V1716.08H2.6"/>
<text class="st" transform="translate(25.9 1693.48) rotate(-90) scale(0.93 1)">chr3A</text>
<rect x="64.1" y="1671.58" width="532.5" height="42.8" fill="#45145c"/>
<path d="M104.21 1671.58h12.54v42.8h-12.54zM112.53 1671.58h7.45v42.8h-7.45zM180.01 1671.58h4.6v42.8h-4.6zM241.92 1671.58h13.33v42.8h-13.33zM251.85 1671.58h12.87v42.8h-12.87zM271.36 1671.58h6.69v42.8h-6.69zM285.77 1671.58h3v42.8h-3zM340.87 1671.58h6.3v42.8h-6.3zM353.69 1671.58h3.36v42.8h-3.36zM365.24 1671.58h13.96v42.8h-13.96zM365.41 1671.58h4.24v42.8h-4.24zM394.99 1671.58h3.15v42.8h-3.15zM405.57 1671.58h9.7v42.8h-9.7zM411.76 1671.58h10.99v42.8h-10.99zM458.05 1671.58h9.27v42.8h-9.27zM466.84 1671.58h8.67v42.8h-8.67zM491.15 1671.58h4.45v42.8h-4.45zM507.6 1671.58h8.02v42.8h-8.02zM552.87 1671.58h10.78v42.8h-10.78z" fill="#6a4aa0" fill-opacity="0.08"/>
<path d="M68.94 1671.58h10.64v42.8h-10.64zM86.71 1671.58h5.17v42.8h-5.17zM110.48 1671.58h13.01v42.8h-13.01zM112.15 1671.58h5.09v42.8h-5.09zM122.56 1671.58h3.34v42.8h-3.34zM124.95 1671.58h11.75v42.8h-11.75zM152.31 1671.58h7.26v42.8h-7.26zM285.58 1671.58h3.82v42.8h-3.82zM285.64 1671.58h13.48v42.8h-13.48zM408.79 1671.58h12.79v42.8h-12.79zM454.06 1671.58h8.67v42.8h-8.67zM457.11 1671.58h6.43v42.8h-6.43zM466.68 1671.58h8.36v42.8h-8.36zM547.66 1671.58h10.16v42.8h-10.16z" fill="#25003a" fill-opacity="0.1"/>
<path d="M73.05 1671.58h1.74v42.8h-1.74zM83.04 1671.58h2.03v42.8h-2.03zM97.7 1671.58h1.55v42.8h-1.55zM104.21 1671.58h1.22v42.8h-1.22zM112.32 1671.58h1.68v42.8h-1.68zM159.47 1671.58h1.82v42.8h-1.82zM212.97 1671.58h1.09v42.8h-1.09zM251.32 1671.58h1.21v42.8h-1.21zM275.88 1671.58h2.18v42.8h-2.18zM302.12 1671.58h1.85v42.8h-1.85zM312.41 1671.58h1.5v42.8h-1.5zM342.06 1671.58h1.1v42.8h-1.1zM343.1 1671.58h2.15v42.8h-2.15zM343.72 1671.58h1.52v42.8h-1.52zM355.31 1671.58h1.83v42.8h-1.83zM384.58 1671.58h1.85v42.8h-1.85zM402.34 1671.58h1.05v42.8h-1.05zM420.74 1671.58h2.15v42.8h-2.15zM441.86 1671.58h1.46v42.8h-1.46zM475.95 1671.58h1.78v42.8h-1.78zM476.24 1671.58h2.15v42.8h-2.15zM483.1 1671.58h1.24v42.8h-1.24zM494.8 1671.58h1.9v42.8h-1.9zM529.47 1671.58h1.02v42.8h-1.02zM552.8 1671.58h1.91v42.8h-1.91zM562.8 1671.58h2.01v42.8h-2.01zM566.97 1671.58h2.14v42.8h-2.14zM594.41 1671.58h1.45v42.8h-1.45z" fill="#6a52a8" fill-opacity="0.12"/>
<path d="M198.55 1671.58h2.16v42.8h-2.16zM229.75 1671.58h1.68v42.8h-1.68zM253.68 1671.58h2.19v42.8h-2.19zM254.26 1671.58h1.65v42.8h-1.65zM256.34 1671.58h2.08v42.8h-2.08zM352.05 1671.58h1.5v42.8h-1.5zM540.37 1671.58h1.68v42.8h-1.68z" fill="#6f62b8" fill-opacity="0.18"/>
<rect x="64.1" y="1671.58" width="5.8" height="42.8" fill="#3a4a8c"/>
<rect x="68.5" y="1671.58" width="1.4" height="42.8" fill="#5a88c0"/>
<rect x="505.7" y="1671.58" width="1.5" height="42.8" fill="#503c7c"/>
<rect x="553.4" y="1671.58" width="1.5" height="42.8" fill="#503c7c"/>
<path class="sb" d="M2.6 1727.42H35.2V1773.82H2.6"/>
<text class="st" transform="translate(25.9 1751.22) rotate(-90) scale(0.93 1)">chr4A</text>
<rect x="64.1" y="1729.32" width="531.9" height="42.8" fill="#45145c"/>
<path d="M89.96 1729.32h13.44v42.8h-13.44zM178.35 1729.32h8.31v42.8h-8.31zM182.7 1729.32h4.29v42.8h-4.29zM214.77 1729.32h4.43v42.8h-4.43zM239.83 1729.32h11.83v42.8h-11.83zM250.1 1729.32h3.12v42.8h-3.12zM261.11 1729.32h13.79v42.8h-13.79zM274.63 1729.32h13.24v42.8h-13.24zM318.52 1729.32h9.4v42.8h-9.4zM450.93 1729.32h5.67v42.8h-5.67zM455.28 1729.32h13.19v42.8h-13.19zM458.11 1729.32h4.54v42.8h-4.54zM461.54 1729.32h4.16v42.8h-4.16zM481.76 1729.32h13.72v42.8h-13.72zM526.26 1729.32h4.85v42.8h-4.85zM552.06 1729.32h6.7v42.8h-6.7zM571.04 1729.32h13.57v42.8h-13.57zM586.19 1729.32h6.69v42.8h-6.69z" fill="#6a4aa0" fill-opacity="0.08"/>
<path d="M71.16 1729.32h13.18v42.8h-13.18zM95.55 1729.32h7.79v42.8h-7.79zM164.76 1729.32h5.8v42.8h-5.8zM178.58 1729.32h5.51v42.8h-5.51zM204.66 1729.32h4.53v42.8h-4.53zM227.15 1729.32h5.62v42.8h-5.62zM228.71 1729.32h8.83v42.8h-8.83zM301.44 1729.32h8.41v42.8h-8.41zM315.49 1729.32h5.12v42.8h-5.12zM325.53 1729.32h8.41v42.8h-8.41zM334.86 1729.32h9.54v42.8h-9.54zM375.35 1729.32h9.38v42.8h-9.38zM412.07 1729.32h12.23v42.8h-12.23zM419.77 1729.32h4.12v42.8h-4.12zM485.28 1729.32h12.3v42.8h-12.3z" fill="#25003a" fill-opacity="0.1"/>
<path d="M74.31 1729.32h1.16v42.8h-1.16zM101.3 1729.32h2.06v42.8h-2.06zM106.34 1729.32h1.27v42.8h-1.27zM130.61 1729.32h1.54v42.8h-1.54zM185.04 1729.32h1.63v42.8h-1.63zM207.38 1729.32h2.01v42.8h-2.01zM220.38 1729.32h1.63v42.8h-1.63zM264.63 1729.32h1.33v42.8h-1.33zM303.5 1729.32h1.52v42.8h-1.52zM330.56 1729.32h2.17v42.8h-2.17zM343.18 1729.32h1.44v42.8h-1.44zM365.28 1729.32h1.65v42.8h-1.65zM385.55 1729.32h1.41v42.8h-1.41zM409.95 1729.32h1.47v42.8h-1.47zM427.67 1729.32h1.01v42.8h-1.01zM441.27 1729.32h1.36v42.8h-1.36zM444.31 1729.32h1.76v42.8h-1.76zM459.28 1729.32h1.73v42.8h-1.73zM463.95 1729.32h2.16v42.8h-2.16zM478.79 1729.32h1.63v42.8h-1.63zM518.7 1729.32h1.48v42.8h-1.48zM547.62 1729.32h1.17v42.8h-1.17zM552.18 1729.32h1.38v42.8h-1.38zM562.47 1729.32h1.77v42.8h-1.77zM591.45 1729.32h1.4v42.8h-1.4z" fill="#6a52a8" fill-opacity="0.12"/>
<path d="M83.77 1729.32h1v42.8h-1zM98.28 1729.32h2.11v42.8h-2.11zM126.17 1729.32h2.1v42.8h-2.1zM203.52 1729.32h1.32v42.8h-1.32zM349.58 1729.32h1.61v42.8h-1.61zM414.42 1729.32h2.12v42.8h-2.12zM425.49 1729.32h1.46v42.8h-1.46zM460.51 1729.32h1.74v42.8h-1.74zM467.13 1729.32h1.39v42.8h-1.39zM476.84 1729.32h1.43v42.8h-1.43z" fill="#6f62b8" fill-opacity="0.18"/>
<rect x="583.8" y="1729.32" width="1.5" height="42.8" fill="#503c7c"/>
<path class="sb" d="M2.6 1785.16H35.2V1831.56H2.6"/>
<text class="st" transform="translate(25.9 1808.96) rotate(-90) scale(0.93 1)">chr5A</text>
<rect x="64.1" y="1787.06" width="505.2" height="42.8" fill="#45145c"/>
<path d="M77.22 1787.06h3.79v42.8h-3.79zM77.67 1787.06h7.54v42.8h-7.54zM130.86 1787.06h6.41v42.8h-6.41zM133.11 1787.06h12.74v42.8h-12.74zM149.55 1787.06h5.47v42.8h-5.47zM245.42 1787.06h9.83v42.8h-9.83zM249.08 1787.06h8.47v42.8h-8.47zM284.07 1787.06h12.07v42.8h-12.07zM291.67 1787.06h9.46v42.8h-9.46zM306.77 1787.06h4.92v42.8h-4.92zM352.55 1787.06h6.23v42.8h-6.23zM371.71 1787.06h11.25v42.8h-11.25zM374.25 1787.06h10.61v42.8h-10.61zM374.26 1787.06h3.74v42.8h-3.74zM388.94 1787.06h5.53v42.8h-5.53zM405.39 1787.06h9.21v42.8h-9.21zM456.73 1787.06h11.1v42.8h-11.1zM529.2 1787.06h5.98v42.8h-5.98zM541.92 1787.06h11.93v42.8h-11.93zM547.36 1787.06h13.42v42.8h-13.42zM562.1 1787.06h5.43v42.8h-5.43z" fill="#6a4aa0" fill-opacity="0.08"/>
<path d="M108.92 1787.06h9.29v42.8h-9.29zM232.56 1787.06h5.71v42.8h-5.71zM237.05 1787.06h13.31v42.8h-13.31zM270.77 1787.06h13.75v42.8h-13.75zM303.58 1787.06h10.22v42.8h-10.22zM369.8 1787.06h4.45v42.8h-4.45zM400.66 1787.06h6.12v42.8h-6.12zM407.38 1787.06h12.92v42.8h-12.92zM426.46 1787.06h7v42.8h-7zM432.16 1787.06h3.03v42.8h-3.03z" fill="#25003a" fill-opacity="0.1"/>
<path d="M205.3 1787.06h2.2v42.8h-2.2zM220.83 1787.06h1.53v42.8h-1.53zM243.16 1787.06h1.63v42.8h-1.63zM245.66 1787.06h1.02v42.8h-1.02zM253.25 1787.06h1.93v42.8h-1.93zM256.06 1787.06h1.93v42.8h-1.93zM259.47 1787.06h1.64v42.8h-1.64zM303.62 1787.06h1.59v42.8h-1.59zM312.51 1787.06h1.94v42.8h-1.94zM323.19 1787.06h1.6v42.8h-1.6zM328.15 1787.06h2.07v42.8h-2.07zM347.53 1787.06h1.72v42.8h-1.72zM368.55 1787.06h1.52v42.8h-1.52zM402.65 1787.06h1.81v42.8h-1.81zM405.47 1787.06h1.36v42.8h-1.36zM425.69 1787.06h1.87v42.8h-1.87zM426.8 1787.06h2.05v42.8h-2.05zM434.06 1787.06h1.88v42.8h-1.88zM443.7 1787.06h2.17v42.8h-2.17zM452.54 1787.06h1.21v42.8h-1.21zM482.83 1787.06h1.11v42.8h-1.11zM511.78 1787.06h2v42.8h-2zM531.18 1787.06h1.65v42.8h-1.65z" fill="#6a52a8" fill-opacity="0.12"/>
<path d="M123.88 1787.06h1.51v42.8h-1.51zM218.95 1787.06h2.19v42.8h-2.19zM276.79 1787.06h1.48v42.8h-1.48zM294.56 1787.06h1.59v42.8h-1.59zM300.15 1787.06h2.18v42.8h-2.18zM347.09 1787.06h1.57v42.8h-1.57zM351.93 1787.06h2.07v42.8h-2.07zM516.67 1787.06h1.45v42.8h-1.45zM526.21 1787.06h1.99v42.8h-1.99zM555.16 1787.06h1.75v42.8h-1.75z" fill="#6f62b8" fill-opacity="0.18"/>
<rect x="430" y="1787.06" width="2" height="42.8" fill="#4a5a98"/>
<path class="sb" d="M2.6 1842.9H35.2V1889.3H2.6"/>
<text class="st" transform="translate(25.9 1866.7) rotate(-90) scale(0.93 1)">chr6A</text>
<rect x="64.1" y="1844.8" width="440.9" height="42.8" fill="#45145c"/>
<path d="M128.82 1844.8h10.37v42.8h-10.37zM137.61 1844.8h13.34v42.8h-13.34zM173.29 1844.8h6.42v42.8h-6.42zM181.05 1844.8h4.17v42.8h-4.17zM212.53 1844.8h7.03v42.8h-7.03zM219.64 1844.8h12.15v42.8h-12.15zM220.51 1844.8h3.04v42.8h-3.04zM241.76 1844.8h9.86v42.8h-9.86zM280.62 1844.8h7.2v42.8h-7.2zM300.25 1844.8h5.03v42.8h-5.03zM319.39 1844.8h12.85v42.8h-12.85zM341.32 1844.8h7.92v42.8h-7.92zM341.74 1844.8h7.1v42.8h-7.1zM356.61 1844.8h3.53v42.8h-3.53zM359.89 1844.8h9.38v42.8h-9.38zM376.43 1844.8h9.38v42.8h-9.38zM386.03 1844.8h5.89v42.8h-5.89zM386.18 1844.8h11.17v42.8h-11.17zM432.88 1844.8h3.35v42.8h-3.35z" fill="#6a4aa0" fill-opacity="0.08"/>
<path d="M67.85 1844.8h12.98v42.8h-12.98zM90.08 1844.8h12.33v42.8h-12.33zM120.62 1844.8h12.13v42.8h-12.13zM230.84 1844.8h13.86v42.8h-13.86zM239.71 1844.8h9.78v42.8h-9.78zM304.22 1844.8h11.7v42.8h-11.7zM396.42 1844.8h6.3v42.8h-6.3zM434.87 1844.8h5.76v42.8h-5.76z" fill="#25003a" fill-opacity="0.1"/>
<path d="M87.41 1844.8h1.58v42.8h-1.58zM89.02 1844.8h1.49v42.8h-1.49zM104.57 1844.8h2.14v42.8h-2.14zM108.07 1844.8h1.14v42.8h-1.14zM146.8 1844.8h1.58v42.8h-1.58zM152.81 1844.8h1.55v42.8h-1.55zM161.51 1844.8h1.81v42.8h-1.81zM179.69 1844.8h1.89v42.8h-1.89zM220.23 1844.8h1.25v42.8h-1.25zM254.53 1844.8h1.41v42.8h-1.41zM274.08 1844.8h1.23v42.8h-1.23zM280.76 1844.8h1.86v42.8h-1.86zM307.88 1844.8h1.09v42.8h-1.09zM321.81 1844.8h1.64v42.8h-1.64zM343.8 1844.8h1.9v42.8h-1.9zM352.09 1844.8h1.61v42.8h-1.61zM366.95 1844.8h2.11v42.8h-2.11zM403.45 1844.8h1.69v42.8h-1.69zM411.13 1844.8h2.05v42.8h-2.05zM411.59 1844.8h1.56v42.8h-1.56zM415.62 1844.8h1.62v42.8h-1.62zM431.47 1844.8h1.48v42.8h-1.48zM435.27 1844.8h1.23v42.8h-1.23zM446.57 1844.8h2.18v42.8h-2.18z" fill="#6a52a8" fill-opacity="0.12"/>
<path d="M86.18 1844.8h1.72v42.8h-1.72zM208.58 1844.8h1.36v42.8h-1.36zM362.4 1844.8h1.49v42.8h-1.49zM373.43 1844.8h1.98v42.8h-1.98zM449.4 1844.8h1.42v42.8h-1.42z" fill="#6f62b8" fill-opacity="0.18"/>
<rect x="66.1" y="1844.8" width="2.5" height="42.8" fill="#70b8a0"/>
<rect x="68.6" y="1844.8" width="2.2" height="42.8" fill="#1f5566"/>
<rect x="70.8" y="1844.8" width="3.5" height="42.8" fill="#4a78a0"/>
<rect x="74.3" y="1844.8" width="3.2" height="42.8" fill="#2e3f78"/>
<rect x="77.5" y="1844.8" width="4" height="42.8" fill="#68b880"/>
<rect x="81.5" y="1844.8" width="2.5" height="42.8" fill="#78d870"/>
<rect x="84" y="1844.8" width="2" height="42.8" fill="#40b060"/>
<rect x="86" y="1844.8" width="3.3" height="42.8" fill="#60c080"/>
<rect x="497.1" y="1844.8" width="2.6" height="42.8" fill="#3a9a88"/>
<rect x="499.7" y="1844.8" width="2.7" height="42.8" fill="#80d870"/>
<rect x="502.4" y="1844.8" width="1.3" height="42.8" fill="#2a6a60"/>
<rect x="503.7" y="1844.8" width="1.3" height="42.8" fill="#e0e050"/>
<rect x="131.7" y="1844.8" width="1.5" height="42.8" fill="#503c7c"/>
<path class="sb" d="M2.6 1900.64H35.2V1947.04H2.6"/>
<text class="st" transform="translate(25.9 1924.44) rotate(-90) scale(0.93 1)">chr7A</text>
<rect x="64.1" y="1902.54" width="527.7" height="42.8" fill="#45145c"/>
<path d="M70.45 1902.54h8.11v42.8h-8.11zM78.88 1902.54h5.41v42.8h-5.41zM80.48 1902.54h5.81v42.8h-5.81zM111.82 1902.54h5.79v42.8h-5.79zM113.85 1902.54h5.13v42.8h-5.13zM118.92 1902.54h7.77v42.8h-7.77zM202.93 1902.54h13.7v42.8h-13.7zM230.83 1902.54h12.63v42.8h-12.63zM273.75 1902.54h4.66v42.8h-4.66zM327.59 1902.54h5.78v42.8h-5.78zM346.53 1902.54h4.92v42.8h-4.92zM501.23 1902.54h12.87v42.8h-12.87zM504.63 1902.54h8.63v42.8h-8.63zM537.49 1902.54h9.85v42.8h-9.85zM542.69 1902.54h13.38v42.8h-13.38zM550.3 1902.54h4.55v42.8h-4.55zM558.75 1902.54h6.2v42.8h-6.2zM575.52 1902.54h7.72v42.8h-7.72z" fill="#6a4aa0" fill-opacity="0.08"/>
<path d="M72.43 1902.54h9.42v42.8h-9.42zM102.75 1902.54h12.89v42.8h-12.89zM107.34 1902.54h13.62v42.8h-13.62zM119.18 1902.54h8.99v42.8h-8.99zM146.72 1902.54h7.93v42.8h-7.93zM149.11 1902.54h8.1v42.8h-8.1zM149.42 1902.54h6.67v42.8h-6.67zM211.18 1902.54h9.55v42.8h-9.55zM313.5 1902.54h11.32v42.8h-11.32zM424.96 1902.54h3.26v42.8h-3.26zM440.57 1902.54h10.61v42.8h-10.61zM440.97 1902.54h4.62v42.8h-4.62zM448.04 1902.54h9.12v42.8h-9.12zM571.67 1902.54h6.88v42.8h-6.88z" fill="#25003a" fill-opacity="0.1"/>
<path d="M76.89 1902.54h1.39v42.8h-1.39zM88.55 1902.54h2.08v42.8h-2.08zM92.44 1902.54h2.06v42.8h-2.06zM116.6 1902.54h1.57v42.8h-1.57zM153.14 1902.54h1.11v42.8h-1.11zM160.5 1902.54h1.51v42.8h-1.51zM167.68 1902.54h1.79v42.8h-1.79zM192.55 1902.54h1.74v42.8h-1.74zM246.74 1902.54h1.77v42.8h-1.77zM290.44 1902.54h1.62v42.8h-1.62zM304.35 1902.54h1.2v42.8h-1.2zM350.92 1902.54h1.9v42.8h-1.9zM352.9 1902.54h1.75v42.8h-1.75zM383.35 1902.54h2.11v42.8h-2.11zM402.39 1902.54h1.76v42.8h-1.76zM406.52 1902.54h1.26v42.8h-1.26zM429.74 1902.54h2.13v42.8h-2.13zM434.34 1902.54h1.45v42.8h-1.45zM505.75 1902.54h1.99v42.8h-1.99zM507.17 1902.54h1.13v42.8h-1.13zM533.26 1902.54h1.36v42.8h-1.36zM556.3 1902.54h1.26v42.8h-1.26zM556.91 1902.54h1.37v42.8h-1.37zM561.8 1902.54h1.15v42.8h-1.15zM587.45 1902.54h1.5v42.8h-1.5z" fill="#6a52a8" fill-opacity="0.12"/>
<path d="M151.35 1902.54h1.82v42.8h-1.82zM312.88 1902.54h1.96v42.8h-1.96zM315.15 1902.54h1.22v42.8h-1.22zM329.05 1902.54h1.58v42.8h-1.58zM346.13 1902.54h1.54v42.8h-1.54zM392.81 1902.54h1.97v42.8h-1.97zM404.38 1902.54h1.82v42.8h-1.82zM409.14 1902.54h2.2v42.8h-2.2zM516.81 1902.54h1.73v42.8h-1.73zM561.34 1902.54h1.68v42.8h-1.68z" fill="#6f62b8" fill-opacity="0.18"/>
<rect x="572" y="1902.54" width="7.1" height="42.8" fill="#2a9a90"/>
<rect x="572" y="1902.54" width="1.3" height="42.8" fill="#50b080"/>
<rect x="582.5" y="1902.54" width="1.2" height="42.8" fill="#a0a0b0"/>
<rect x="589.7" y="1902.54" width="2.1" height="42.8" fill="#3a4a90"/>
<text class="tk" transform="translate(64.9 1976.24) scale(0.945 1)">0</text>
<text class="tk" transform="translate(136.8 1976.24) scale(0.945 1)">100</text>
<text class="tk" transform="translate(208.7 1976.24) scale(0.945 1)">200</text>
<text class="tk" transform="translate(280.6 1976.24) scale(0.945 1)">300</text>
<text class="tk" transform="translate(352.5 1976.24) scale(0.945 1)">400</text>
<text class="tk" transform="translate(424.4 1976.24) scale(0.945 1)">500</text>
<text class="tk" transform="translate(496.3 1976.24) scale(0.945 1)">600</text>
<text class="tk" transform="translate(568.2 1976.24) scale(0.945 1)">700</text>
<path class="tm" d="M64.9 1947.54v5M136.8 1947.54v5M208.7 1947.54v5M280.6 1947.54v5M352.5 1947.54v5M424.4 1947.54v5M496.3 1947.54v5M568.2 1947.54v5"/>
<text class="ax" x="346.05" y="2004.64">Position (Mb)</text>
</g>
<g>
<text class="t" x="1020.9" y="1546.1" font-size="32.2" text-anchor="middle">Chinese Spring</text>
<path class="sb" d="M735.6 1554.2H767.6V1600.6H735.6"/>
<text class="st" transform="translate(758.9 1578) rotate(-90) scale(0.93 1)">chr1A</text>
<rect x="796.5" y="1556.1" width="429.3" height="42.8" fill="#45145c"/>
<path d="M814.72 1556.1h9.24v42.8h-9.24zM857.51 1556.1h8.73v42.8h-8.73zM931.16 1556.1h5.17v42.8h-5.17zM939.11 1556.1h4.3v42.8h-4.3zM987.54 1556.1h6.21v42.8h-6.21zM1030.66 1556.1h7.47v42.8h-7.47zM1050.91 1556.1h4.05v42.8h-4.05zM1095.14 1556.1h11.31v42.8h-11.31zM1122.23 1556.1h12.73v42.8h-12.73zM1175.59 1556.1h7.58v42.8h-7.58zM1178.84 1556.1h5.92v42.8h-5.92z" fill="#6a4aa0" fill-opacity="0.08"/>
<path d="M807.02 1556.1h13.95v42.8h-13.95zM820.08 1556.1h3.6v42.8h-3.6zM851.09 1556.1h10.4v42.8h-10.4zM944.57 1556.1h4.92v42.8h-4.92zM992.3 1556.1h4.99v42.8h-4.99zM1016.8 1556.1h6.5v42.8h-6.5zM1019.3 1556.1h8.07v42.8h-8.07zM1038.63 1556.1h13.52v42.8h-13.52zM1043.86 1556.1h8.04v42.8h-8.04zM1088.62 1556.1h5.69v42.8h-5.69zM1109.79 1556.1h9.2v42.8h-9.2zM1121.2 1556.1h4.67v42.8h-4.67zM1123.64 1556.1h11.12v42.8h-11.12zM1149.07 1556.1h3.89v42.8h-3.89zM1153.18 1556.1h8.56v42.8h-8.56z" fill="#25003a" fill-opacity="0.1"/>
<path d="M802.23 1556.1h1.27v42.8h-1.27zM806.04 1556.1h1.4v42.8h-1.4zM817.29 1556.1h1.35v42.8h-1.35zM820.21 1556.1h1.72v42.8h-1.72zM837.49 1556.1h2.09v42.8h-2.09zM854.77 1556.1h2.02v42.8h-2.02zM898.18 1556.1h1.6v42.8h-1.6zM918.51 1556.1h1.85v42.8h-1.85zM932.99 1556.1h2.06v42.8h-2.06zM937.17 1556.1h1.33v42.8h-1.33zM965.8 1556.1h1.74v42.8h-1.74zM969.25 1556.1h1.31v42.8h-1.31zM970.23 1556.1h1.46v42.8h-1.46zM971.7 1556.1h1.65v42.8h-1.65zM1012.16 1556.1h1.9v42.8h-1.9zM1035.83 1556.1h1.47v42.8h-1.47zM1040.43 1556.1h1.42v42.8h-1.42zM1049.92 1556.1h1.8v42.8h-1.8zM1088.55 1556.1h1.65v42.8h-1.65zM1144.69 1556.1h1.23v42.8h-1.23zM1170.67 1556.1h1.22v42.8h-1.22zM1173.15 1556.1h1.34v42.8h-1.34zM1218.72 1556.1h1.48v42.8h-1.48z" fill="#6a52a8" fill-opacity="0.12"/>
<path d="M805.03 1556.1h1.1v42.8h-1.1zM839.24 1556.1h2.01v42.8h-2.01zM1084.08 1556.1h1.45v42.8h-1.45zM1101.61 1556.1h1.53v42.8h-1.53zM1208.33 1556.1h2v42.8h-2z" fill="#6f62b8" fill-opacity="0.18"/>
<rect x="802.8" y="1556.1" width="1.5" height="42.8" fill="#5060a0"/>
<rect x="1218.4" y="1556.1" width="1.5" height="42.8" fill="#5060a0"/>
<path class="sb" d="M735.6 1611.94H767.6V1658.34H735.6"/>
<text class="st" transform="translate(758.9 1635.74) rotate(-90) scale(0.93 1)">chr2A</text>
<rect x="796.5" y="1613.84" width="563.7" height="42.8" fill="#45145c"/>
<path d="M797.87 1613.84h13.81v42.8h-13.81zM953.59 1613.84h5.45v42.8h-5.45zM960.96 1613.84h10.63v42.8h-10.63zM988.34 1613.84h8.83v42.8h-8.83zM1011.62 1613.84h11.29v42.8h-11.29zM1024.37 1613.84h13.04v42.8h-13.04zM1043.15 1613.84h8.38v42.8h-8.38zM1055.51 1613.84h7.2v42.8h-7.2zM1061.42 1613.84h11.55v42.8h-11.55zM1120.93 1613.84h4.65v42.8h-4.65zM1142.57 1613.84h9.32v42.8h-9.32zM1151.95 1613.84h7.3v42.8h-7.3zM1154.37 1613.84h4.2v42.8h-4.2zM1175.06 1613.84h7.04v42.8h-7.04zM1176 1613.84h10.13v42.8h-10.13zM1214.12 1613.84h5.5v42.8h-5.5zM1241.11 1613.84h12.7v42.8h-12.7zM1251.23 1613.84h6.94v42.8h-6.94zM1272.51 1613.84h7.59v42.8h-7.59zM1287.08 1613.84h5.2v42.8h-5.2zM1298 1613.84h8.39v42.8h-8.39zM1326.89 1613.84h7.03v42.8h-7.03zM1341.23 1613.84h3.89v42.8h-3.89zM1348.86 1613.84h10.62v42.8h-10.62z" fill="#6a4aa0" fill-opacity="0.08"/>
<path d="M826.4 1613.84h8.87v42.8h-8.87zM937.97 1613.84h11.9v42.8h-11.9zM946.1 1613.84h8.97v42.8h-8.97zM988 1613.84h7.3v42.8h-7.3zM988.33 1613.84h4.77v42.8h-4.77zM999.59 1613.84h8.13v42.8h-8.13zM1044.21 1613.84h6.91v42.8h-6.91zM1053.51 1613.84h12.98v42.8h-12.98zM1110.66 1613.84h10.59v42.8h-10.59zM1169.33 1613.84h4.88v42.8h-4.88zM1200.06 1613.84h5.96v42.8h-5.96z" fill="#25003a" fill-opacity="0.1"/>
<path d="M806.53 1613.84h1.4v42.8h-1.4zM823.56 1613.84h2.07v42.8h-2.07zM854.91 1613.84h1.04v42.8h-1.04zM861.51 1613.84h1.49v42.8h-1.49zM902.04 1613.84h1.57v42.8h-1.57zM916.69 1613.84h1.35v42.8h-1.35zM937.65 1613.84h1.48v42.8h-1.48zM951.42 1613.84h1.97v42.8h-1.97zM963.17 1613.84h1.11v42.8h-1.11zM994.42 1613.84h1.64v42.8h-1.64zM1009.25 1613.84h1.86v42.8h-1.86zM1059.06 1613.84h1.53v42.8h-1.53zM1059.65 1613.84h2v42.8h-2zM1077.95 1613.84h1.52v42.8h-1.52zM1092.63 1613.84h1.92v42.8h-1.92zM1118.7 1613.84h1.57v42.8h-1.57zM1134.63 1613.84h1.2v42.8h-1.2zM1160.69 1613.84h1.77v42.8h-1.77zM1163.53 1613.84h2v42.8h-2zM1180.39 1613.84h1.61v42.8h-1.61zM1187.32 1613.84h2.01v42.8h-2.01zM1227.04 1613.84h1.49v42.8h-1.49zM1229.93 1613.84h2.19v42.8h-2.19zM1243.48 1613.84h1.98v42.8h-1.98zM1247.97 1613.84h1.56v42.8h-1.56zM1259.31 1613.84h1.83v42.8h-1.83zM1262.78 1613.84h2.07v42.8h-2.07zM1274.5 1613.84h1.7v42.8h-1.7zM1286.38 1613.84h1.9v42.8h-1.9zM1304.75 1613.84h2.15v42.8h-2.15z" fill="#6a52a8" fill-opacity="0.12"/>
<path d="M859.79 1613.84h1.87v42.8h-1.87zM875.5 1613.84h1.74v42.8h-1.74zM1026.29 1613.84h1.84v42.8h-1.84zM1035.69 1613.84h1.72v42.8h-1.72zM1106.28 1613.84h1.41v42.8h-1.41zM1137.74 1613.84h1.42v42.8h-1.42zM1155.58 1613.84h1.77v42.8h-1.77z" fill="#6f62b8" fill-opacity="0.18"/>
<rect x="1344.3" y="1613.84" width="1.2" height="42.8" fill="#d8d860"/>
<rect x="1348.7" y="1613.84" width="1.3" height="42.8" fill="#e0e050"/>
<rect x="1357.5" y="1613.84" width="2.7" height="42.8" fill="#3aa088"/>
<path class="sb" d="M735.6 1669.68H767.6V1716.08H735.6"/>
<text class="st" transform="translate(758.9 1693.48) rotate(-90) scale(0.93 1)">chr3A</text>
<rect x="796.5" y="1671.58" width="542" height="42.8" fill="#45145c"/>
<path d="M855.01 1671.58h10.1v42.8h-10.1zM867.87 1671.58h10.55v42.8h-10.55zM873.25 1671.58h12.76v42.8h-12.76zM880.62 1671.58h13.17v42.8h-13.17zM908.6 1671.58h13.67v42.8h-13.67zM924.65 1671.58h9.5v42.8h-9.5zM1003.71 1671.58h10.67v42.8h-10.67zM1011.83 1671.58h5.87v42.8h-5.87zM1015.78 1671.58h6.01v42.8h-6.01zM1061.25 1671.58h4.71v42.8h-4.71zM1132.78 1671.58h10.32v42.8h-10.32zM1142.14 1671.58h8.94v42.8h-8.94zM1183.74 1671.58h9.12v42.8h-9.12zM1191.92 1671.58h7.84v42.8h-7.84zM1198.15 1671.58h7.33v42.8h-7.33zM1216.92 1671.58h7.26v42.8h-7.26zM1232.11 1671.58h5.52v42.8h-5.52zM1236.49 1671.58h10.21v42.8h-10.21zM1265.24 1671.58h7.88v42.8h-7.88zM1277.84 1671.58h4.67v42.8h-4.67zM1287.33 1671.58h8.01v42.8h-8.01zM1318 1671.58h12.86v42.8h-12.86zM1320.08 1671.58h7.94v42.8h-7.94z" fill="#6a4aa0" fill-opacity="0.08"/>
<path d="M829.35 1671.58h6.2v42.8h-6.2zM839.87 1671.58h9.41v42.8h-9.41zM920.47 1671.58h12.13v42.8h-12.13zM1020.74 1671.58h9.92v42.8h-9.92zM1085.79 1671.58h5.04v42.8h-5.04zM1185.27 1671.58h5.2v42.8h-5.2zM1237.99 1671.58h5.71v42.8h-5.71zM1293.43 1671.58h9.02v42.8h-9.02zM1307.76 1671.58h4.54v42.8h-4.54zM1318.36 1671.58h13.57v42.8h-13.57z" fill="#25003a" fill-opacity="0.1"/>
<path d="M807.06 1671.58h1.88v42.8h-1.88zM832.85 1671.58h1.85v42.8h-1.85zM874.92 1671.58h1.59v42.8h-1.59zM875.63 1671.58h1.71v42.8h-1.71zM893 1671.58h1.89v42.8h-1.89zM900.15 1671.58h1.41v42.8h-1.41zM911.87 1671.58h1.57v42.8h-1.57zM924.5 1671.58h1.78v42.8h-1.78zM934.28 1671.58h1.93v42.8h-1.93zM962.83 1671.58h1.29v42.8h-1.29zM972.61 1671.58h1.44v42.8h-1.44zM982.42 1671.58h1.49v42.8h-1.49zM994.54 1671.58h2.04v42.8h-2.04zM996.44 1671.58h2.12v42.8h-2.12zM1045.94 1671.58h1.92v42.8h-1.92zM1063.32 1671.58h1.89v42.8h-1.89zM1079.89 1671.58h1.92v42.8h-1.92zM1098.27 1671.58h1.68v42.8h-1.68zM1118.39 1671.58h1.34v42.8h-1.34zM1128.31 1671.58h1.88v42.8h-1.88zM1139.41 1671.58h1.28v42.8h-1.28zM1157.34 1671.58h2.11v42.8h-2.11zM1180.08 1671.58h1.49v42.8h-1.49zM1188.97 1671.58h1.92v42.8h-1.92zM1200.48 1671.58h2.19v42.8h-2.19zM1206.87 1671.58h1.83v42.8h-1.83zM1250.67 1671.58h1.04v42.8h-1.04zM1298.18 1671.58h1.68v42.8h-1.68zM1321.65 1671.58h1.17v42.8h-1.17z" fill="#6a52a8" fill-opacity="0.12"/>
<path d="M818.96 1671.58h1.86v42.8h-1.86zM1019.26 1671.58h1.17v42.8h-1.17zM1237.9 1671.58h1.99v42.8h-1.99zM1296.96 1671.58h1.52v42.8h-1.52zM1301.63 1671.58h1.5v42.8h-1.5zM1318.11 1671.58h1.26v42.8h-1.26zM1318.58 1671.58h1.61v42.8h-1.61z" fill="#6f62b8" fill-opacity="0.18"/>
<rect x="1249.5" y="1671.58" width="1.5" height="42.8" fill="#4a4a8c"/>
<path class="sb" d="M735.6 1727.42H767.6V1773.82H735.6"/>
<text class="st" transform="translate(758.9 1751.22) rotate(-90) scale(0.93 1)">chr4A</text>
<rect x="796.5" y="1729.32" width="537.7" height="42.8" fill="#45145c"/>
<path d="M807.43 1729.32h5.69v42.8h-5.69zM824.42 1729.32h5.54v42.8h-5.54zM846.25 1729.32h7.81v42.8h-7.81zM880.14 1729.32h5.52v42.8h-5.52zM881.47 1729.32h7.78v42.8h-7.78zM908.42 1729.32h9.05v42.8h-9.05zM952.54 1729.32h9.28v42.8h-9.28zM991.02 1729.32h9.19v42.8h-9.19zM1017.12 1729.32h12.59v42.8h-12.59zM1017.44 1729.32h4.31v42.8h-4.31zM1036.78 1729.32h7.81v42.8h-7.81zM1082.68 1729.32h9.65v42.8h-9.65zM1084.35 1729.32h10.16v42.8h-10.16zM1091.19 1729.32h10.8v42.8h-10.8zM1103.89 1729.32h8.12v42.8h-8.12zM1107.27 1729.32h6.87v42.8h-6.87zM1167.75 1729.32h4.53v42.8h-4.53zM1202.77 1729.32h4.79v42.8h-4.79zM1233.64 1729.32h9.5v42.8h-9.5zM1234.47 1729.32h10.73v42.8h-10.73zM1238.35 1729.32h7.65v42.8h-7.65zM1261.96 1729.32h4.68v42.8h-4.68zM1280.32 1729.32h12.17v42.8h-12.17z" fill="#6a4aa0" fill-opacity="0.08"/>
<path d="M812.81 1729.32h11.55v42.8h-11.55zM870.42 1729.32h7.59v42.8h-7.59zM887.67 1729.32h9.96v42.8h-9.96zM912.38 1729.32h10.83v42.8h-10.83zM946.16 1729.32h12.58v42.8h-12.58zM1110.11 1729.32h9.01v42.8h-9.01zM1115.79 1729.32h12.74v42.8h-12.74zM1181.58 1729.32h5.72v42.8h-5.72zM1222.76 1729.32h5.03v42.8h-5.03zM1262.17 1729.32h4.27v42.8h-4.27z" fill="#25003a" fill-opacity="0.1"/>
<path d="M797.78 1729.32h1.36v42.8h-1.36zM821.65 1729.32h1.24v42.8h-1.24zM869.67 1729.32h1.68v42.8h-1.68zM876.55 1729.32h1.07v42.8h-1.07zM911.25 1729.32h2.1v42.8h-2.1zM916.46 1729.32h1.1v42.8h-1.1zM921.82 1729.32h1.93v42.8h-1.93zM937.99 1729.32h1.22v42.8h-1.22zM943.68 1729.32h2.08v42.8h-2.08zM949.52 1729.32h2.06v42.8h-2.06zM950.01 1729.32h1.81v42.8h-1.81zM957.93 1729.32h1.31v42.8h-1.31zM1009.08 1729.32h1.42v42.8h-1.42zM1025.29 1729.32h1.02v42.8h-1.02zM1036.78 1729.32h1.52v42.8h-1.52zM1115.91 1729.32h1.14v42.8h-1.14zM1147.75 1729.32h1.66v42.8h-1.66zM1167.75 1729.32h1.84v42.8h-1.84zM1226.26 1729.32h2.08v42.8h-2.08zM1265.34 1729.32h1.33v42.8h-1.33zM1281.89 1729.32h1.11v42.8h-1.11zM1298.47 1729.32h1.34v42.8h-1.34zM1302.63 1729.32h1.62v42.8h-1.62zM1316.87 1729.32h1.72v42.8h-1.72z" fill="#6a52a8" fill-opacity="0.12"/>
<path d="M899.27 1729.32h1.87v42.8h-1.87zM916.64 1729.32h1.93v42.8h-1.93zM949.05 1729.32h1.68v42.8h-1.68zM962.21 1729.32h2v42.8h-2zM984.85 1729.32h2.1v42.8h-2.1zM1103.74 1729.32h1.92v42.8h-1.92zM1119.11 1729.32h1.81v42.8h-1.81zM1221.84 1729.32h1.86v42.8h-1.86zM1235.66 1729.32h1.05v42.8h-1.05zM1283.41 1729.32h1.44v42.8h-1.44zM1309.58 1729.32h1.99v42.8h-1.99z" fill="#6f62b8" fill-opacity="0.18"/>
<path class="sb" d="M735.6 1785.16H767.6V1831.56H735.6"/>
<text class="st" transform="translate(758.9 1808.96) rotate(-90) scale(0.93 1)">chr5A</text>
<rect x="796.5" y="1787.06" width="512.3" height="42.8" fill="#45145c"/>
<path d="M809.39 1787.06h9.13v42.8h-9.13zM890.13 1787.06h6.86v42.8h-6.86zM911.42 1787.06h4.85v42.8h-4.85zM941.11 1787.06h3.98v42.8h-3.98zM947.12 1787.06h6.1v42.8h-6.1zM954.75 1787.06h9.28v42.8h-9.28zM972.83 1787.06h10.88v42.8h-10.88zM980.63 1787.06h12.65v42.8h-12.65zM982.2 1787.06h11.21v42.8h-11.21zM998.05 1787.06h9.04v42.8h-9.04zM1058 1787.06h11.96v42.8h-11.96zM1060.11 1787.06h4.05v42.8h-4.05zM1067.82 1787.06h9.81v42.8h-9.81zM1075.29 1787.06h4.33v42.8h-4.33zM1077.4 1787.06h3.1v42.8h-3.1zM1077.71 1787.06h4.1v42.8h-4.1zM1085.71 1787.06h7.57v42.8h-7.57zM1135.29 1787.06h10.48v42.8h-10.48zM1268.01 1787.06h5.77v42.8h-5.77zM1281.38 1787.06h13.25v42.8h-13.25zM1281.53 1787.06h13.48v42.8h-13.48zM1288.46 1787.06h7.58v42.8h-7.58zM1295.21 1787.06h8.99v42.8h-8.99zM1298.32 1787.06h3.37v42.8h-3.37z" fill="#6a4aa0" fill-opacity="0.08"/>
<path d="M960.13 1787.06h12.23v42.8h-12.23zM994.04 1787.06h3.04v42.8h-3.04zM1004.78 1787.06h8.98v42.8h-8.98zM1015 1787.06h7.52v42.8h-7.52zM1022.82 1787.06h11.31v42.8h-11.31zM1125.23 1787.06h6.72v42.8h-6.72zM1197.34 1787.06h7.73v42.8h-7.73zM1282.81 1787.06h12.22v42.8h-12.22z" fill="#25003a" fill-opacity="0.1"/>
<path d="M809.02 1787.06h1.47v42.8h-1.47zM813.07 1787.06h1.32v42.8h-1.32zM816.5 1787.06h1.3v42.8h-1.3zM819.59 1787.06h1.73v42.8h-1.73zM888.07 1787.06h1.37v42.8h-1.37zM906.9 1787.06h1.1v42.8h-1.1zM907.88 1787.06h1.07v42.8h-1.07zM929.37 1787.06h1.53v42.8h-1.53zM938.36 1787.06h1.1v42.8h-1.1zM943.7 1787.06h1v42.8h-1zM952.41 1787.06h2.2v42.8h-2.2zM969.33 1787.06h1.52v42.8h-1.52zM998.32 1787.06h1.34v42.8h-1.34zM1000.61 1787.06h1.7v42.8h-1.7zM1006.79 1787.06h1.81v42.8h-1.81zM1017.42 1787.06h1.51v42.8h-1.51zM1089.44 1787.06h1.58v42.8h-1.58zM1135.25 1787.06h1.59v42.8h-1.59zM1135.72 1787.06h2.05v42.8h-2.05zM1136.36 1787.06h1.7v42.8h-1.7zM1156.32 1787.06h2.07v42.8h-2.07zM1158.79 1787.06h1.79v42.8h-1.79zM1171.92 1787.06h1.73v42.8h-1.73zM1186.57 1787.06h1.78v42.8h-1.78zM1211.7 1787.06h2.17v42.8h-2.17zM1267.38 1787.06h1.03v42.8h-1.03zM1268.3 1787.06h1.61v42.8h-1.61zM1270.63 1787.06h1.55v42.8h-1.55zM1293.37 1787.06h1.94v42.8h-1.94z" fill="#6a52a8" fill-opacity="0.12"/>
<path d="M933.76 1787.06h1.12v42.8h-1.12zM1000.9 1787.06h1.93v42.8h-1.93zM1053.49 1787.06h1.07v42.8h-1.07zM1113.33 1787.06h1.32v42.8h-1.32zM1162.94 1787.06h2.12v42.8h-2.12z" fill="#6f62b8" fill-opacity="0.18"/>
<rect x="1169" y="1787.06" width="2.5" height="42.8" fill="#4a4f90"/>
<rect x="1200" y="1787.06" width="1.5" height="42.8" fill="#503c7c"/>
<path class="sb" d="M735.6 1842.9H767.6V1889.3H735.6"/>
<text class="st" transform="translate(758.9 1866.7) rotate(-90) scale(0.93 1)">chr6A</text>
<rect x="796.5" y="1844.8" width="446.5" height="42.8" fill="#45145c"/>
<path d="M903.48 1844.8h4.4v42.8h-4.4zM909.55 1844.8h4.8v42.8h-4.8zM926.84 1844.8h10.34v42.8h-10.34zM947.85 1844.8h8.8v42.8h-8.8zM962.3 1844.8h13.43v42.8h-13.43zM988.89 1844.8h10.56v42.8h-10.56zM991.52 1844.8h10.33v42.8h-10.33zM1009.26 1844.8h5.51v42.8h-5.51zM1052.54 1844.8h6.42v42.8h-6.42zM1086.26 1844.8h6.93v42.8h-6.93zM1132.83 1844.8h11.16v42.8h-11.16zM1133.99 1844.8h13.25v42.8h-13.25zM1216.51 1844.8h11.89v42.8h-11.89z" fill="#6a4aa0" fill-opacity="0.08"/>
<path d="M826.34 1844.8h5.39v42.8h-5.39zM859.02 1844.8h12.6v42.8h-12.6zM904.5 1844.8h3.12v42.8h-3.12zM951.05 1844.8h6.54v42.8h-6.54zM954.84 1844.8h6.12v42.8h-6.12zM1015.44 1844.8h12.02v42.8h-12.02zM1085.85 1844.8h8.38v42.8h-8.38zM1156.5 1844.8h11.46v42.8h-11.46zM1161.88 1844.8h8.37v42.8h-8.37zM1182.08 1844.8h5.61v42.8h-5.61zM1195.47 1844.8h5.56v42.8h-5.56zM1198.28 1844.8h4.17v42.8h-4.17zM1199.64 1844.8h7.74v42.8h-7.74zM1226.82 1844.8h13.67v42.8h-13.67z" fill="#25003a" fill-opacity="0.1"/>
<path d="M820.46 1844.8h1.47v42.8h-1.47zM840.7 1844.8h1.88v42.8h-1.88zM864.66 1844.8h1.78v42.8h-1.78zM890.8 1844.8h1.46v42.8h-1.46zM919.94 1844.8h2.08v42.8h-2.08zM923.66 1844.8h1.68v42.8h-1.68zM929.47 1844.8h1.77v42.8h-1.77zM935.52 1844.8h1.83v42.8h-1.83zM967.25 1844.8h1.9v42.8h-1.9zM997.52 1844.8h2.13v42.8h-2.13zM1000.53 1844.8h1.87v42.8h-1.87zM1002.81 1844.8h1.83v42.8h-1.83zM1006.12 1844.8h1.26v42.8h-1.26zM1020.97 1844.8h1.82v42.8h-1.82zM1025.43 1844.8h2.16v42.8h-2.16zM1061.87 1844.8h1.96v42.8h-1.96zM1073.92 1844.8h2.09v42.8h-2.09zM1089.87 1844.8h1.91v42.8h-1.91zM1096.61 1844.8h1.3v42.8h-1.3zM1122.18 1844.8h1.11v42.8h-1.11zM1143.83 1844.8h1.05v42.8h-1.05zM1153.32 1844.8h1.22v42.8h-1.22z" fill="#6a52a8" fill-opacity="0.12"/>
<path d="M918.19 1844.8h1.45v42.8h-1.45zM976.06 1844.8h1.46v42.8h-1.46zM998.09 1844.8h1.46v42.8h-1.46zM1002.46 1844.8h2.06v42.8h-2.06zM1070.34 1844.8h1.92v42.8h-1.92zM1084.96 1844.8h1.85v42.8h-1.85zM1159.8 1844.8h1.96v42.8h-1.96z" fill="#6f62b8" fill-opacity="0.18"/>
<rect x="799.9" y="1844.8" width="1.3" height="42.8" fill="#4a3a80"/>
<rect x="806.8" y="1844.8" width="3" height="42.8" fill="#50a898"/>
<rect x="809.8" y="1844.8" width="2.3" height="42.8" fill="#2a9070"/>
<rect x="812.1" y="1844.8" width="2.7" height="42.8" fill="#6ab848"/>
<rect x="814.8" y="1844.8" width="2.3" height="42.8" fill="#a8e868"/>
<rect x="817.1" y="1844.8" width="3" height="42.8" fill="#78c850"/>
<rect x="820.1" y="1844.8" width="3" height="42.8" fill="#a0e060"/>
<rect x="826.5" y="1844.8" width="3.5" height="42.8" fill="#4f2a7a"/>
<rect x="1235.8" y="1844.8" width="3.8" height="42.8" fill="#2f5f88"/>
<rect x="1239.6" y="1844.8" width="1.4" height="42.8" fill="#70c0a8"/>
<rect x="1241" y="1844.8" width="2" height="42.8" fill="#26456e"/>
<rect x="864.8" y="1844.8" width="1.5" height="42.8" fill="#503c7c"/>
<path class="sb" d="M735.6 1900.64H767.6V1947.04H735.6"/>
<text class="st" transform="translate(758.9 1924.44) rotate(-90) scale(0.93 1)">chr7A</text>
<rect x="796.5" y="1902.54" width="531.6" height="42.8" fill="#45145c"/>
<path d="M812.8 1902.54h10.06v42.8h-10.06zM837.84 1902.54h7.21v42.8h-7.21zM851.72 1902.54h10.04v42.8h-10.04zM876.77 1902.54h5.48v42.8h-5.48zM907.34 1902.54h13.8v42.8h-13.8zM950.64 1902.54h8.18v42.8h-8.18zM955.76 1902.54h5.5v42.8h-5.5zM976.22 1902.54h7.39v42.8h-7.39zM1036.62 1902.54h9.21v42.8h-9.21zM1039.76 1902.54h7.24v42.8h-7.24zM1091.28 1902.54h7.81v42.8h-7.81zM1113.44 1902.54h4.91v42.8h-4.91zM1146.87 1902.54h8.49v42.8h-8.49zM1148.03 1902.54h8.93v42.8h-8.93zM1159.69 1902.54h9.25v42.8h-9.25zM1163.68 1902.54h8.77v42.8h-8.77zM1175.1 1902.54h7.03v42.8h-7.03zM1204.57 1902.54h10.32v42.8h-10.32zM1217.5 1902.54h9.84v42.8h-9.84zM1223.73 1902.54h4.21v42.8h-4.21zM1245.31 1902.54h11.71v42.8h-11.71zM1256.59 1902.54h5.08v42.8h-5.08zM1264.98 1902.54h13.01v42.8h-13.01zM1269.94 1902.54h13.74v42.8h-13.74z" fill="#6a4aa0" fill-opacity="0.08"/>
<path d="M842.74 1902.54h3.59v42.8h-3.59zM887.97 1902.54h10.56v42.8h-10.56zM913.85 1902.54h11.63v42.8h-11.63zM967.65 1902.54h12.23v42.8h-12.23zM1032.08 1902.54h8.67v42.8h-8.67zM1073.32 1902.54h11.07v42.8h-11.07zM1080.03 1902.54h10.68v42.8h-10.68zM1220.32 1902.54h9.17v42.8h-9.17zM1298.58 1902.54h4.72v42.8h-4.72z" fill="#25003a" fill-opacity="0.1"/>
<path d="M799.45 1902.54h1.54v42.8h-1.54zM826.4 1902.54h2.17v42.8h-2.17zM831.36 1902.54h1.03v42.8h-1.03zM835 1902.54h1.53v42.8h-1.53zM838.86 1902.54h1.1v42.8h-1.1zM840.54 1902.54h2.09v42.8h-2.09zM843.45 1902.54h1.96v42.8h-1.96zM851 1902.54h1.92v42.8h-1.92zM871.33 1902.54h1.76v42.8h-1.76zM895.32 1902.54h2.02v42.8h-2.02zM907.6 1902.54h2.11v42.8h-2.11zM915.16 1902.54h1.95v42.8h-1.95zM949.5 1902.54h1.42v42.8h-1.42zM972.87 1902.54h1.62v42.8h-1.62zM1000.55 1902.54h1.97v42.8h-1.97zM1032.3 1902.54h1.23v42.8h-1.23zM1037.6 1902.54h2.17v42.8h-2.17zM1059.35 1902.54h1.86v42.8h-1.86zM1066.42 1902.54h1.49v42.8h-1.49zM1076.42 1902.54h1.92v42.8h-1.92zM1113.29 1902.54h1.39v42.8h-1.39zM1116.34 1902.54h1.7v42.8h-1.7zM1127.44 1902.54h1.13v42.8h-1.13zM1144.2 1902.54h1.69v42.8h-1.69zM1156.73 1902.54h1.88v42.8h-1.88zM1184.48 1902.54h1.74v42.8h-1.74zM1193.44 1902.54h1.61v42.8h-1.61zM1277.43 1902.54h1.41v42.8h-1.41zM1296.45 1902.54h1.37v42.8h-1.37zM1306.4 1902.54h1.25v42.8h-1.25z" fill="#6a52a8" fill-opacity="0.12"/>
<path d="M816.18 1902.54h1.8v42.8h-1.8zM883.25 1902.54h1.32v42.8h-1.32zM1035.71 1902.54h1.35v42.8h-1.35zM1209.11 1902.54h1.77v42.8h-1.77zM1239.11 1902.54h1.95v42.8h-1.95z" fill="#6f62b8" fill-opacity="0.18"/>
<rect x="1306" y="1902.54" width="1.5" height="42.8" fill="#503c7c"/>
<rect x="807" y="1902.54" width="6" height="42.8" fill="#4a2c78"/>
<text class="tk" transform="translate(797.3 1976.24) scale(0.945 1)">0</text>
<text class="tk" transform="translate(869.5 1976.24) scale(0.945 1)">100</text>
<text class="tk" transform="translate(941.7 1976.24) scale(0.945 1)">200</text>
<text class="tk" transform="translate(1013.9 1976.24) scale(0.945 1)">300</text>
<text class="tk" transform="translate(1086.1 1976.24) scale(0.945 1)">400</text>
<text class="tk" transform="translate(1158.3 1976.24) scale(0.945 1)">500</text>
<text class="tk" transform="translate(1230.5 1976.24) scale(0.945 1)">600</text>
<text class="tk" transform="translate(1302.7 1976.24) scale(0.945 1)">700</text>
<path class="tm" d="M797.3 1947.54v5M869.5 1947.54v5M941.7 1947.54v5M1013.9 1947.54v5M1086.1 1947.54v5M1158.3 1947.54v5M1230.5 1947.54v5M1302.7 1947.54v5"/>
<text class="ax" x="1078.35" y="2004.64">Position (Mb)</text>
</g>
<g>
<text class="t" x="297.35" y="2055.7" font-size="31.4" text-anchor="middle">Norin 61</text>
<path class="sb" d="M2.6 2062.3H35.2V2108.7H2.6"/>
<text class="st" transform="translate(25.9 2086.1) rotate(-90) scale(0.93 1)">chr1A</text>
<rect x="64.4" y="2064.2" width="435.1" height="42.8" fill="#45145c"/>
<path d="M74.71 2064.2h12.48v42.8h-12.48zM123.13 2064.2h10.06v42.8h-10.06zM158.09 2064.2h7.16v42.8h-7.16zM172.95 2064.2h4.05v42.8h-4.05zM240.51 2064.2h10.57v42.8h-10.57zM280.9 2064.2h12.9v42.8h-12.9zM309.9 2064.2h11.81v42.8h-11.81zM356.23 2064.2h7.7v42.8h-7.7zM367.71 2064.2h12.36v42.8h-12.36zM375.13 2064.2h4.64v42.8h-4.64zM410.08 2064.2h13.06v42.8h-13.06zM411.47 2064.2h8.09v42.8h-8.09zM436.02 2064.2h9.21v42.8h-9.21zM440.05 2064.2h9.6v42.8h-9.6zM458.26 2064.2h7.34v42.8h-7.34zM481.97 2064.2h9.12v42.8h-9.12zM482.56 2064.2h13.83v42.8h-13.83zM484.29 2064.2h6.01v42.8h-6.01z" fill="#6a4aa0" fill-opacity="0.08"/>
<path d="M95.67 2064.2h11.87v42.8h-11.87zM95.94 2064.2h10.58v42.8h-10.58zM120.8 2064.2h12.95v42.8h-12.95zM219.18 2064.2h13.62v42.8h-13.62zM223.99 2064.2h7.72v42.8h-7.72zM274.41 2064.2h5.01v42.8h-5.01zM279.63 2064.2h4.49v42.8h-4.49zM290.39 2064.2h5.83v42.8h-5.83zM458.05 2064.2h5.96v42.8h-5.96z" fill="#25003a" fill-opacity="0.1"/>
<path d="M71.66 2064.2h1.59v42.8h-1.59zM100.7 2064.2h1.76v42.8h-1.76zM101.33 2064.2h1.61v42.8h-1.61zM111.59 2064.2h1.6v42.8h-1.6zM112.86 2064.2h1.79v42.8h-1.79zM125.73 2064.2h1.84v42.8h-1.84zM126.18 2064.2h1.97v42.8h-1.97zM129.44 2064.2h1.41v42.8h-1.41zM167.72 2064.2h1.5v42.8h-1.5zM205.54 2064.2h1.88v42.8h-1.88zM208.13 2064.2h1.93v42.8h-1.93zM250.77 2064.2h2.04v42.8h-2.04zM274.57 2064.2h1.22v42.8h-1.22zM292.1 2064.2h1.12v42.8h-1.12zM294.63 2064.2h1.01v42.8h-1.01zM316.9 2064.2h1.54v42.8h-1.54zM319.78 2064.2h2.01v42.8h-2.01zM332.79 2064.2h1.33v42.8h-1.33zM356.08 2064.2h2.16v42.8h-2.16zM361.18 2064.2h1.98v42.8h-1.98zM395.94 2064.2h1.74v42.8h-1.74zM428.91 2064.2h1.16v42.8h-1.16zM431.13 2064.2h1.45v42.8h-1.45zM460.45 2064.2h1.54v42.8h-1.54zM477.27 2064.2h2.14v42.8h-2.14zM495.58 2064.2h1.51v42.8h-1.51z" fill="#6a52a8" fill-opacity="0.12"/>
<path d="M117.06 2064.2h1.33v42.8h-1.33zM315.8 2064.2h1.85v42.8h-1.85zM356.87 2064.2h1.17v42.8h-1.17z" fill="#6f62b8" fill-opacity="0.18"/>
<rect x="64.4" y="2064.2" width="2.8" height="42.8" fill="#4a9a88"/>
<rect x="67.2" y="2064.2" width="1" height="42.8" fill="#2a4a60"/>
<rect x="68.2" y="2064.2" width="3.1" height="42.8" fill="#7aba4a"/>
<rect x="71.3" y="2064.2" width="1.6" height="42.8" fill="#c0d888"/>
<rect x="72.9" y="2064.2" width="3" height="42.8" fill="#2a2a50"/>
<rect x="75.9" y="2064.2" width="6" height="42.8" fill="#78c870"/>
<path class="sb" d="M2.6 2120.04H35.2V2166.44H2.6"/>
<text class="st" transform="translate(25.9 2143.84) rotate(-90) scale(0.93 1)">chr2A</text>
<rect x="64.4" y="2121.94" width="572.4" height="42.8" fill="#45145c"/>
<path d="M77.36 2121.94h12.67v42.8h-12.67zM86.11 2121.94h7.17v42.8h-7.17zM87.91 2121.94h13.41v42.8h-13.41zM134.43 2121.94h13.7v42.8h-13.7zM174.47 2121.94h11.42v42.8h-11.42zM183.43 2121.94h7.25v42.8h-7.25zM300.04 2121.94h5.12v42.8h-5.12zM382.76 2121.94h10.99v42.8h-10.99zM411.68 2121.94h9.97v42.8h-9.97zM419.56 2121.94h12.24v42.8h-12.24zM420.53 2121.94h11.21v42.8h-11.21zM443.08 2121.94h6.62v42.8h-6.62zM487.58 2121.94h12.25v42.8h-12.25zM492.53 2121.94h6.02v42.8h-6.02zM541.69 2121.94h5.63v42.8h-5.63zM543.19 2121.94h7.87v42.8h-7.87zM544.16 2121.94h13.88v42.8h-13.88zM567.96 2121.94h5.76v42.8h-5.76z" fill="#6a4aa0" fill-opacity="0.08"/>
<path d="M98.21 2121.94h11.18v42.8h-11.18zM177.85 2121.94h7.19v42.8h-7.19zM182.25 2121.94h5.22v42.8h-5.22zM209.11 2121.94h10.45v42.8h-10.45zM232.16 2121.94h13.12v42.8h-13.12zM291.61 2121.94h6.03v42.8h-6.03zM358.5 2121.94h5.12v42.8h-5.12zM390.33 2121.94h7.3v42.8h-7.3zM402.16 2121.94h10.88v42.8h-10.88zM418.62 2121.94h13.33v42.8h-13.33zM428.14 2121.94h9.74v42.8h-9.74zM458.79 2121.94h12.83v42.8h-12.83zM472.38 2121.94h3.26v42.8h-3.26zM544.66 2121.94h5.67v42.8h-5.67zM559.13 2121.94h12.77v42.8h-12.77zM572.8 2121.94h12.6v42.8h-12.6zM574.21 2121.94h4.98v42.8h-4.98z" fill="#25003a" fill-opacity="0.1"/>
<path d="M92.51 2121.94h1.48v42.8h-1.48zM98.83 2121.94h1.78v42.8h-1.78zM143.4 2121.94h1.7v42.8h-1.7zM163.12 2121.94h1.06v42.8h-1.06zM174.03 2121.94h2.17v42.8h-2.17zM175.42 2121.94h1.02v42.8h-1.02zM185.8 2121.94h1.21v42.8h-1.21zM185.82 2121.94h1.95v42.8h-1.95zM186.66 2121.94h1.03v42.8h-1.03zM191.18 2121.94h1.82v42.8h-1.82zM199.58 2121.94h1.19v42.8h-1.19zM224.76 2121.94h1.38v42.8h-1.38zM226.32 2121.94h1.87v42.8h-1.87zM263.78 2121.94h1.8v42.8h-1.8zM288.29 2121.94h1.13v42.8h-1.13zM348.01 2121.94h1.28v42.8h-1.28zM367.25 2121.94h2.11v42.8h-2.11zM403.91 2121.94h2.01v42.8h-2.01zM404.87 2121.94h2.07v42.8h-2.07zM407.4 2121.94h1.42v42.8h-1.42zM422.14 2121.94h1.4v42.8h-1.4zM429.71 2121.94h2.15v42.8h-2.15zM443.91 2121.94h2.04v42.8h-2.04zM462.38 2121.94h2.18v42.8h-2.18zM484.01 2121.94h1.96v42.8h-1.96zM499.89 2121.94h1.97v42.8h-1.97zM515.25 2121.94h1.04v42.8h-1.04zM533.41 2121.94h1.78v42.8h-1.78zM536.57 2121.94h1.87v42.8h-1.87zM536.79 2121.94h1.68v42.8h-1.68zM539.72 2121.94h2.07v42.8h-2.07zM627.1 2121.94h1.32v42.8h-1.32z" fill="#6a52a8" fill-opacity="0.12"/>
<path d="M81.89 2121.94h1.37v42.8h-1.37zM144.59 2121.94h1.73v42.8h-1.73zM210.87 2121.94h1.1v42.8h-1.1zM254.22 2121.94h1.95v42.8h-1.95zM473.36 2121.94h1.81v42.8h-1.81zM510.69 2121.94h1.54v42.8h-1.54z" fill="#6f62b8" fill-opacity="0.18"/>
<rect x="88" y="2121.94" width="1.5" height="42.8" fill="#503c7c"/>
<rect x="621.4" y="2121.94" width="5.3" height="42.8" fill="#3a5a92"/>
<rect x="626.7" y="2121.94" width="4" height="42.8" fill="#3a2a70"/>
<rect x="630.7" y="2121.94" width="6.1" height="42.8" fill="#2a7a88"/>
<rect x="632.5" y="2121.94" width="1.2" height="42.8" fill="#b0d0a0"/>
<rect x="635" y="2121.94" width="1.8" height="42.8" fill="#50a090"/>
<path class="sb" d="M2.6 2177.78H35.2V2224.18H2.6"/>
<text class="st" transform="translate(25.9 2201.58) rotate(-90) scale(0.93 1)">chr3A</text>
<rect x="64.4" y="2179.68" width="553.9" height="42.8" fill="#45145c"/>
<path d="M74.3 2179.68h12.31v42.8h-12.31zM85.15 2179.68h12.96v42.8h-12.96zM104.15 2179.68h12.5v42.8h-12.5zM131.39 2179.68h5.74v42.8h-5.74zM136.19 2179.68h6.89v42.8h-6.89zM157.17 2179.68h9.94v42.8h-9.94zM159.24 2179.68h9.71v42.8h-9.71zM171.91 2179.68h9.49v42.8h-9.49zM176.41 2179.68h5.42v42.8h-5.42zM208.3 2179.68h8.52v42.8h-8.52zM209.65 2179.68h8.77v42.8h-8.77zM226.26 2179.68h13.97v42.8h-13.97zM229.16 2179.68h9.88v42.8h-9.88zM267.27 2179.68h12.43v42.8h-12.43zM326.63 2179.68h5.23v42.8h-5.23zM352.66 2179.68h10.71v42.8h-10.71zM487.84 2179.68h5.83v42.8h-5.83zM489.28 2179.68h12.16v42.8h-12.16zM499.06 2179.68h9.11v42.8h-9.11zM506.16 2179.68h8.92v42.8h-8.92zM507.48 2179.68h7.61v42.8h-7.61zM515.63 2179.68h7.66v42.8h-7.66zM567.79 2179.68h12.53v42.8h-12.53zM604.39 2179.68h12.55v42.8h-12.55z" fill="#6a4aa0" fill-opacity="0.08"/>
<path d="M116.87 2179.68h5.68v42.8h-5.68zM127.51 2179.68h4.65v42.8h-4.65zM187.22 2179.68h8.73v42.8h-8.73zM286.1 2179.68h7.62v42.8h-7.62zM344.81 2179.68h9.05v42.8h-9.05zM447.08 2179.68h7.4v42.8h-7.4zM484.61 2179.68h11.59v42.8h-11.59zM508.88 2179.68h3.28v42.8h-3.28zM523.23 2179.68h7.95v42.8h-7.95zM572.25 2179.68h6.82v42.8h-6.82z" fill="#25003a" fill-opacity="0.1"/>
<path d="M76.55 2179.68h1.59v42.8h-1.59zM104.26 2179.68h1.53v42.8h-1.53zM132.58 2179.68h1.2v42.8h-1.2zM133.4 2179.68h1.96v42.8h-1.96zM135.31 2179.68h1.56v42.8h-1.56zM137.51 2179.68h1.27v42.8h-1.27zM140.52 2179.68h1.32v42.8h-1.32zM159.74 2179.68h1.2v42.8h-1.2zM194.03 2179.68h1.33v42.8h-1.33zM253.61 2179.68h1.04v42.8h-1.04zM276.11 2179.68h1.5v42.8h-1.5zM311.29 2179.68h1.48v42.8h-1.48zM317.42 2179.68h1.64v42.8h-1.64zM352.83 2179.68h1.87v42.8h-1.87zM380.15 2179.68h1.34v42.8h-1.34zM419.83 2179.68h1.48v42.8h-1.48zM443.95 2179.68h1.76v42.8h-1.76zM483.67 2179.68h1.16v42.8h-1.16zM489.46 2179.68h1.29v42.8h-1.29zM501.87 2179.68h1.52v42.8h-1.52zM523.47 2179.68h1.09v42.8h-1.09zM529.38 2179.68h1.69v42.8h-1.69zM554.43 2179.68h2v42.8h-2zM558.3 2179.68h1.31v42.8h-1.31zM587.26 2179.68h1.5v42.8h-1.5zM595.25 2179.68h1.12v42.8h-1.12zM605.81 2179.68h1.45v42.8h-1.45z" fill="#6a52a8" fill-opacity="0.12"/>
<path d="M96.57 2179.68h1.59v42.8h-1.59zM150.29 2179.68h2.03v42.8h-2.03zM173.25 2179.68h1.62v42.8h-1.62zM229.19 2179.68h1.42v42.8h-1.42zM254.56 2179.68h1.5v42.8h-1.5zM330.59 2179.68h1.06v42.8h-1.06zM456.56 2179.68h1.69v42.8h-1.69zM472.84 2179.68h2.15v42.8h-2.15zM586.25 2179.68h1.78v42.8h-1.78z" fill="#6f62b8" fill-opacity="0.18"/>
<rect x="67.6" y="2179.68" width="1.5" height="42.8" fill="#503c7c"/>
<rect x="524.3" y="2179.68" width="1.5" height="42.8" fill="#503c7c"/>
<path class="sb" d="M2.6 2235.52H35.2V2281.92H2.6"/>
<text class="st" transform="translate(25.9 2259.32) rotate(-90) scale(0.93 1)">chr4A</text>
<rect x="64.4" y="2237.42" width="529.8" height="42.8" fill="#45145c"/>
<path d="M72.74 2237.42h4.63v42.8h-4.63zM89.6 2237.42h5.46v42.8h-5.46zM139.39 2237.42h5.62v42.8h-5.62zM139.54 2237.42h4.72v42.8h-4.72zM152.8 2237.42h7.61v42.8h-7.61zM172.8 2237.42h8.88v42.8h-8.88zM175.2 2237.42h7.92v42.8h-7.92zM188.99 2237.42h10.29v42.8h-10.29zM223.64 2237.42h9.76v42.8h-9.76zM231.98 2237.42h7.7v42.8h-7.7zM255.27 2237.42h10.62v42.8h-10.62zM265.48 2237.42h10.61v42.8h-10.61zM283.3 2237.42h5.48v42.8h-5.48zM299.93 2237.42h7.19v42.8h-7.19zM538.13 2237.42h4.5v42.8h-4.5zM546.02 2237.42h10.83v42.8h-10.83z" fill="#6a4aa0" fill-opacity="0.08"/>
<path d="M66.95 2237.42h4v42.8h-4zM118.13 2237.42h6.64v42.8h-6.64zM149.88 2237.42h6.27v42.8h-6.27zM159.06 2237.42h3.92v42.8h-3.92zM182.86 2237.42h5.73v42.8h-5.73zM186.91 2237.42h13.53v42.8h-13.53zM192.69 2237.42h13.23v42.8h-13.23zM285.97 2237.42h8.12v42.8h-8.12zM316.76 2237.42h3.54v42.8h-3.54zM332.17 2237.42h5.2v42.8h-5.2zM344.28 2237.42h13.78v42.8h-13.78zM344.85 2237.42h13.15v42.8h-13.15zM378.07 2237.42h5.6v42.8h-5.6zM450.75 2237.42h8.47v42.8h-8.47zM480.51 2237.42h4.62v42.8h-4.62zM506.29 2237.42h8.19v42.8h-8.19zM543.92 2237.42h12.49v42.8h-12.49z" fill="#25003a" fill-opacity="0.1"/>
<path d="M82.73 2237.42h1.06v42.8h-1.06zM122.15 2237.42h1.01v42.8h-1.01zM145.99 2237.42h2.1v42.8h-2.1zM159.39 2237.42h1.33v42.8h-1.33zM164.75 2237.42h1.12v42.8h-1.12zM168.25 2237.42h2.05v42.8h-2.05zM191.54 2237.42h2.02v42.8h-2.02zM207.68 2237.42h1.52v42.8h-1.52zM216.61 2237.42h1.81v42.8h-1.81zM255.74 2237.42h2.08v42.8h-2.08zM263.51 2237.42h1.17v42.8h-1.17zM287.54 2237.42h1.22v42.8h-1.22zM296.51 2237.42h1.83v42.8h-1.83zM298.13 2237.42h1.97v42.8h-1.97zM311.54 2237.42h2.1v42.8h-2.1zM354.25 2237.42h1.86v42.8h-1.86zM365.51 2237.42h2.1v42.8h-2.1zM367.97 2237.42h1.34v42.8h-1.34zM373.86 2237.42h1.1v42.8h-1.1zM381.91 2237.42h1.76v42.8h-1.76zM421.47 2237.42h1.44v42.8h-1.44zM466.55 2237.42h1.36v42.8h-1.36zM473.5 2237.42h1.71v42.8h-1.71zM488.58 2237.42h1.31v42.8h-1.31zM493.67 2237.42h1.28v42.8h-1.28zM525.08 2237.42h1.82v42.8h-1.82zM547.59 2237.42h1.86v42.8h-1.86zM557.3 2237.42h1.62v42.8h-1.62zM559.74 2237.42h2.19v42.8h-2.19zM568.84 2237.42h1.78v42.8h-1.78z" fill="#6a52a8" fill-opacity="0.12"/>
<path d="M210.58 2237.42h1.21v42.8h-1.21zM418.53 2237.42h1.34v42.8h-1.34zM476.54 2237.42h2.11v42.8h-2.11zM499.18 2237.42h1.58v42.8h-1.58zM529.36 2237.42h1.97v42.8h-1.97z" fill="#6f62b8" fill-opacity="0.18"/>
<path class="sb" d="M2.6 2293.26H35.2V2339.66H2.6"/>
<text class="st" transform="translate(25.9 2317.06) rotate(-90) scale(0.93 1)">chr5A</text>
<rect x="64.4" y="2295.16" width="521.6" height="42.8" fill="#45145c"/>
<path d="M97.78 2295.16h12.06v42.8h-12.06zM99.63 2295.16h11.7v42.8h-11.7zM101.48 2295.16h6.9v42.8h-6.9zM111.75 2295.16h4.65v42.8h-4.65zM151.8 2295.16h10.24v42.8h-10.24zM166.27 2295.16h4.84v42.8h-4.84zM170.98 2295.16h3.72v42.8h-3.72zM237.77 2295.16h3.7v42.8h-3.7zM255.44 2295.16h8.37v42.8h-8.37zM286.12 2295.16h3.28v42.8h-3.28zM411.57 2295.16h5.75v42.8h-5.75zM449.05 2295.16h13.8v42.8h-13.8zM492.83 2295.16h7.86v42.8h-7.86zM498.63 2295.16h8.97v42.8h-8.97zM498.65 2295.16h3.98v42.8h-3.98zM537.61 2295.16h13.69v42.8h-13.69zM556.65 2295.16h12.45v42.8h-12.45z" fill="#6a4aa0" fill-opacity="0.08"/>
<path d="M105.27 2295.16h4.96v42.8h-4.96zM223.56 2295.16h6.24v42.8h-6.24zM235.51 2295.16h4.82v42.8h-4.82zM241.07 2295.16h4.29v42.8h-4.29zM291.87 2295.16h12.45v42.8h-12.45zM299.95 2295.16h3.52v42.8h-3.52zM326.08 2295.16h5.25v42.8h-5.25zM351.14 2295.16h8.17v42.8h-8.17zM368.62 2295.16h4.83v42.8h-4.83zM402.72 2295.16h5.21v42.8h-5.21zM406.3 2295.16h10.14v42.8h-10.14zM417.98 2295.16h5.22v42.8h-5.22zM428.15 2295.16h11.14v42.8h-11.14zM428.46 2295.16h3.56v42.8h-3.56zM537.95 2295.16h4.95v42.8h-4.95z" fill="#25003a" fill-opacity="0.1"/>
<path d="M71.19 2295.16h1.58v42.8h-1.58zM72.32 2295.16h1.55v42.8h-1.55zM133.42 2295.16h1.14v42.8h-1.14zM140.98 2295.16h2.06v42.8h-2.06zM151.43 2295.16h1.02v42.8h-1.02zM151.6 2295.16h1.96v42.8h-1.96zM163.06 2295.16h1.49v42.8h-1.49zM197.79 2295.16h1.01v42.8h-1.01zM214.34 2295.16h2.07v42.8h-2.07zM233.32 2295.16h1.06v42.8h-1.06zM250.21 2295.16h2.09v42.8h-2.09zM263.63 2295.16h1.49v42.8h-1.49zM280.51 2295.16h1.43v42.8h-1.43zM286.54 2295.16h1.26v42.8h-1.26zM287.6 2295.16h2.13v42.8h-2.13zM301.67 2295.16h2.13v42.8h-2.13zM305.45 2295.16h1.33v42.8h-1.33zM310.86 2295.16h1.6v42.8h-1.6zM320.53 2295.16h1.64v42.8h-1.64zM369.51 2295.16h2.2v42.8h-2.2zM376.34 2295.16h1.12v42.8h-1.12zM420.71 2295.16h1.96v42.8h-1.96zM431.84 2295.16h1.71v42.8h-1.71zM433.26 2295.16h1.64v42.8h-1.64zM487.35 2295.16h1.27v42.8h-1.27zM499.47 2295.16h1.83v42.8h-1.83zM504.25 2295.16h2.17v42.8h-2.17zM545.18 2295.16h1.58v42.8h-1.58zM559.7 2295.16h1.27v42.8h-1.27z" fill="#6a52a8" fill-opacity="0.12"/>
<path d="M83.75 2295.16h1.02v42.8h-1.02zM225.81 2295.16h1.7v42.8h-1.7zM288.29 2295.16h1.5v42.8h-1.5zM327.68 2295.16h2.12v42.8h-2.12zM395.56 2295.16h1.6v42.8h-1.6z" fill="#6f62b8" fill-opacity="0.18"/>
<rect x="442.9" y="2295.16" width="3.9" height="42.8" fill="#4a4a8c"/>
<path class="sb" d="M2.6 2351H35.2V2397.4H2.6"/>
<text class="st" transform="translate(25.9 2374.8) rotate(-90) scale(0.93 1)">chr6A</text>
<rect x="64.4" y="2352.9" width="453.1" height="42.8" fill="#45145c"/>
<path d="M120.44 2352.9h5.27v42.8h-5.27zM127.03 2352.9h11.36v42.8h-11.36zM159.23 2352.9h5.93v42.8h-5.93zM190.95 2352.9h6.48v42.8h-6.48zM210.49 2352.9h4.69v42.8h-4.69zM271.31 2352.9h3.19v42.8h-3.19zM286.55 2352.9h5.21v42.8h-5.21zM295.21 2352.9h3.7v42.8h-3.7zM338.71 2352.9h9.31v42.8h-9.31zM369.73 2352.9h8.75v42.8h-8.75zM369.8 2352.9h6.47v42.8h-6.47zM394.62 2352.9h7.51v42.8h-7.51zM397.03 2352.9h6.75v42.8h-6.75zM419.76 2352.9h7.17v42.8h-7.17zM444.02 2352.9h8.02v42.8h-8.02zM466.04 2352.9h8.6v42.8h-8.6z" fill="#6a4aa0" fill-opacity="0.08"/>
<path d="M108.19 2352.9h14v42.8h-14zM120 2352.9h8.98v42.8h-8.98zM145.24 2352.9h13.3v42.8h-13.3zM197.53 2352.9h10.01v42.8h-10.01zM203.47 2352.9h12.89v42.8h-12.89zM235.91 2352.9h10.31v42.8h-10.31zM241.05 2352.9h10.83v42.8h-10.83zM337.94 2352.9h10.12v42.8h-10.12zM399.61 2352.9h4.27v42.8h-4.27zM416.59 2352.9h5.31v42.8h-5.31zM501.59 2352.9h3.42v42.8h-3.42zM506.4 2352.9h4.9v42.8h-4.9z" fill="#25003a" fill-opacity="0.1"/>
<path d="M66.18 2352.9h1.58v42.8h-1.58zM87.13 2352.9h1.08v42.8h-1.08zM110.39 2352.9h1.74v42.8h-1.74zM113.31 2352.9h1.37v42.8h-1.37zM133.58 2352.9h1.92v42.8h-1.92zM167.81 2352.9h1.63v42.8h-1.63zM209.43 2352.9h1.23v42.8h-1.23zM214.94 2352.9h2.07v42.8h-2.07zM237.77 2352.9h1.22v42.8h-1.22zM253.5 2352.9h1.84v42.8h-1.84zM266.62 2352.9h1.56v42.8h-1.56zM275.08 2352.9h1.84v42.8h-1.84zM278.72 2352.9h1.14v42.8h-1.14zM282.07 2352.9h2.13v42.8h-2.13zM287.48 2352.9h1.13v42.8h-1.13zM298.56 2352.9h1.04v42.8h-1.04zM315.75 2352.9h1.73v42.8h-1.73zM336.11 2352.9h2.07v42.8h-2.07zM337.97 2352.9h1.14v42.8h-1.14zM348.81 2352.9h2.11v42.8h-2.11zM366.13 2352.9h1.93v42.8h-1.93zM368.14 2352.9h1.38v42.8h-1.38zM388.37 2352.9h1.41v42.8h-1.41zM396.23 2352.9h1.42v42.8h-1.42zM410.02 2352.9h1.67v42.8h-1.67zM502.05 2352.9h1.27v42.8h-1.27z" fill="#6a52a8" fill-opacity="0.12"/>
<path d="M123.26 2352.9h1.76v42.8h-1.76zM210.06 2352.9h1.69v42.8h-1.69zM335.7 2352.9h1.78v42.8h-1.78zM509.16 2352.9h1.96v42.8h-1.96z" fill="#6f62b8" fill-opacity="0.18"/>
<rect x="76.1" y="2352.9" width="2.4" height="42.8" fill="#5a9ac0"/>
<rect x="510.3" y="2352.9" width="4" height="42.8" fill="#3f6a9c"/>
<rect x="514.3" y="2352.9" width="3.2" height="42.8" fill="#2a6a80"/>
<rect x="135.8" y="2352.9" width="1.5" height="42.8" fill="#503c7c"/>
<path class="sb" d="M2.6 2408.74H35.2V2455.14H2.6"/>
<text class="st" transform="translate(25.9 2432.54) rotate(-90) scale(0.93 1)">chr7A</text>
<rect x="64.4" y="2410.64" width="537.7" height="42.8" fill="#45145c"/>
<path d="M70.62 2410.64h6.94v42.8h-6.94zM79.96 2410.64h12.13v42.8h-12.13zM83.88 2410.64h10.61v42.8h-10.61zM105 2410.64h4.75v42.8h-4.75zM113.02 2410.64h5.05v42.8h-5.05zM163.64 2410.64h8.77v42.8h-8.77zM300.64 2410.64h8.26v42.8h-8.26zM326.26 2410.64h11.43v42.8h-11.43zM343.15 2410.64h4.66v42.8h-4.66zM344.27 2410.64h6.29v42.8h-6.29zM355.67 2410.64h3.12v42.8h-3.12zM374.59 2410.64h8.16v42.8h-8.16zM401.7 2410.64h9.15v42.8h-9.15zM407.33 2410.64h13.81v42.8h-13.81zM421.4 2410.64h12.02v42.8h-12.02zM517.81 2410.64h7.19v42.8h-7.19zM570.5 2410.64h13.1v42.8h-13.1zM572.88 2410.64h3.31v42.8h-3.31zM584.62 2410.64h12.25v42.8h-12.25z" fill="#6a4aa0" fill-opacity="0.08"/>
<path d="M75.27 2410.64h12.9v42.8h-12.9zM101.27 2410.64h10.5v42.8h-10.5zM174.58 2410.64h12.14v42.8h-12.14zM175.38 2410.64h12.7v42.8h-12.7zM225.59 2410.64h3.87v42.8h-3.87zM235.93 2410.64h11.68v42.8h-11.68zM249.96 2410.64h4.16v42.8h-4.16zM266.77 2410.64h11.72v42.8h-11.72zM318.34 2410.64h4.4v42.8h-4.4zM361.9 2410.64h13.09v42.8h-13.09zM399.61 2410.64h13.95v42.8h-13.95zM450.89 2410.64h5.84v42.8h-5.84zM555.25 2410.64h3.83v42.8h-3.83zM588.38 2410.64h11.31v42.8h-11.31z" fill="#25003a" fill-opacity="0.1"/>
<path d="M69.37 2410.64h1.52v42.8h-1.52zM100.23 2410.64h1.68v42.8h-1.68zM126.96 2410.64h1.53v42.8h-1.53zM129.35 2410.64h2.19v42.8h-2.19zM166.35 2410.64h1.73v42.8h-1.73zM185.61 2410.64h1.44v42.8h-1.44zM185.91 2410.64h1.71v42.8h-1.71zM205.62 2410.64h1.43v42.8h-1.43zM225.08 2410.64h1.12v42.8h-1.12zM252.28 2410.64h1.46v42.8h-1.46zM252.38 2410.64h1.78v42.8h-1.78zM259.53 2410.64h1.01v42.8h-1.01zM264.25 2410.64h1.85v42.8h-1.85zM300.88 2410.64h1.54v42.8h-1.54zM323.33 2410.64h1.39v42.8h-1.39zM325.12 2410.64h1.71v42.8h-1.71zM347.71 2410.64h2.2v42.8h-2.2zM350.94 2410.64h1.36v42.8h-1.36zM377.87 2410.64h1.88v42.8h-1.88zM412.77 2410.64h1.23v42.8h-1.23zM419.73 2410.64h1.76v42.8h-1.76zM435.28 2410.64h1.54v42.8h-1.54zM466.05 2410.64h1.62v42.8h-1.62zM536.65 2410.64h1.29v42.8h-1.29zM538.96 2410.64h1.16v42.8h-1.16zM541.27 2410.64h2.12v42.8h-2.12zM554.34 2410.64h2.06v42.8h-2.06zM560.66 2410.64h1.76v42.8h-1.76zM564.09 2410.64h1.86v42.8h-1.86zM587.81 2410.64h1.16v42.8h-1.16zM591.88 2410.64h1.66v42.8h-1.66z" fill="#6a52a8" fill-opacity="0.12"/>
<path d="M115.67 2410.64h2.07v42.8h-2.07zM123.16 2410.64h1.43v42.8h-1.43zM243.24 2410.64h2.06v42.8h-2.06zM399.98 2410.64h1.35v42.8h-1.35z" fill="#6f62b8" fill-opacity="0.18"/>
<rect x="599.7" y="2410.64" width="1.5" height="42.8" fill="#503c7c"/>
<text class="tk" transform="translate(64.9 2484.34) scale(0.945 1)">0</text>
<text class="tk" transform="translate(138 2484.34) scale(0.945 1)">100</text>
<text class="tk" transform="translate(211.1 2484.34) scale(0.945 1)">200</text>
<text class="tk" transform="translate(284.2 2484.34) scale(0.945 1)">300</text>
<text class="tk" transform="translate(357.3 2484.34) scale(0.945 1)">400</text>
<text class="tk" transform="translate(430.4 2484.34) scale(0.945 1)">500</text>
<text class="tk" transform="translate(503.5 2484.34) scale(0.945 1)">600</text>
<text class="tk" transform="translate(576.6 2484.34) scale(0.945 1)">700</text>
<path class="tm" d="M64.9 2455.64v5M138 2455.64v5M211.1 2455.64v5M284.2 2455.64v5M357.3 2455.64v5M430.4 2455.64v5M503.5 2455.64v5M576.6 2455.64v5"/>
<text class="ax" x="350.45" y="2512.74">Position (Mb)</text>
</g>
<g>
<text class="t" x="1019.75" y="2053.3" font-size="31.9" text-anchor="middle">CDC Stanley</text>
<path class="sb" d="M735.6 2062.3H767.6V2108.7H735.6"/>
<text class="st" transform="translate(758.9 2086.1) rotate(-90) scale(0.93 1)">chr1A</text>
<rect x="796.5" y="2064.2" width="415" height="42.8" fill="#45145c"/>
<path d="M799.27 2064.2h12.05v42.8h-12.05zM829.73 2064.2h4.81v42.8h-4.81zM846.45 2064.2h10.75v42.8h-10.75zM874.34 2064.2h10.17v42.8h-10.17zM877.1 2064.2h11.99v42.8h-11.99zM879.44 2064.2h8.08v42.8h-8.08zM880.29 2064.2h4.65v42.8h-4.65zM911.72 2064.2h12.29v42.8h-12.29zM922.07 2064.2h12.66v42.8h-12.66zM988.01 2064.2h6.66v42.8h-6.66zM1100.98 2064.2h5.28v42.8h-5.28zM1101 2064.2h8.64v42.8h-8.64zM1103.46 2064.2h7.33v42.8h-7.33zM1154.1 2064.2h3.96v42.8h-3.96zM1189.24 2064.2h12.28v42.8h-12.28zM1193.07 2064.2h6.45v42.8h-6.45z" fill="#6a4aa0" fill-opacity="0.08"/>
<path d="M835.1 2064.2h9.56v42.8h-9.56zM860.8 2064.2h8.58v42.8h-8.58zM871.81 2064.2h4.92v42.8h-4.92zM898.72 2064.2h6.73v42.8h-6.73zM955.3 2064.2h4v42.8h-4zM956.51 2064.2h13.75v42.8h-13.75zM1003.23 2064.2h10.99v42.8h-10.99zM1168.87 2064.2h6.29v42.8h-6.29zM1193.12 2064.2h3.36v42.8h-3.36z" fill="#25003a" fill-opacity="0.1"/>
<path d="M827.7 2064.2h1.37v42.8h-1.37zM846.29 2064.2h1.4v42.8h-1.4zM870.73 2064.2h1.51v42.8h-1.51zM880.17 2064.2h2.17v42.8h-2.17zM881.81 2064.2h1.76v42.8h-1.76zM953.02 2064.2h1.12v42.8h-1.12zM961.74 2064.2h1.65v42.8h-1.65zM996.12 2064.2h1.07v42.8h-1.07zM1002.87 2064.2h1.6v42.8h-1.6zM1023.69 2064.2h1.92v42.8h-1.92zM1025.04 2064.2h1.23v42.8h-1.23zM1068.16 2064.2h1.08v42.8h-1.08zM1096.52 2064.2h1.93v42.8h-1.93zM1102.04 2064.2h1.17v42.8h-1.17zM1112.35 2064.2h1.6v42.8h-1.6zM1117.84 2064.2h2.1v42.8h-2.1zM1170.08 2064.2h2.04v42.8h-2.04zM1190.13 2064.2h1.53v42.8h-1.53zM1203.92 2064.2h1.69v42.8h-1.69z" fill="#6a52a8" fill-opacity="0.12"/>
<path d="M803.13 2064.2h1.84v42.8h-1.84zM980.39 2064.2h1.51v42.8h-1.51zM1036.89 2064.2h1.51v42.8h-1.51zM1036.92 2064.2h1.15v42.8h-1.15zM1089.18 2064.2h1.08v42.8h-1.08zM1100.04 2064.2h2.19v42.8h-2.19zM1142.99 2064.2h2.13v42.8h-2.13zM1167.87 2064.2h1.21v42.8h-1.21z" fill="#6f62b8" fill-opacity="0.18"/>
<path class="sb" d="M735.6 2120.04H767.6V2166.44H735.6"/>
<text class="st" transform="translate(758.9 2143.84) rotate(-90) scale(0.93 1)">chr2A</text>
<rect x="796.5" y="2121.94" width="563.7" height="42.8" fill="#45145c"/>
<path d="M817.81 2121.94h13.94v42.8h-13.94zM853.33 2121.94h3.76v42.8h-3.76zM889.61 2121.94h7.73v42.8h-7.73zM922.6 2121.94h7.69v42.8h-7.69zM958.94 2121.94h10.58v42.8h-10.58zM1042.66 2121.94h5.5v42.8h-5.5zM1091.03 2121.94h9.04v42.8h-9.04zM1119.73 2121.94h6.56v42.8h-6.56zM1165.76 2121.94h3.58v42.8h-3.58zM1190.74 2121.94h12.13v42.8h-12.13zM1193.63 2121.94h6.56v42.8h-6.56zM1195.35 2121.94h11.24v42.8h-11.24zM1219.03 2121.94h5.17v42.8h-5.17zM1264.35 2121.94h3.71v42.8h-3.71zM1271.39 2121.94h5.74v42.8h-5.74zM1271.6 2121.94h4.85v42.8h-4.85zM1285.97 2121.94h8.97v42.8h-8.97zM1309.18 2121.94h9.56v42.8h-9.56zM1318.69 2121.94h7.06v42.8h-7.06z" fill="#6a4aa0" fill-opacity="0.08"/>
<path d="M807.14 2121.94h13.32v42.8h-13.32zM877.67 2121.94h13.1v42.8h-13.1zM880.44 2121.94h12.62v42.8h-12.62zM917.25 2121.94h8.18v42.8h-8.18zM927.37 2121.94h4.01v42.8h-4.01zM1008.77 2121.94h6.32v42.8h-6.32zM1082.61 2121.94h3.24v42.8h-3.24zM1109.74 2121.94h13.93v42.8h-13.93zM1137.27 2121.94h11.88v42.8h-11.88zM1191.3 2121.94h8.82v42.8h-8.82zM1220.34 2121.94h11.41v42.8h-11.41zM1244.52 2121.94h12.3v42.8h-12.3zM1257.7 2121.94h11.1v42.8h-11.1zM1267.73 2121.94h10.12v42.8h-10.12zM1345.18 2121.94h9.16v42.8h-9.16zM1352.9 2121.94h5.76v42.8h-5.76z" fill="#25003a" fill-opacity="0.1"/>
<path d="M826.33 2121.94h1.59v42.8h-1.59zM839.11 2121.94h1.85v42.8h-1.85zM851.57 2121.94h1.88v42.8h-1.88zM859.51 2121.94h1.02v42.8h-1.02zM869.18 2121.94h1.64v42.8h-1.64zM875.85 2121.94h1.33v42.8h-1.33zM887.8 2121.94h1.6v42.8h-1.6zM903.22 2121.94h1.6v42.8h-1.6zM939.69 2121.94h1.7v42.8h-1.7zM981.62 2121.94h1.74v42.8h-1.74zM997.52 2121.94h1.9v42.8h-1.9zM1020.01 2121.94h1.48v42.8h-1.48zM1038.79 2121.94h1.62v42.8h-1.62zM1041.33 2121.94h2.16v42.8h-2.16zM1057.69 2121.94h1.35v42.8h-1.35zM1068.79 2121.94h1.33v42.8h-1.33zM1090.4 2121.94h2.02v42.8h-2.02zM1116.83 2121.94h1.67v42.8h-1.67zM1144.5 2121.94h2.11v42.8h-2.11zM1151.5 2121.94h1.77v42.8h-1.77zM1164.63 2121.94h1.8v42.8h-1.8zM1170.83 2121.94h1.67v42.8h-1.67zM1174.41 2121.94h1.98v42.8h-1.98zM1212.3 2121.94h2.19v42.8h-2.19zM1219.71 2121.94h1.86v42.8h-1.86zM1237.34 2121.94h1.96v42.8h-1.96zM1258.41 2121.94h1.98v42.8h-1.98zM1340.63 2121.94h1.35v42.8h-1.35zM1350.97 2121.94h1.19v42.8h-1.19z" fill="#6a52a8" fill-opacity="0.12"/>
<path d="M820.41 2121.94h1.86v42.8h-1.86zM963.37 2121.94h1.29v42.8h-1.29zM1034.44 2121.94h1.65v42.8h-1.65zM1097.22 2121.94h1.64v42.8h-1.64zM1125.82 2121.94h1.96v42.8h-1.96zM1272.23 2121.94h1.75v42.8h-1.75zM1317.48 2121.94h2.07v42.8h-2.07zM1319.86 2121.94h1.19v42.8h-1.19z" fill="#6f62b8" fill-opacity="0.18"/>
<rect x="824" y="2121.94" width="1.5" height="42.8" fill="#503c7c"/>
<rect x="1342.2" y="2121.94" width="1.6" height="42.8" fill="#70b8a0"/>
<path class="sb" d="M735.6 2177.78H767.6V2224.18H735.6"/>
<text class="st" transform="translate(758.9 2201.58) rotate(-90) scale(0.93 1)">chr3A</text>
<rect x="796.5" y="2179.68" width="532.7" height="42.8" fill="#45145c"/>
<path d="M801.49 2179.68h4.18v42.8h-4.18zM805.32 2179.68h3.64v42.8h-3.64zM821.46 2179.68h4.65v42.8h-4.65zM824.74 2179.68h8.4v42.8h-8.4zM864.08 2179.68h10.19v42.8h-10.19zM869.16 2179.68h13.02v42.8h-13.02zM877.13 2179.68h4.54v42.8h-4.54zM907.49 2179.68h5.07v42.8h-5.07zM917.03 2179.68h5.28v42.8h-5.28zM934.77 2179.68h13.88v42.8h-13.88zM952.6 2179.68h13.28v42.8h-13.28zM999.17 2179.68h5.07v42.8h-5.07zM1039.66 2179.68h9.36v42.8h-9.36zM1085.54 2179.68h3.7v42.8h-3.7zM1109.7 2179.68h7.21v42.8h-7.21zM1118.22 2179.68h5.04v42.8h-5.04zM1130.71 2179.68h4.15v42.8h-4.15zM1144.63 2179.68h3.82v42.8h-3.82zM1178.62 2179.68h5.94v42.8h-5.94zM1186.75 2179.68h8.14v42.8h-8.14zM1192.73 2179.68h3.76v42.8h-3.76zM1195.33 2179.68h13.39v42.8h-13.39zM1201.46 2179.68h13.1v42.8h-13.1zM1261.93 2179.68h9.58v42.8h-9.58zM1269.81 2179.68h11.04v42.8h-11.04zM1318.4 2179.68h10.27v42.8h-10.27zM1321.64 2179.68h3.69v42.8h-3.69z" fill="#6a4aa0" fill-opacity="0.08"/>
<path d="M897.55 2179.68h6.54v42.8h-6.54zM997.93 2179.68h9.43v42.8h-9.43zM1058.71 2179.68h7.44v42.8h-7.44zM1149.85 2179.68h4.28v42.8h-4.28zM1151.31 2179.68h6.13v42.8h-6.13zM1154.67 2179.68h4.54v42.8h-4.54z" fill="#25003a" fill-opacity="0.1"/>
<path d="M797.64 2179.68h1.78v42.8h-1.78zM827.63 2179.68h1.96v42.8h-1.96zM854.41 2179.68h1.8v42.8h-1.8zM870.89 2179.68h1.54v42.8h-1.54zM898.07 2179.68h1.77v42.8h-1.77zM904.26 2179.68h1.98v42.8h-1.98zM955.32 2179.68h1.8v42.8h-1.8zM958.85 2179.68h1.19v42.8h-1.19zM977.64 2179.68h1.69v42.8h-1.69zM992.85 2179.68h1.09v42.8h-1.09zM995.12 2179.68h1.16v42.8h-1.16zM1001.72 2179.68h2.16v42.8h-2.16zM1019.5 2179.68h1.78v42.8h-1.78zM1037.5 2179.68h2.18v42.8h-2.18zM1043.56 2179.68h2.17v42.8h-2.17zM1048.82 2179.68h2.05v42.8h-2.05zM1054.36 2179.68h2.07v42.8h-2.07zM1063.75 2179.68h1.8v42.8h-1.8zM1093.65 2179.68h1.23v42.8h-1.23zM1113.55 2179.68h1.66v42.8h-1.66zM1158.63 2179.68h1.75v42.8h-1.75zM1247.65 2179.68h1.99v42.8h-1.99zM1256.75 2179.68h1.58v42.8h-1.58zM1270.69 2179.68h1.66v42.8h-1.66zM1323.35 2179.68h1.82v42.8h-1.82z" fill="#6a52a8" fill-opacity="0.12"/>
<path d="M814.92 2179.68h1.49v42.8h-1.49zM989.13 2179.68h1.96v42.8h-1.96zM1015.68 2179.68h1.05v42.8h-1.05zM1023.3 2179.68h1.77v42.8h-1.77zM1101.93 2179.68h1.3v42.8h-1.3zM1145.65 2179.68h1.82v42.8h-1.82zM1150.89 2179.68h1.29v42.8h-1.29zM1183.67 2179.68h1.63v42.8h-1.63zM1284.53 2179.68h1.16v42.8h-1.16zM1324.54 2179.68h1.91v42.8h-1.91z" fill="#6f62b8" fill-opacity="0.18"/>
<rect x="801.3" y="2179.68" width="4.6" height="42.8" fill="#3a90a8"/>
<rect x="1238" y="2179.68" width="1.5" height="42.8" fill="#503c7c"/>
<path class="sb" d="M735.6 2235.52H767.6V2281.92H735.6"/>
<text class="st" transform="translate(758.9 2259.32) rotate(-90) scale(0.93 1)">chr4A</text>
<rect x="796.5" y="2237.42" width="529.5" height="42.8" fill="#45145c"/>
<path d="M800.69 2237.42h9.79v42.8h-9.79zM820.37 2237.42h8.34v42.8h-8.34zM885.85 2237.42h12.9v42.8h-12.9zM898.24 2237.42h3.18v42.8h-3.18zM930.48 2237.42h4.61v42.8h-4.61zM951.72 2237.42h12.89v42.8h-12.89zM952.62 2237.42h9.77v42.8h-9.77zM961.11 2237.42h6.68v42.8h-6.68zM981.83 2237.42h4.82v42.8h-4.82zM1099.11 2237.42h7.55v42.8h-7.55zM1108.12 2237.42h11.03v42.8h-11.03zM1141.51 2237.42h12v42.8h-12zM1143.46 2237.42h12.2v42.8h-12.2zM1150.23 2237.42h10.27v42.8h-10.27zM1159.87 2237.42h3.28v42.8h-3.28zM1160.74 2237.42h12.88v42.8h-12.88zM1165.18 2237.42h7.98v42.8h-7.98zM1219.99 2237.42h4.56v42.8h-4.56zM1227.36 2237.42h11.56v42.8h-11.56zM1238.36 2237.42h9.57v42.8h-9.57zM1286.71 2237.42h6.81v42.8h-6.81zM1298.48 2237.42h12.28v42.8h-12.28z" fill="#6a4aa0" fill-opacity="0.08"/>
<path d="M800.82 2237.42h13.23v42.8h-13.23zM803.1 2237.42h10.94v42.8h-10.94zM893.36 2237.42h3.52v42.8h-3.52zM899.51 2237.42h9.98v42.8h-9.98zM938.16 2237.42h8.93v42.8h-8.93zM1013.75 2237.42h11.29v42.8h-11.29zM1055.98 2237.42h4.28v42.8h-4.28zM1164.82 2237.42h5.83v42.8h-5.83zM1190.45 2237.42h9.91v42.8h-9.91zM1200.33 2237.42h13.1v42.8h-13.1zM1309.9 2237.42h7.89v42.8h-7.89z" fill="#25003a" fill-opacity="0.1"/>
<path d="M809.74 2237.42h1.7v42.8h-1.7zM813.14 2237.42h1.25v42.8h-1.25zM825.7 2237.42h1.83v42.8h-1.83zM871.1 2237.42h1.28v42.8h-1.28zM882.38 2237.42h1.06v42.8h-1.06zM892.48 2237.42h1.86v42.8h-1.86zM931.32 2237.42h1.19v42.8h-1.19zM955.77 2237.42h1.07v42.8h-1.07zM957.33 2237.42h1.3v42.8h-1.3zM959.22 2237.42h1.69v42.8h-1.69zM965.26 2237.42h1.16v42.8h-1.16zM969.46 2237.42h1.27v42.8h-1.27zM1017.65 2237.42h1.1v42.8h-1.1zM1045.61 2237.42h2.01v42.8h-2.01zM1047.44 2237.42h2.14v42.8h-2.14zM1066.4 2237.42h1.52v42.8h-1.52zM1073.66 2237.42h1.11v42.8h-1.11zM1082.98 2237.42h1.87v42.8h-1.87zM1094.73 2237.42h2.04v42.8h-2.04zM1100.75 2237.42h2.15v42.8h-2.15zM1133.01 2237.42h1.92v42.8h-1.92zM1141.57 2237.42h1.23v42.8h-1.23zM1176.47 2237.42h1.84v42.8h-1.84zM1182.18 2237.42h1.97v42.8h-1.97zM1192.71 2237.42h1.35v42.8h-1.35zM1203.77 2237.42h1.97v42.8h-1.97zM1215.7 2237.42h2.07v42.8h-2.07zM1245.33 2237.42h1.61v42.8h-1.61zM1247.97 2237.42h1.35v42.8h-1.35zM1250.51 2237.42h1.01v42.8h-1.01zM1315.81 2237.42h1.73v42.8h-1.73z" fill="#6a52a8" fill-opacity="0.12"/>
<path d="M903.78 2237.42h1.83v42.8h-1.83zM1111.81 2237.42h1.08v42.8h-1.08zM1192.59 2237.42h1.2v42.8h-1.2zM1278.94 2237.42h2.13v42.8h-2.13z" fill="#6f62b8" fill-opacity="0.18"/>
<path class="sb" d="M735.6 2293.26H767.6V2339.66H735.6"/>
<text class="st" transform="translate(758.9 2317.06) rotate(-90) scale(0.93 1)">chr5A</text>
<rect x="796.5" y="2295.16" width="502" height="42.8" fill="#45145c"/>
<path d="M806.04 2295.16h12.7v42.8h-12.7zM809.19 2295.16h8.27v42.8h-8.27zM870.45 2295.16h8.43v42.8h-8.43zM883.59 2295.16h8.75v42.8h-8.75zM891.29 2295.16h4.16v42.8h-4.16zM923.86 2295.16h10.58v42.8h-10.58zM938.33 2295.16h5.11v42.8h-5.11zM940.86 2295.16h7.15v42.8h-7.15zM943.92 2295.16h3.64v42.8h-3.64zM992.35 2295.16h8.68v42.8h-8.68zM1002.23 2295.16h3.65v42.8h-3.65zM1084.5 2295.16h6.31v42.8h-6.31zM1106.94 2295.16h12.91v42.8h-12.91zM1115.03 2295.16h10.67v42.8h-10.67zM1116.31 2295.16h5.18v42.8h-5.18zM1126.04 2295.16h10.52v42.8h-10.52zM1129.1 2295.16h8.28v42.8h-8.28zM1163.81 2295.16h7.55v42.8h-7.55zM1166.36 2295.16h12.15v42.8h-12.15zM1218.79 2295.16h5.64v42.8h-5.64z" fill="#6a4aa0" fill-opacity="0.08"/>
<path d="M802.9 2295.16h6.75v42.8h-6.75zM849.65 2295.16h6.61v42.8h-6.61zM897.12 2295.16h5.65v42.8h-5.65zM910.23 2295.16h3.89v42.8h-3.89zM933.6 2295.16h9.56v42.8h-9.56zM952.23 2295.16h13.46v42.8h-13.46zM965.76 2295.16h11.08v42.8h-11.08zM981.85 2295.16h6v42.8h-6zM1186.71 2295.16h5.33v42.8h-5.33zM1189.73 2295.16h9.7v42.8h-9.7zM1279.38 2295.16h8.69v42.8h-8.69z" fill="#25003a" fill-opacity="0.1"/>
<path d="M840.39 2295.16h1.34v42.8h-1.34zM856.9 2295.16h1.79v42.8h-1.79zM861.95 2295.16h1.86v42.8h-1.86zM869.77 2295.16h1.84v42.8h-1.84zM873.22 2295.16h1.36v42.8h-1.36zM899.19 2295.16h1.31v42.8h-1.31zM911 2295.16h2.14v42.8h-2.14zM946.05 2295.16h1.16v42.8h-1.16zM965.35 2295.16h1.98v42.8h-1.98zM987.02 2295.16h2.14v42.8h-2.14zM1011.32 2295.16h1.84v42.8h-1.84zM1017.2 2295.16h1.52v42.8h-1.52zM1021.94 2295.16h1.26v42.8h-1.26zM1033.74 2295.16h1.85v42.8h-1.85zM1034.46 2295.16h1.41v42.8h-1.41zM1054.14 2295.16h2.09v42.8h-2.09zM1058.35 2295.16h1.95v42.8h-1.95zM1071.07 2295.16h1.33v42.8h-1.33zM1088.49 2295.16h1.22v42.8h-1.22zM1091.56 2295.16h2.17v42.8h-2.17zM1111.44 2295.16h1.44v42.8h-1.44zM1122.72 2295.16h1.38v42.8h-1.38zM1194.61 2295.16h1.19v42.8h-1.19zM1194.67 2295.16h1.82v42.8h-1.82zM1226.79 2295.16h1.74v42.8h-1.74zM1241.75 2295.16h1.6v42.8h-1.6zM1244 2295.16h2.03v42.8h-2.03zM1247.57 2295.16h2.19v42.8h-2.19zM1268.99 2295.16h2.05v42.8h-2.05zM1276.9 2295.16h1.72v42.8h-1.72zM1277 2295.16h2.2v42.8h-2.2zM1287.59 2295.16h1.97v42.8h-1.97z" fill="#6a52a8" fill-opacity="0.12"/>
<path d="M1091.32 2295.16h2.03v42.8h-2.03z" fill="#6f62b8" fill-opacity="0.18"/>
<rect x="1121.3" y="2295.16" width="4.2" height="42.8" fill="#5cc87a"/>
<rect x="1125.5" y="2295.16" width="2.5" height="42.8" fill="#2a9a88"/>
<rect x="1128" y="2295.16" width="3.9" height="42.8" fill="#50c080"/>
<rect x="1123.2" y="2295.16" width="0.8" height="42.8" fill="#2f9f80"/>
<rect x="1160" y="2295.16" width="2" height="42.8" fill="#4a4f90"/>
<path class="sb" d="M735.6 2351H767.6V2397.4H735.6"/>
<text class="st" transform="translate(758.9 2374.8) rotate(-90) scale(0.93 1)">chr6A</text>
<rect x="796.5" y="2352.9" width="438.8" height="42.8" fill="#45145c"/>
<path d="M809.8 2352.9h7.52v42.8h-7.52zM815.62 2352.9h10.91v42.8h-10.91zM843.93 2352.9h12.87v42.8h-12.87zM853.23 2352.9h4.53v42.8h-4.53zM905.13 2352.9h3.67v42.8h-3.67zM934.4 2352.9h6.45v42.8h-6.45zM972.99 2352.9h13.45v42.8h-13.45zM1029.71 2352.9h7.81v42.8h-7.81zM1037.71 2352.9h11.54v42.8h-11.54zM1052.21 2352.9h13.33v42.8h-13.33zM1055.3 2352.9h3.4v42.8h-3.4zM1061.19 2352.9h5.22v42.8h-5.22zM1097.11 2352.9h4.95v42.8h-4.95zM1129.39 2352.9h8.71v42.8h-8.71zM1134.98 2352.9h13.64v42.8h-13.64zM1164.62 2352.9h7.1v42.8h-7.1z" fill="#6a4aa0" fill-opacity="0.08"/>
<path d="M804.86 2352.9h10.15v42.8h-10.15zM810.98 2352.9h7.05v42.8h-7.05zM891.33 2352.9h10.43v42.8h-10.43zM892.38 2352.9h4.67v42.8h-4.67zM933.95 2352.9h6.86v42.8h-6.86zM946.97 2352.9h6.14v42.8h-6.14zM949.62 2352.9h9.78v42.8h-9.78zM995.78 2352.9h12.28v42.8h-12.28zM1154.7 2352.9h5.4v42.8h-5.4zM1170.16 2352.9h12.04v42.8h-12.04zM1176.45 2352.9h13.39v42.8h-13.39z" fill="#25003a" fill-opacity="0.1"/>
<path d="M817.27 2352.9h1.87v42.8h-1.87zM821.79 2352.9h2.04v42.8h-2.04zM836.28 2352.9h1.1v42.8h-1.1zM846.32 2352.9h1.8v42.8h-1.8zM874.51 2352.9h2.13v42.8h-2.13zM893.95 2352.9h2.2v42.8h-2.2zM897.04 2352.9h1.93v42.8h-1.93zM926.28 2352.9h2.15v42.8h-2.15zM973.63 2352.9h1.59v42.8h-1.59zM996.97 2352.9h1.17v42.8h-1.17zM999.95 2352.9h1.06v42.8h-1.06zM1010.83 2352.9h1.65v42.8h-1.65zM1021.37 2352.9h2.18v42.8h-2.18zM1040.49 2352.9h1.18v42.8h-1.18zM1088.18 2352.9h1.66v42.8h-1.66zM1088.6 2352.9h1.11v42.8h-1.11zM1099.53 2352.9h1.98v42.8h-1.98zM1135.36 2352.9h1.54v42.8h-1.54zM1156.49 2352.9h1.97v42.8h-1.97zM1183.92 2352.9h1.09v42.8h-1.09zM1208.81 2352.9h1.77v42.8h-1.77zM1211.23 2352.9h1.25v42.8h-1.25zM1223.96 2352.9h2.11v42.8h-2.11z" fill="#6a52a8" fill-opacity="0.12"/>
<path d="M884.39 2352.9h1.96v42.8h-1.96zM910.8 2352.9h1.71v42.8h-1.71zM930.12 2352.9h1.89v42.8h-1.89zM1113.72 2352.9h2.17v42.8h-2.17zM1127.39 2352.9h2.19v42.8h-2.19zM1194.57 2352.9h1.36v42.8h-1.36z" fill="#6f62b8" fill-opacity="0.18"/>
<rect x="813.2" y="2352.9" width="1.5" height="42.8" fill="#221f4a"/>
<rect x="814.7" y="2352.9" width="2" height="42.8" fill="#88d098"/>
<rect x="816.7" y="2352.9" width="3.3" height="42.8" fill="#3aa868"/>
<rect x="820" y="2352.9" width="2.2" height="42.8" fill="#80d098"/>
<rect x="1227.4" y="2352.9" width="7.9" height="42.8" fill="#2a9a88"/>
<rect x="1231.8" y="2352.9" width="1.2" height="42.8" fill="#80d880"/>
<rect x="1234.3" y="2352.9" width="1" height="42.8" fill="#c0d850"/>
<rect x="863.5" y="2352.9" width="1.5" height="42.8" fill="#503c7c"/>
<path class="sb" d="M735.6 2408.74H767.6V2455.14H735.6"/>
<text class="st" transform="translate(758.9 2432.54) rotate(-90) scale(0.93 1)">chr7A</text>
<rect x="796.5" y="2410.64" width="520.8" height="42.8" fill="#45145c"/>
<path d="M798.5 2410.64h3.4v42.8h-3.4zM803.83 2410.64h7.22v42.8h-7.22zM813.3 2410.64h10.82v42.8h-10.82zM917.31 2410.64h9.52v42.8h-9.52zM928.31 2410.64h12.69v42.8h-12.69zM939.86 2410.64h9.32v42.8h-9.32zM940.74 2410.64h8.98v42.8h-8.98zM942.8 2410.64h9.87v42.8h-9.87zM982.99 2410.64h7.5v42.8h-7.5zM1005.1 2410.64h9.39v42.8h-9.39zM1012.43 2410.64h11.7v42.8h-11.7zM1024.59 2410.64h13.67v42.8h-13.67zM1071.1 2410.64h5.65v42.8h-5.65zM1096.64 2410.64h4.42v42.8h-4.42zM1099.59 2410.64h11.3v42.8h-11.3zM1137.41 2410.64h11.88v42.8h-11.88zM1137.54 2410.64h8.99v42.8h-8.99zM1143.52 2410.64h5.4v42.8h-5.4zM1231.84 2410.64h6.64v42.8h-6.64zM1268.91 2410.64h7.78v42.8h-7.78zM1271.48 2410.64h13.89v42.8h-13.89zM1288.45 2410.64h8.75v42.8h-8.75zM1289.3 2410.64h11.54v42.8h-11.54zM1303.83 2410.64h3.95v42.8h-3.95zM1307.61 2410.64h6.65v42.8h-6.65z" fill="#6a4aa0" fill-opacity="0.08"/>
<path d="M914.86 2410.64h12.78v42.8h-12.78zM929.97 2410.64h10.66v42.8h-10.66zM931.12 2410.64h7.46v42.8h-7.46zM977.22 2410.64h8.08v42.8h-8.08zM984.56 2410.64h12.91v42.8h-12.91zM1159.59 2410.64h3.05v42.8h-3.05zM1275.61 2410.64h4.53v42.8h-4.53z" fill="#25003a" fill-opacity="0.1"/>
<path d="M801.3 2410.64h2.08v42.8h-2.08zM830.6 2410.64h1.01v42.8h-1.01zM837.75 2410.64h1.48v42.8h-1.48zM841.48 2410.64h1.86v42.8h-1.86zM841.67 2410.64h1.55v42.8h-1.55zM848.71 2410.64h1.75v42.8h-1.75zM861.21 2410.64h1.84v42.8h-1.84zM876.45 2410.64h1.84v42.8h-1.84zM895.81 2410.64h1.25v42.8h-1.25zM936.94 2410.64h1.87v42.8h-1.87zM966.64 2410.64h2.03v42.8h-2.03zM971.05 2410.64h1.43v42.8h-1.43zM1004.31 2410.64h1.11v42.8h-1.11zM1038.17 2410.64h1.1v42.8h-1.1zM1041.53 2410.64h1.49v42.8h-1.49zM1058.68 2410.64h1.73v42.8h-1.73zM1063.11 2410.64h1.01v42.8h-1.01zM1063.57 2410.64h1.98v42.8h-1.98zM1067.44 2410.64h1.22v42.8h-1.22zM1068.38 2410.64h1.38v42.8h-1.38zM1094.6 2410.64h1.63v42.8h-1.63zM1129.7 2410.64h1.27v42.8h-1.27zM1144.64 2410.64h1.58v42.8h-1.58zM1152.75 2410.64h1.69v42.8h-1.69zM1163.64 2410.64h1.84v42.8h-1.84zM1184 2410.64h1.27v42.8h-1.27zM1217.45 2410.64h1.1v42.8h-1.1zM1222.78 2410.64h2.05v42.8h-2.05zM1223.42 2410.64h2.12v42.8h-2.12zM1233.78 2410.64h1.15v42.8h-1.15zM1248.13 2410.64h1.21v42.8h-1.21zM1275.47 2410.64h1.37v42.8h-1.37z" fill="#6a52a8" fill-opacity="0.12"/>
<path d="M883.55 2410.64h1.65v42.8h-1.65zM1293.99 2410.64h2.2v42.8h-2.2z" fill="#6f62b8" fill-opacity="0.18"/>
<rect x="801.8" y="2410.64" width="1.2" height="42.8" fill="#5a70b0"/>
<rect x="808.5" y="2410.64" width="2.1" height="42.8" fill="#70b8a8"/>
<rect x="1236.9" y="2410.64" width="7.9" height="42.8" fill="#70d070"/>
<rect x="1236.9" y="2410.64" width="1.3" height="42.8" fill="#2a9a88"/>
<rect x="1243.5" y="2410.64" width="1.3" height="42.8" fill="#2a9a88"/>
<rect x="1303.2" y="2410.64" width="1.5" height="42.8" fill="#503c7c"/>
<text class="tk" transform="translate(797.3 2484.34) scale(0.945 1)">0</text>
<text class="tk" transform="translate(867.35 2484.34) scale(0.945 1)">100</text>
<text class="tk" transform="translate(937.4 2484.34) scale(0.945 1)">200</text>
<text class="tk" transform="translate(1007.45 2484.34) scale(0.945 1)">300</text>
<text class="tk" transform="translate(1077.5 2484.34) scale(0.945 1)">400</text>
<text class="tk" transform="translate(1147.55 2484.34) scale(0.945 1)">500</text>
<text class="tk" transform="translate(1217.6 2484.34) scale(0.945 1)">600</text>
<text class="tk" transform="translate(1287.65 2484.34) scale(0.945 1)">700</text>
<path class="tm" d="M797.3 2455.64v5M867.35 2455.64v5M937.4 2455.64v5M1007.45 2455.64v5M1077.5 2455.64v5M1147.55 2455.64v5M1217.6 2455.64v5M1287.65 2455.64v5"/>
<text class="ax" x="1078.35" y="2512.74">Position (Mb)</text>
</g>
<g>
<text x="1345" y="1046.9" font-size="32.6"><tspan font-style="italic">K</tspan>-mer coverage</text>
<rect x="1411.2" y="1071.8" width="33.1" height="286.3" rx="1.2" fill="url(#vir)"/>
<path d="M1411.2 1143h7.2M1437.4 1143h7.2" stroke="#fff" stroke-width="1.8"/>
<path d="M1411.2 1215h7.2M1437.4 1215h7.2" stroke="#fff" stroke-width="1.8"/>
<path d="M1411.2 1286.9h7.2M1437.4 1286.9h7.2" stroke="#fff" stroke-width="1.8"/>
<text class="lg" x="1448.4" y="1090.6">Max.</text>
<text class="lg" x="1448.4" y="1359.6">Min.</text>
</g>
</svg>
</body>
</html>
